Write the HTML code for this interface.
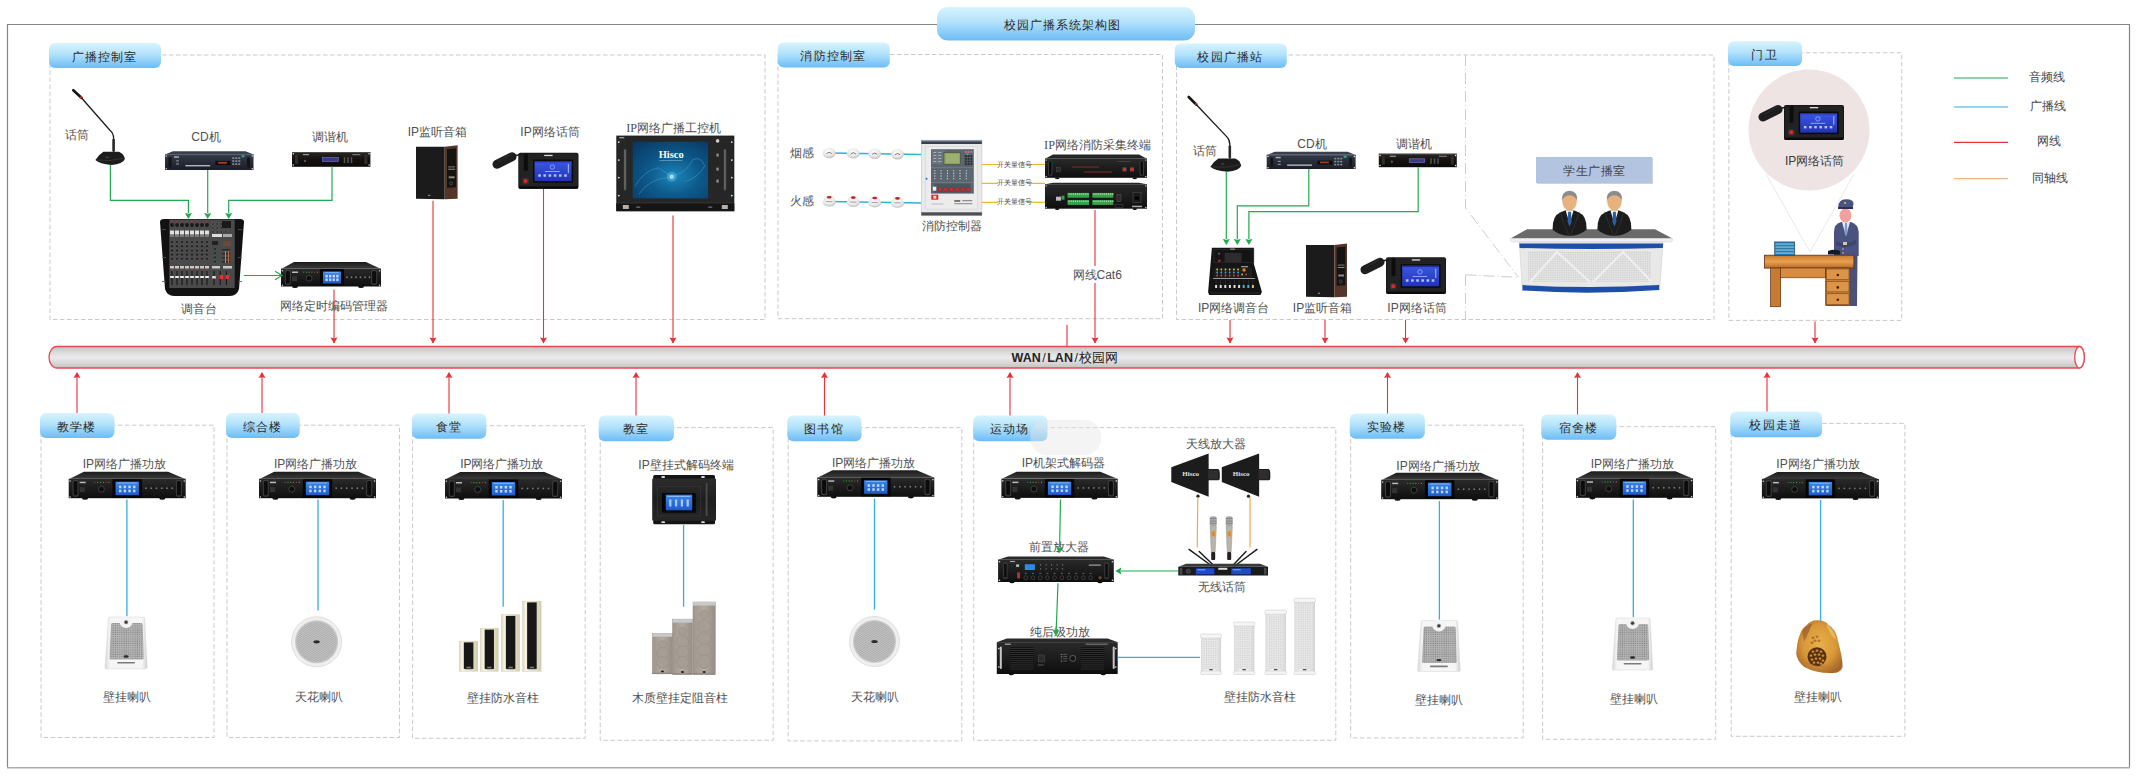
<!DOCTYPE html>
<html><head><meta charset="utf-8"><title>校园广播系统架构图</title>
<style>html,body{margin:0;padding:0;background:#fff;} svg{display:block;}</style></head>
<body>
<svg width="2137" height="776" viewBox="0 0 2137 776">
<defs>
<linearGradient id="gTag" x1="0" y1="0" x2="0" y2="1">
<stop offset="0" stop-color="#d7f4fe"/><stop offset="0.45" stop-color="#b3e2fb"/><stop offset="1" stop-color="#6cbcf7"/></linearGradient>
<linearGradient id="gPipe" x1="0" y1="0" x2="0" y2="1">
<stop offset="0" stop-color="#c4c4c4"/><stop offset="0.5" stop-color="#ececec"/><stop offset="1" stop-color="#c2c4c4"/></linearGradient>
<linearGradient id="gRack" x1="0" y1="0" x2="0" y2="1">
<stop offset="0" stop-color="#2a2a2a"/><stop offset="1" stop-color="#0e0e0e"/></linearGradient>
<linearGradient id="gRackTop" x1="0" y1="0" x2="0" y2="1">
<stop offset="0" stop-color="#1c1c1c"/><stop offset="1" stop-color="#3a3a3a"/></linearGradient>
<linearGradient id="gScreen" x1="0" y1="0" x2="0" y2="1">
<stop offset="0" stop-color="#3d86e6"/><stop offset="1" stop-color="#1d5cc8"/></linearGradient>
<radialGradient id="gCeil" cx="0.5" cy="0.5" r="0.5">
<stop offset="0" stop-color="#a8a8a8"/><stop offset="0.7" stop-color="#cfcfcf"/><stop offset="0.82" stop-color="#e8e8e8"/><stop offset="1" stop-color="#d0d0d0"/></radialGradient>
</defs>
<rect width="2137" height="776" fill="#fff"/>

<path d="M7.5,767.5 L7.5,24.5 L2129.5,24.5 L2129.5,767.5" fill="none" stroke="#858585" stroke-width="1.2"/>
<line x1="7" y1="767.8" x2="2130" y2="767.8" stroke="#ababab" stroke-width="1.4"/>
<rect x="937" y="7" width="258" height="33.5" rx="11" fill="url(#gTag)"/>
<text x="1062.5" y="24.5" font-size="12" text-anchor="middle" fill="#2a2a2a" font-weight="normal" letter-spacing="1" font-family="'Liberation Sans', sans-serif" dominant-baseline="central" >校园广播系统架构图</text>
<rect x="50" y="55" width="715" height="264.5" fill="none" stroke="#c9c9c9" stroke-width="1" stroke-dasharray="4.5 2.5"/>
<rect x="778" y="54.5" width="384.5" height="264.2" fill="none" stroke="#c9c9c9" stroke-width="1" stroke-dasharray="4.5 2.5"/>
<rect x="1176.5" y="55" width="537.5" height="264.5" fill="none" stroke="#c9c9c9" stroke-width="1" stroke-dasharray="4.5 2.5"/>
<rect x="1728.8" y="52.8" width="172.9000000000001" height="267.59999999999997" fill="none" stroke="#c9c9c9" stroke-width="1" stroke-dasharray="4.5 2.5"/>
<rect x="41" y="425.2" width="173" height="312.3" fill="none" stroke="#c9c9c9" stroke-width="1" stroke-dasharray="4.5 2.5"/>
<rect x="227" y="425.2" width="172.5" height="312.3" fill="none" stroke="#c9c9c9" stroke-width="1" stroke-dasharray="4.5 2.5"/>
<rect x="412.6" y="425.7" width="172.60000000000002" height="312.59999999999997" fill="none" stroke="#c9c9c9" stroke-width="1" stroke-dasharray="4.5 2.5"/>
<rect x="600.2" y="427.6" width="173.0" height="312.69999999999993" fill="none" stroke="#c9c9c9" stroke-width="1" stroke-dasharray="4.5 2.5"/>
<rect x="788.2" y="427.6" width="173.5999999999999" height="313.29999999999995" fill="none" stroke="#c9c9c9" stroke-width="1" stroke-dasharray="4.5 2.5"/>
<rect x="973.7" y="427.6" width="362.0999999999999" height="312.69999999999993" fill="none" stroke="#c9c9c9" stroke-width="1" stroke-dasharray="4.5 2.5"/>
<rect x="1350.7" y="425.2" width="172.5" height="312.7" fill="none" stroke="#c9c9c9" stroke-width="1" stroke-dasharray="4.5 2.5"/>
<rect x="1542.6" y="426.7" width="173.10000000000014" height="312.59999999999997" fill="none" stroke="#c9c9c9" stroke-width="1" stroke-dasharray="4.5 2.5"/>
<rect x="1731.2" y="423.4" width="173.5999999999999" height="312.9" fill="none" stroke="#c9c9c9" stroke-width="1" stroke-dasharray="4.5 2.5"/>
<rect x="49" y="43" width="112" height="25" rx="6" fill="url(#gTag)"/>
<text x="104.6" y="56.5" font-size="12" text-anchor="middle" fill="#2a2a2a" font-weight="normal" letter-spacing="1.2" font-family="'Liberation Sans', sans-serif" dominant-baseline="central" >广播控制室</text>
<rect x="777.7" y="42.4" width="112.09999999999991" height="25.1" rx="6" fill="url(#gTag)"/>
<text x="833.35" y="55.95" font-size="12" text-anchor="middle" fill="#2a2a2a" font-weight="normal" letter-spacing="1.2" font-family="'Liberation Sans', sans-serif" dominant-baseline="central" >消防控制室</text>
<rect x="1174.7" y="43.5" width="112.09999999999991" height="24.5" rx="6" fill="url(#gTag)"/>
<text x="1230.35" y="56.75" font-size="12" text-anchor="middle" fill="#2a2a2a" font-weight="normal" letter-spacing="1.2" font-family="'Liberation Sans', sans-serif" dominant-baseline="central" >校园广播站</text>
<rect x="1728" y="41.2" width="74" height="24.799999999999997" rx="6" fill="url(#gTag)"/>
<text x="1764.6" y="54.6" font-size="12" text-anchor="middle" fill="#2a2a2a" font-weight="normal" letter-spacing="1.2" font-family="'Liberation Sans', sans-serif" dominant-baseline="central" >门卫</text>
<rect x="40" y="413" width="74.5" height="25" rx="6" fill="url(#gTag)"/>
<text x="76.85" y="426.5" font-size="12" text-anchor="middle" fill="#2a2a2a" font-weight="normal" letter-spacing="1.2" font-family="'Liberation Sans', sans-serif" dominant-baseline="central" >教学楼</text>
<rect x="226" y="413" width="73.69999999999999" height="25" rx="6" fill="url(#gTag)"/>
<text x="262.45000000000005" y="426.5" font-size="12" text-anchor="middle" fill="#2a2a2a" font-weight="normal" letter-spacing="1.2" font-family="'Liberation Sans', sans-serif" dominant-baseline="central" >综合楼</text>
<rect x="412" y="413.6" width="74.30000000000001" height="25.19999999999999" rx="6" fill="url(#gTag)"/>
<text x="448.75" y="427.20000000000005" font-size="12" text-anchor="middle" fill="#2a2a2a" font-weight="normal" letter-spacing="1.2" font-family="'Liberation Sans', sans-serif" dominant-baseline="central" >食堂</text>
<rect x="598.7" y="415.5" width="75.19999999999993" height="25.69999999999999" rx="6" fill="url(#gTag)"/>
<text x="635.9" y="429.35" font-size="12" text-anchor="middle" fill="#2a2a2a" font-weight="normal" letter-spacing="1.2" font-family="'Liberation Sans', sans-serif" dominant-baseline="central" >教室</text>
<rect x="787.3" y="415.5" width="74.20000000000005" height="25.69999999999999" rx="6" fill="url(#gTag)"/>
<text x="824.0" y="429.35" font-size="12" text-anchor="middle" fill="#2a2a2a" font-weight="normal" letter-spacing="1.2" font-family="'Liberation Sans', sans-serif" dominant-baseline="central" >图书馆</text>
<rect x="973.2" y="415.5" width="74.20000000000005" height="25.69999999999999" rx="6" fill="url(#gTag)"/>
<text x="1009.9000000000001" y="429.35" font-size="12" text-anchor="middle" fill="#2a2a2a" font-weight="normal" letter-spacing="1.2" font-family="'Liberation Sans', sans-serif" dominant-baseline="central" >运动场</text>
<rect x="1349.7" y="413.6" width="75.09999999999991" height="25.19999999999999" rx="6" fill="url(#gTag)"/>
<text x="1386.85" y="427.20000000000005" font-size="12" text-anchor="middle" fill="#2a2a2a" font-weight="normal" letter-spacing="1.2" font-family="'Liberation Sans', sans-serif" dominant-baseline="central" >实验楼</text>
<rect x="1541.2" y="414.5" width="75.09999999999991" height="25.19999999999999" rx="6" fill="url(#gTag)"/>
<text x="1578.35" y="428.1" font-size="12" text-anchor="middle" fill="#2a2a2a" font-weight="normal" letter-spacing="1.2" font-family="'Liberation Sans', sans-serif" dominant-baseline="central" >宿舍楼</text>
<rect x="1730.2" y="411.6" width="91.89999999999986" height="25.599999999999966" rx="6" fill="url(#gTag)"/>
<text x="1775.75" y="425.4" font-size="12" text-anchor="middle" fill="#2a2a2a" font-weight="normal" letter-spacing="1.2" font-family="'Liberation Sans', sans-serif" dominant-baseline="central" >校园走道</text>
<rect x="1030.2" y="419.8" width="70.9" height="35.5" rx="17" fill="#e6e6e6" opacity="0.45"/>
<path d="M57,346.5 L2079.5,346.5 A4.8,10.75 0 0 1 2079.5,368 L57,368 A8,10.75 0 0 1 57,346.5 Z" fill="url(#gPipe)" stroke="#e84a52" stroke-width="1.3"/>
<ellipse cx="2079.5" cy="357.25" rx="4.8" ry="10.75" fill="#fff" stroke="#e84a52" stroke-width="1.3"/>
<text x="1065" y="357.5" font-size="12.5" text-anchor="middle" fill="#222" font-family="'Liberation Sans', sans-serif" dominant-baseline="central"><tspan font-weight="bold">WAN</tspan><tspan dx="1.5">/</tspan><tspan dx="1.5" font-weight="bold">LAN</tspan><tspan dx="1.5">/</tspan><tspan dx="1.5">校园网</tspan></text>
<line x1="1954" y1="78" x2="2008" y2="78" stroke="#22a84f" stroke-width="1.2"/>
<text x="2047" y="77" font-size="12" text-anchor="middle" fill="#444" font-weight="normal" letter-spacing="0" font-family="'Liberation Sans', sans-serif" dominant-baseline="central" >音频线</text>
<line x1="1954" y1="107" x2="2008" y2="107" stroke="#2fb0e0" stroke-width="1.2"/>
<text x="2048" y="106" font-size="12" text-anchor="middle" fill="#444" font-weight="normal" letter-spacing="0" font-family="'Liberation Sans', sans-serif" dominant-baseline="central" >广播线</text>
<line x1="1954" y1="142.4" x2="2008" y2="142.4" stroke="#e8313a" stroke-width="1.2"/>
<text x="2049" y="141.4" font-size="12" text-anchor="middle" fill="#444" font-weight="normal" letter-spacing="0" font-family="'Liberation Sans', sans-serif" dominant-baseline="central" >网线</text>
<line x1="1954" y1="178.6" x2="2008" y2="178.6" stroke="#f3b58a" stroke-width="1.2"/>
<text x="2050" y="177.6" font-size="12" text-anchor="middle" fill="#444" font-weight="normal" letter-spacing="0" font-family="'Liberation Sans', sans-serif" dominant-baseline="central" >同轴线</text>
<path d="M334,289.6 L334,343" fill="none" stroke="#e8313a" stroke-width="1.1" stroke-linejoin="miter"/>
<path d="M334,343.5 L330.5,337.5 L334,338.3 L337.5,337.5Z" fill="#e8313a"/>
<path d="M433,200.8 L433,343" fill="none" stroke="#e8313a" stroke-width="1.1" stroke-linejoin="miter"/>
<path d="M433,343.5 L429.5,337.5 L433,338.3 L436.5,337.5Z" fill="#e8313a"/>
<path d="M543.5,189 L543.5,343" fill="none" stroke="#e8313a" stroke-width="1.1" stroke-linejoin="miter"/>
<path d="M543.5,343.5 L540.0,337.5 L543.5,338.3 L547.0,337.5Z" fill="#e8313a"/>
<path d="M673,215.6 L673,343" fill="none" stroke="#e8313a" stroke-width="1.1" stroke-linejoin="miter"/>
<path d="M673,343.5 L669.5,337.5 L673,338.3 L676.5,337.5Z" fill="#e8313a"/>
<path d="M1095,210 L1095,343" fill="none" stroke="#e8313a" stroke-width="1.1" stroke-linejoin="miter"/>
<path d="M1095,343.5 L1091.5,337.5 L1095,338.3 L1098.5,337.5Z" fill="#e8313a"/>
<path d="M1230,320 L1230,343" fill="none" stroke="#e8313a" stroke-width="1.1" stroke-linejoin="miter"/>
<path d="M1230,343.5 L1226.5,337.5 L1230,338.3 L1233.5,337.5Z" fill="#e8313a"/>
<path d="M1325,320 L1325,343" fill="none" stroke="#e8313a" stroke-width="1.1" stroke-linejoin="miter"/>
<path d="M1325,343.5 L1321.5,337.5 L1325,338.3 L1328.5,337.5Z" fill="#e8313a"/>
<path d="M1405.5,320 L1405.5,343" fill="none" stroke="#e8313a" stroke-width="1.1" stroke-linejoin="miter"/>
<path d="M1405.5,343.5 L1402.0,337.5 L1405.5,338.3 L1409.0,337.5Z" fill="#e8313a"/>
<path d="M1815,321.6 L1815,343" fill="none" stroke="#e8313a" stroke-width="1.1" stroke-linejoin="miter"/>
<path d="M1815,343.5 L1811.5,337.5 L1815,338.3 L1818.5,337.5Z" fill="#e8313a"/>
<path d="M1067,324.7 L1067,346" fill="none" stroke="#e8313a" stroke-width="1.1" stroke-linejoin="miter"/>
<path d="M77,413 L77,373" fill="none" stroke="#e8313a" stroke-width="1.1" stroke-linejoin="miter"/>
<path d="M77,372 L73.5,378 L77,377.2 L80.5,378Z" fill="#e8313a"/>
<path d="M262,413 L262,373" fill="none" stroke="#e8313a" stroke-width="1.1" stroke-linejoin="miter"/>
<path d="M262,372 L258.5,378 L262,377.2 L265.5,378Z" fill="#e8313a"/>
<path d="M449,413.6 L449,373" fill="none" stroke="#e8313a" stroke-width="1.1" stroke-linejoin="miter"/>
<path d="M449,372 L445.5,378 L449,377.2 L452.5,378Z" fill="#e8313a"/>
<path d="M636,415.5 L636,373" fill="none" stroke="#e8313a" stroke-width="1.1" stroke-linejoin="miter"/>
<path d="M636,372 L632.5,378 L636,377.2 L639.5,378Z" fill="#e8313a"/>
<path d="M824.5,415.5 L824.5,373" fill="none" stroke="#e8313a" stroke-width="1.1" stroke-linejoin="miter"/>
<path d="M824.5,372 L821.0,378 L824.5,377.2 L828.0,378Z" fill="#e8313a"/>
<path d="M1010,415.5 L1010,373" fill="none" stroke="#e8313a" stroke-width="1.1" stroke-linejoin="miter"/>
<path d="M1010,372 L1006.5,378 L1010,377.2 L1013.5,378Z" fill="#e8313a"/>
<path d="M1387.5,413.6 L1387.5,373" fill="none" stroke="#e8313a" stroke-width="1.1" stroke-linejoin="miter"/>
<path d="M1387.5,372 L1384.0,378 L1387.5,377.2 L1391.0,378Z" fill="#e8313a"/>
<path d="M1577.5,414.5 L1577.5,373" fill="none" stroke="#e8313a" stroke-width="1.1" stroke-linejoin="miter"/>
<path d="M1577.5,372 L1574.0,378 L1577.5,377.2 L1581.0,378Z" fill="#e8313a"/>
<path d="M1767,411.6 L1767,373" fill="none" stroke="#e8313a" stroke-width="1.1" stroke-linejoin="miter"/>
<path d="M1767,372 L1763.5,378 L1767,377.2 L1770.5,378Z" fill="#e8313a"/>
<line x1="73.3" y1="90.2" x2="81.4" y2="97.8" stroke="#151515" stroke-width="2.6" stroke-linecap="round"/>
<line x1="80.43" y1="96.89" x2="81.81" y2="98.18" stroke="#d83a2a" stroke-width="2.8"/>
<path d="M81.4,97.8 L109.9,130.2 Q113.6,133.2 113.6,138.3 L113.6,151.7" fill="none" stroke="#1a1a1a" stroke-width="1.3" />
<rect x="112.30" y="138.70" width="2.60" height="13.00" rx="1" fill="#2a2a2a" stroke="none" stroke-width="1" />
<path d="M103.4,151.7 L118.9,151.7 Q123.9,153.7 124.9,159 Q122.9,164 111.62,165 Q99.4,164 95.4,160 Q98.4,154.7 103.4,151.7 Z" fill="#1c1c1c" stroke="none" stroke-width="1" />
<path d="M97.4,160 Q110.15,162 123.9,158" fill="none" stroke="#4a4a4a" stroke-width="0.5" />
<rect x="105.73" y="156.70" width="3.00" height="1.00" rx="0" fill="#555" stroke="none" stroke-width="1" />
<text x="76.5" y="134.8" font-size="12" text-anchor="middle" fill="#505050" font-weight="normal" letter-spacing="0" font-family="'Liberation Sans', sans-serif" dominant-baseline="central" >话筒</text>
<polygon points="173.00,151.30 245.50,151.30 253.00,154.30 165.50,154.30" fill="#3a3f4e" stroke="none" stroke-width="1"/>
<defs><linearGradient id="gCd" x1="0" y1="0" x2="0" y2="1"><stop offset="0" stop-color="#353a48"/><stop offset="1" stop-color="#1b1e27"/></linearGradient></defs>
<rect x="165.00" y="154.30" width="88.50" height="15.70" rx="0" fill="url(#gCd)" stroke="none" stroke-width="1" />
<rect x="165.00" y="154.30" width="88.50" height="0.80" rx="0" fill="#5a6070" stroke="none" stroke-width="1" />
<rect x="165.50" y="155.30" width="1.50" height="1.50" rx="0.7" fill="#ddd" stroke="none" stroke-width="1" />
<rect x="251.50" y="155.30" width="1.50" height="1.50" rx="0.7" fill="#ddd" stroke="none" stroke-width="1" />
<rect x="165.50" y="168.00" width="1.50" height="1.50" rx="0.7" fill="#ddd" stroke="none" stroke-width="1" />
<rect x="251.50" y="168.00" width="1.50" height="1.50" rx="0.7" fill="#ddd" stroke="none" stroke-width="1" />
<rect x="168.50" y="157.30" width="3.00" height="10.20" rx="1" fill="#12141a" stroke="none" stroke-width="1" />
<rect x="247.00" y="157.30" width="3.00" height="10.20" rx="1" fill="#12141a" stroke="none" stroke-width="1" />
<rect x="174.00" y="156.30" width="5.00" height="1.50" rx="0" fill="#aab" stroke="none" stroke-width="1" />
<rect x="176.00" y="160.30" width="3.00" height="1.20" rx="0" fill="#889" stroke="none" stroke-width="1" />
<rect x="176.00" y="163.30" width="3.00" height="1.20" rx="0" fill="#889" stroke="none" stroke-width="1" />
<rect x="185.35" y="165.12" width="24.78" height="1.20" rx="0" fill="#c8ccd8" stroke="none" stroke-width="1" />
<rect x="215.44" y="160.90" width="15.05" height="4.22" rx="0" fill="#0d0d10" stroke="none" stroke-width="1" />
<rect x="218.10" y="161.86" width="8.85" height="1.92" rx="0" fill="#c84a1a" stroke="none" stroke-width="1" opacity="0.8"/>
<rect x="232.26" y="157.30" width="2.00" height="1.60" rx="0" fill="#8890a0" stroke="none" stroke-width="1" />
<rect x="235.26" y="157.30" width="2.00" height="1.60" rx="0" fill="#8890a0" stroke="none" stroke-width="1" />
<rect x="238.26" y="157.30" width="2.00" height="1.60" rx="0" fill="#8890a0" stroke="none" stroke-width="1" />
<rect x="232.26" y="160.30" width="2.00" height="1.60" rx="0" fill="#8890a0" stroke="none" stroke-width="1" />
<rect x="235.26" y="160.30" width="2.00" height="1.60" rx="0" fill="#8890a0" stroke="none" stroke-width="1" />
<rect x="238.26" y="160.30" width="2.00" height="1.60" rx="0" fill="#8890a0" stroke="none" stroke-width="1" />
<rect x="232.26" y="163.30" width="2.00" height="1.60" rx="0" fill="#8890a0" stroke="none" stroke-width="1" />
<rect x="235.26" y="163.30" width="2.00" height="1.60" rx="0" fill="#8890a0" stroke="none" stroke-width="1" />
<rect x="238.26" y="163.30" width="2.00" height="1.60" rx="0" fill="#8890a0" stroke="none" stroke-width="1" />
<rect x="241.50" y="155.30" width="3.00" height="2.00" rx="0" fill="#3a8" stroke="none" stroke-width="1" />
<text x="206" y="137" font-size="12" text-anchor="middle" fill="#505050" font-weight="normal" letter-spacing="0" font-family="'Liberation Sans', sans-serif" dominant-baseline="central" >CD机</text>
<defs><linearGradient id="gTun" x1="0" y1="0" x2="0" y2="1"><stop offset="0" stop-color="#2a2624"/><stop offset="0.5" stop-color="#14120f"/><stop offset="1" stop-color="#0a0a0a"/></linearGradient></defs>
<rect x="292.00" y="152.00" width="78.40" height="14.80" rx="0" fill="url(#gTun)" stroke="none" stroke-width="1" />
<rect x="292.00" y="152.00" width="78.40" height="0.80" rx="0" fill="#555" stroke="none" stroke-width="1" />
<rect x="292.50" y="153.00" width="1.50" height="1.50" rx="0.7" fill="#e8e8e8" stroke="none" stroke-width="1" />
<rect x="368.40" y="153.00" width="1.50" height="1.50" rx="0.7" fill="#e8e8e8" stroke="none" stroke-width="1" />
<rect x="292.50" y="164.30" width="1.50" height="1.50" rx="0.7" fill="#e8e8e8" stroke="none" stroke-width="1" />
<rect x="368.40" y="164.30" width="1.50" height="1.50" rx="0.7" fill="#e8e8e8" stroke="none" stroke-width="1" />
<rect x="295.00" y="154.50" width="3.00" height="9.80" rx="1" fill="#2e2e2e" stroke="none" stroke-width="1" />
<rect x="364.40" y="154.50" width="3.00" height="9.80" rx="1" fill="#2e2e2e" stroke="none" stroke-width="1" />
<rect x="322.58" y="157.62" width="15.68" height="4.00" rx="0" fill="#3a3a80" stroke="#7a7ad0" stroke-width="0.6" />
<rect x="303.00" y="154.00" width="6.00" height="1.20" rx="0" fill="#999" stroke="none" stroke-width="1" />
<circle cx="305" cy="160.88" r="1.2" fill="#555"/>
<rect x="343.74" y="157.18" width="1.50" height="5.92" rx="0" fill="#555" stroke="none" stroke-width="1" />
<rect x="347.24" y="157.18" width="1.50" height="5.92" rx="0" fill="#555" stroke="none" stroke-width="1" />
<rect x="350.74" y="157.18" width="1.50" height="5.92" rx="0" fill="#555" stroke="none" stroke-width="1" />
<rect x="352.40" y="154.00" width="8.00" height="1.20" rx="0" fill="#777" stroke="none" stroke-width="1" />
<text x="330" y="137" font-size="12" text-anchor="middle" fill="#505050" font-weight="normal" letter-spacing="0" font-family="'Liberation Sans', sans-serif" dominant-baseline="central" >调谐机</text>
<path d="M160,222 Q160,219 164,219 L240,219 Q244,219 244,222 L239,289 Q237,296 230,296 L174,296 Q167,296 165,289 Z" fill="#121212" stroke="none" stroke-width="1" />
<rect x="162.00" y="229.00" width="4.00" height="0.80" rx="0" fill="#555" stroke="none" stroke-width="1" />
<rect x="238.00" y="229.00" width="4.00" height="0.80" rx="0" fill="#555" stroke="none" stroke-width="1" />
<rect x="162.00" y="257.00" width="4.00" height="0.80" rx="0" fill="#555" stroke="none" stroke-width="1" />
<rect x="238.00" y="257.00" width="4.00" height="0.80" rx="0" fill="#555" stroke="none" stroke-width="1" />
<rect x="162.00" y="281.00" width="4.00" height="0.80" rx="0" fill="#555" stroke="none" stroke-width="1" />
<rect x="238.00" y="281.00" width="4.00" height="0.80" rx="0" fill="#555" stroke="none" stroke-width="1" />
<rect x="169.30" y="219.50" width="65.40" height="68.50" rx="0" fill="#4a4a4a" stroke="none" stroke-width="1" />
<circle cx="172.00" cy="225.00" r="1.9" fill="#1a1a1a"/>
<rect x="171.60" y="221.00" width="0.80" height="1.20" rx="0" fill="#d33" stroke="none" stroke-width="1" />
<rect x="170.00" y="230.50" width="4.00" height="4.00" rx="0" fill="#e0e0e0" stroke="none" stroke-width="1" />
<rect x="170.00" y="235.50" width="4.00" height="1.00" rx="0" fill="#aaa" stroke="none" stroke-width="1" />
<circle cx="172.00" cy="242.00" r="1.5" fill="#1e1e1e" stroke="#777" stroke-width="0.35"/>
<circle cx="172.00" cy="246.20" r="1.5" fill="#1e1e1e" stroke="#777" stroke-width="0.35"/>
<circle cx="172.00" cy="250.40" r="1.5" fill="#1e1e1e" stroke="#777" stroke-width="0.35"/>
<circle cx="172.00" cy="254.60" r="1.5" fill="#1e1e1e" stroke="#777" stroke-width="0.35"/>
<circle cx="172.00" cy="258.80" r="1.5" fill="#1e1e1e" stroke="#777" stroke-width="0.35"/>
<rect x="170.00" y="266.00" width="4.00" height="2.50" rx="0" fill="#c8c8c8" stroke="none" stroke-width="1" />
<rect x="171.50" y="271.00" width="1.00" height="14.00" rx="0" fill="#111" stroke="none" stroke-width="1" />
<rect x="170.20" y="276.00" width="3.60" height="2.00" rx="0" fill="#eee" stroke="none" stroke-width="1" />
<rect x="171.60" y="269.50" width="0.80" height="1.00" rx="0" fill="#d33" stroke="none" stroke-width="1" />
<circle cx="177.00" cy="225.00" r="1.9" fill="#1a1a1a"/>
<rect x="176.60" y="221.00" width="0.80" height="1.20" rx="0" fill="#d33" stroke="none" stroke-width="1" />
<rect x="175.00" y="230.50" width="4.00" height="4.00" rx="0" fill="#e0e0e0" stroke="none" stroke-width="1" />
<rect x="175.00" y="235.50" width="4.00" height="1.00" rx="0" fill="#aaa" stroke="none" stroke-width="1" />
<circle cx="177.00" cy="242.00" r="1.5" fill="#1e1e1e" stroke="#777" stroke-width="0.35"/>
<circle cx="177.00" cy="246.20" r="1.5" fill="#1e1e1e" stroke="#777" stroke-width="0.35"/>
<circle cx="177.00" cy="250.40" r="1.5" fill="#1e1e1e" stroke="#777" stroke-width="0.35"/>
<circle cx="177.00" cy="254.60" r="1.5" fill="#1e1e1e" stroke="#777" stroke-width="0.35"/>
<circle cx="177.00" cy="258.80" r="1.5" fill="#1e1e1e" stroke="#777" stroke-width="0.35"/>
<rect x="175.00" y="266.00" width="4.00" height="2.50" rx="0" fill="#c8c8c8" stroke="none" stroke-width="1" />
<rect x="176.50" y="271.00" width="1.00" height="14.00" rx="0" fill="#111" stroke="none" stroke-width="1" />
<rect x="175.20" y="276.00" width="3.60" height="2.00" rx="0" fill="#eee" stroke="none" stroke-width="1" />
<rect x="176.60" y="269.50" width="0.80" height="1.00" rx="0" fill="#d33" stroke="none" stroke-width="1" />
<circle cx="182.00" cy="225.00" r="1.9" fill="#1a1a1a"/>
<rect x="181.60" y="221.00" width="0.80" height="1.20" rx="0" fill="#d33" stroke="none" stroke-width="1" />
<rect x="180.00" y="230.50" width="4.00" height="4.00" rx="0" fill="#e0e0e0" stroke="none" stroke-width="1" />
<rect x="180.00" y="235.50" width="4.00" height="1.00" rx="0" fill="#aaa" stroke="none" stroke-width="1" />
<circle cx="182.00" cy="242.00" r="1.5" fill="#1e1e1e" stroke="#777" stroke-width="0.35"/>
<circle cx="182.00" cy="246.20" r="1.5" fill="#1e1e1e" stroke="#777" stroke-width="0.35"/>
<circle cx="182.00" cy="250.40" r="1.5" fill="#1e1e1e" stroke="#777" stroke-width="0.35"/>
<circle cx="182.00" cy="254.60" r="1.5" fill="#1e1e1e" stroke="#777" stroke-width="0.35"/>
<circle cx="182.00" cy="258.80" r="1.5" fill="#1e1e1e" stroke="#777" stroke-width="0.35"/>
<rect x="180.00" y="266.00" width="4.00" height="2.50" rx="0" fill="#c8c8c8" stroke="none" stroke-width="1" />
<rect x="181.50" y="271.00" width="1.00" height="14.00" rx="0" fill="#111" stroke="none" stroke-width="1" />
<rect x="180.20" y="276.00" width="3.60" height="2.00" rx="0" fill="#eee" stroke="none" stroke-width="1" />
<rect x="181.60" y="269.50" width="0.80" height="1.00" rx="0" fill="#d33" stroke="none" stroke-width="1" />
<circle cx="187.00" cy="225.00" r="1.9" fill="#1a1a1a"/>
<rect x="186.60" y="221.00" width="0.80" height="1.20" rx="0" fill="#d33" stroke="none" stroke-width="1" />
<rect x="185.00" y="230.50" width="4.00" height="4.00" rx="0" fill="#e0e0e0" stroke="none" stroke-width="1" />
<rect x="185.00" y="235.50" width="4.00" height="1.00" rx="0" fill="#aaa" stroke="none" stroke-width="1" />
<circle cx="187.00" cy="242.00" r="1.5" fill="#1e1e1e" stroke="#777" stroke-width="0.35"/>
<circle cx="187.00" cy="246.20" r="1.5" fill="#1e1e1e" stroke="#777" stroke-width="0.35"/>
<circle cx="187.00" cy="250.40" r="1.5" fill="#1e1e1e" stroke="#777" stroke-width="0.35"/>
<circle cx="187.00" cy="254.60" r="1.5" fill="#1e1e1e" stroke="#777" stroke-width="0.35"/>
<circle cx="187.00" cy="258.80" r="1.5" fill="#1e1e1e" stroke="#777" stroke-width="0.35"/>
<rect x="185.00" y="266.00" width="4.00" height="2.50" rx="0" fill="#c8c8c8" stroke="none" stroke-width="1" />
<rect x="186.50" y="271.00" width="1.00" height="14.00" rx="0" fill="#111" stroke="none" stroke-width="1" />
<rect x="185.20" y="276.00" width="3.60" height="2.00" rx="0" fill="#eee" stroke="none" stroke-width="1" />
<rect x="186.60" y="269.50" width="0.80" height="1.00" rx="0" fill="#d33" stroke="none" stroke-width="1" />
<circle cx="192.00" cy="225.00" r="1.9" fill="#1a1a1a"/>
<rect x="191.60" y="221.00" width="0.80" height="1.20" rx="0" fill="#d33" stroke="none" stroke-width="1" />
<rect x="190.00" y="230.50" width="4.00" height="4.00" rx="0" fill="#e0e0e0" stroke="none" stroke-width="1" />
<rect x="190.00" y="235.50" width="4.00" height="1.00" rx="0" fill="#aaa" stroke="none" stroke-width="1" />
<circle cx="192.00" cy="242.00" r="1.5" fill="#1e1e1e" stroke="#777" stroke-width="0.35"/>
<circle cx="192.00" cy="246.20" r="1.5" fill="#1e1e1e" stroke="#777" stroke-width="0.35"/>
<circle cx="192.00" cy="250.40" r="1.5" fill="#1e1e1e" stroke="#777" stroke-width="0.35"/>
<circle cx="192.00" cy="254.60" r="1.5" fill="#1e1e1e" stroke="#777" stroke-width="0.35"/>
<circle cx="192.00" cy="258.80" r="1.5" fill="#1e1e1e" stroke="#777" stroke-width="0.35"/>
<rect x="190.00" y="266.00" width="4.00" height="2.50" rx="0" fill="#c8c8c8" stroke="none" stroke-width="1" />
<rect x="191.50" y="271.00" width="1.00" height="14.00" rx="0" fill="#111" stroke="none" stroke-width="1" />
<rect x="190.20" y="276.00" width="3.60" height="2.00" rx="0" fill="#eee" stroke="none" stroke-width="1" />
<rect x="191.60" y="269.50" width="0.80" height="1.00" rx="0" fill="#d33" stroke="none" stroke-width="1" />
<circle cx="197.00" cy="225.00" r="1.9" fill="#1a1a1a"/>
<rect x="196.60" y="221.00" width="0.80" height="1.20" rx="0" fill="#d33" stroke="none" stroke-width="1" />
<rect x="195.00" y="230.50" width="4.00" height="4.00" rx="0" fill="#e0e0e0" stroke="none" stroke-width="1" />
<rect x="195.00" y="235.50" width="4.00" height="1.00" rx="0" fill="#aaa" stroke="none" stroke-width="1" />
<circle cx="197.00" cy="242.00" r="1.5" fill="#1e1e1e" stroke="#777" stroke-width="0.35"/>
<circle cx="197.00" cy="246.20" r="1.5" fill="#1e1e1e" stroke="#777" stroke-width="0.35"/>
<circle cx="197.00" cy="250.40" r="1.5" fill="#1e1e1e" stroke="#777" stroke-width="0.35"/>
<circle cx="197.00" cy="254.60" r="1.5" fill="#1e1e1e" stroke="#777" stroke-width="0.35"/>
<circle cx="197.00" cy="258.80" r="1.5" fill="#1e1e1e" stroke="#777" stroke-width="0.35"/>
<rect x="195.00" y="266.00" width="4.00" height="2.50" rx="0" fill="#c8c8c8" stroke="none" stroke-width="1" />
<rect x="196.50" y="271.00" width="1.00" height="14.00" rx="0" fill="#111" stroke="none" stroke-width="1" />
<rect x="195.20" y="276.00" width="3.60" height="2.00" rx="0" fill="#eee" stroke="none" stroke-width="1" />
<rect x="196.60" y="269.50" width="0.80" height="1.00" rx="0" fill="#d33" stroke="none" stroke-width="1" />
<circle cx="202.00" cy="225.00" r="1.9" fill="#1a1a1a"/>
<rect x="201.60" y="221.00" width="0.80" height="1.20" rx="0" fill="#d33" stroke="none" stroke-width="1" />
<rect x="200.00" y="230.50" width="4.00" height="4.00" rx="0" fill="#e0e0e0" stroke="none" stroke-width="1" />
<rect x="200.00" y="235.50" width="4.00" height="1.00" rx="0" fill="#aaa" stroke="none" stroke-width="1" />
<circle cx="202.00" cy="242.00" r="1.5" fill="#1e1e1e" stroke="#777" stroke-width="0.35"/>
<circle cx="202.00" cy="246.20" r="1.5" fill="#1e1e1e" stroke="#777" stroke-width="0.35"/>
<circle cx="202.00" cy="250.40" r="1.5" fill="#1e1e1e" stroke="#777" stroke-width="0.35"/>
<circle cx="202.00" cy="254.60" r="1.5" fill="#1e1e1e" stroke="#777" stroke-width="0.35"/>
<circle cx="202.00" cy="258.80" r="1.5" fill="#1e1e1e" stroke="#777" stroke-width="0.35"/>
<rect x="200.00" y="266.00" width="4.00" height="2.50" rx="0" fill="#c8c8c8" stroke="none" stroke-width="1" />
<rect x="201.50" y="271.00" width="1.00" height="14.00" rx="0" fill="#111" stroke="none" stroke-width="1" />
<rect x="200.20" y="276.00" width="3.60" height="2.00" rx="0" fill="#eee" stroke="none" stroke-width="1" />
<rect x="201.60" y="269.50" width="0.80" height="1.00" rx="0" fill="#d33" stroke="none" stroke-width="1" />
<circle cx="207.00" cy="225.00" r="1.9" fill="#1a1a1a"/>
<rect x="206.60" y="221.00" width="0.80" height="1.20" rx="0" fill="#d33" stroke="none" stroke-width="1" />
<rect x="205.00" y="230.50" width="4.00" height="4.00" rx="0" fill="#e0e0e0" stroke="none" stroke-width="1" />
<rect x="205.00" y="235.50" width="4.00" height="1.00" rx="0" fill="#aaa" stroke="none" stroke-width="1" />
<circle cx="207.00" cy="242.00" r="1.5" fill="#1e1e1e" stroke="#777" stroke-width="0.35"/>
<circle cx="207.00" cy="246.20" r="1.5" fill="#1e1e1e" stroke="#777" stroke-width="0.35"/>
<circle cx="207.00" cy="250.40" r="1.5" fill="#1e1e1e" stroke="#777" stroke-width="0.35"/>
<circle cx="207.00" cy="254.60" r="1.5" fill="#1e1e1e" stroke="#777" stroke-width="0.35"/>
<circle cx="207.00" cy="258.80" r="1.5" fill="#1e1e1e" stroke="#777" stroke-width="0.35"/>
<rect x="205.00" y="266.00" width="4.00" height="2.50" rx="0" fill="#c8c8c8" stroke="none" stroke-width="1" />
<rect x="206.50" y="271.00" width="1.00" height="14.00" rx="0" fill="#111" stroke="none" stroke-width="1" />
<rect x="205.20" y="276.00" width="3.60" height="2.00" rx="0" fill="#eee" stroke="none" stroke-width="1" />
<rect x="206.60" y="269.50" width="0.80" height="1.00" rx="0" fill="#d33" stroke="none" stroke-width="1" />
<circle cx="213.00" cy="224.00" r="1.3" fill="#2a2a2a" stroke="#888" stroke-width="0.3"/>
<circle cx="217.20" cy="224.00" r="1.3" fill="#2a2a2a" stroke="#888" stroke-width="0.3"/>
<circle cx="221.40" cy="224.00" r="1.3" fill="#2a2a2a" stroke="#888" stroke-width="0.3"/>
<circle cx="225.60" cy="224.00" r="1.3" fill="#2a2a2a" stroke="#888" stroke-width="0.3"/>
<circle cx="213.00" cy="228.00" r="1.3" fill="#2a2a2a" stroke="#888" stroke-width="0.3"/>
<circle cx="217.20" cy="228.00" r="1.3" fill="#2a2a2a" stroke="#888" stroke-width="0.3"/>
<circle cx="221.40" cy="228.00" r="1.3" fill="#2a2a2a" stroke="#888" stroke-width="0.3"/>
<circle cx="225.60" cy="228.00" r="1.3" fill="#2a2a2a" stroke="#888" stroke-width="0.3"/>
<circle cx="213.00" cy="232.00" r="1.3" fill="#2a2a2a" stroke="#888" stroke-width="0.3"/>
<circle cx="217.20" cy="232.00" r="1.3" fill="#2a2a2a" stroke="#888" stroke-width="0.3"/>
<circle cx="221.40" cy="232.00" r="1.3" fill="#2a2a2a" stroke="#888" stroke-width="0.3"/>
<circle cx="225.60" cy="232.00" r="1.3" fill="#2a2a2a" stroke="#888" stroke-width="0.3"/>
<rect x="222.00" y="221.00" width="9.00" height="7.00" rx="0" fill="#1a1a1a" stroke="none" stroke-width="1" />
<rect x="212.00" y="234.00" width="10.00" height="3.00" rx="0" fill="#ddd" stroke="none" stroke-width="1" />
<rect x="223.00" y="234.00" width="9.00" height="3.00" rx="0" fill="#aaa" stroke="none" stroke-width="1" />
<rect x="223.00" y="241.00" width="8.00" height="5.00" rx="0" fill="#6a4a3a" stroke="none" stroke-width="1" />
<rect x="212.00" y="241.00" width="6.00" height="4.00" rx="0" fill="#222" stroke="none" stroke-width="1" />
<circle cx="215.00" cy="249.00" r="1.4" fill="#1e1e1e" stroke="#3a8" stroke-width="0.3"/>
<rect x="222.00" y="249.00" width="8.00" height="1.50" rx="0" fill="#2a2a2a" stroke="none" stroke-width="1" />
<circle cx="215.00" cy="253.20" r="1.4" fill="#1e1e1e" stroke="#3a8" stroke-width="0.3"/>
<rect x="222.00" y="253.00" width="8.00" height="1.50" rx="0" fill="#2a2a2a" stroke="none" stroke-width="1" />
<circle cx="215.00" cy="257.40" r="1.4" fill="#1e1e1e" stroke="#3a8" stroke-width="0.3"/>
<rect x="222.00" y="257.00" width="8.00" height="1.50" rx="0" fill="#2a2a2a" stroke="none" stroke-width="1" />
<circle cx="215.00" cy="261.60" r="1.4" fill="#1e1e1e" stroke="#3a8" stroke-width="0.3"/>
<rect x="222.00" y="261.00" width="8.00" height="1.50" rx="0" fill="#2a2a2a" stroke="none" stroke-width="1" />
<rect x="225.00" y="251.00" width="1.00" height="12.00" rx="0" fill="#3c6" stroke="none" stroke-width="1" />
<rect x="228.00" y="251.00" width="1.00" height="12.00" rx="0" fill="#c63" stroke="none" stroke-width="1" />
<rect x="212.00" y="266.00" width="8.00" height="2.50" rx="0" fill="#c8c8c8" stroke="none" stroke-width="1" />
<rect x="223.00" y="266.00" width="9.00" height="2.50" rx="0" fill="#c8c8c8" stroke="none" stroke-width="1" />
<rect x="213.50" y="271.00" width="1.00" height="14.00" rx="0" fill="#111" stroke="none" stroke-width="1" />
<rect x="219.70" y="271.00" width="1.00" height="14.00" rx="0" fill="#111" stroke="none" stroke-width="1" />
<rect x="225.90" y="271.00" width="1.00" height="14.00" rx="0" fill="#111" stroke="none" stroke-width="1" />
<rect x="212.20" y="276.00" width="3.60" height="2.50" rx="0" fill="#ddd" stroke="none" stroke-width="1" />
<rect x="219.50" y="275.00" width="3.60" height="4.00" rx="0" fill="#d33" stroke="none" stroke-width="1" />
<rect x="225.50" y="275.00" width="3.60" height="4.00" rx="0" fill="#d33" stroke="none" stroke-width="1" />
<text x="199" y="308.5" font-size="12" text-anchor="middle" fill="#505050" font-weight="normal" letter-spacing="0" font-family="'Liberation Sans', sans-serif" dominant-baseline="central" >调音台</text>
<polygon points="294.00,262.00 366.00,262.00 380.00,268.50 282.00,268.50" fill="url(#gRackTop)" stroke="none" stroke-width="1"/>
<rect x="281.00" y="268.50" width="100.00" height="18.00" rx="0" fill="url(#gRack)" stroke="none" stroke-width="1" />
<rect x="281.60" y="270.00" width="1.60" height="1.60" rx="0.8" fill="#cfcfcf" stroke="none" stroke-width="1" />
<rect x="378.80" y="270.00" width="1.60" height="1.60" rx="0.8" fill="#cfcfcf" stroke="none" stroke-width="1" />
<rect x="281.60" y="284.50" width="1.60" height="1.60" rx="0.8" fill="#cfcfcf" stroke="none" stroke-width="1" />
<rect x="378.80" y="284.50" width="1.60" height="1.60" rx="0.8" fill="#cfcfcf" stroke="none" stroke-width="1" />
<rect x="284.80" y="269.70" width="6.00" height="15.30" rx="2" fill="#3e3e3e" stroke="none" stroke-width="1" />
<rect x="285.80" y="270.90" width="4.00" height="12.90" rx="1.5" fill="#0c0c0c" stroke="none" stroke-width="1" />
<rect x="371.20" y="269.70" width="6.00" height="15.30" rx="2" fill="#3e3e3e" stroke="none" stroke-width="1" />
<rect x="372.20" y="270.90" width="4.00" height="12.90" rx="1.5" fill="#0c0c0c" stroke="none" stroke-width="1" />
<ellipse cx="295.00" cy="286.80" rx="3" ry="1.3" fill="#111"/>
<ellipse cx="361.00" cy="286.80" rx="3" ry="1.3" fill="#111"/>
<rect x="320.00" y="269.00" width="24.00" height="17.00" rx="0" fill="#050505" stroke="none" stroke-width="1" />
<rect x="323.00" y="271.50" width="18.00" height="12.00" rx="0" fill="url(#gScreen)" stroke="none" stroke-width="1" />
<rect x="325.00" y="272.50" width="14.00" height="0.60" rx="0" fill="#a8ccff" stroke="none" stroke-width="1" />
<rect x="325.40" y="274.86" width="2.40" height="2.60" rx="0" fill="#d8e8ff" stroke="none" stroke-width="1" opacity="0.85"/>
<rect x="325.40" y="278.46" width="2.40" height="2.60" rx="0" fill="#d8e8ff" stroke="none" stroke-width="1" opacity="0.85"/>
<rect x="329.00" y="274.86" width="2.40" height="2.60" rx="0" fill="#d8e8ff" stroke="none" stroke-width="1" opacity="0.85"/>
<rect x="329.00" y="278.46" width="2.40" height="2.60" rx="0" fill="#d8e8ff" stroke="none" stroke-width="1" opacity="0.85"/>
<rect x="332.60" y="274.86" width="2.40" height="2.60" rx="0" fill="#d8e8ff" stroke="none" stroke-width="1" opacity="0.85"/>
<rect x="332.60" y="278.46" width="2.40" height="2.60" rx="0" fill="#d8e8ff" stroke="none" stroke-width="1" opacity="0.85"/>
<rect x="336.20" y="274.86" width="2.40" height="2.60" rx="0" fill="#d8e8ff" stroke="none" stroke-width="1" opacity="0.85"/>
<rect x="336.20" y="278.46" width="2.40" height="2.60" rx="0" fill="#d8e8ff" stroke="none" stroke-width="1" opacity="0.85"/>
<rect x="292.00" y="271.50" width="6.00" height="1.50" rx="0" fill="#bbb" stroke="none" stroke-width="1" />
<rect x="303.00" y="271.70" width="1.00" height="1.00" rx="0" fill="#666" stroke="none" stroke-width="1" />
<rect x="305.80" y="271.70" width="1.00" height="1.00" rx="0" fill="#3c3" stroke="none" stroke-width="1" />
<rect x="308.60" y="271.70" width="1.00" height="1.00" rx="0" fill="#3c3" stroke="none" stroke-width="1" />
<rect x="311.40" y="271.70" width="1.00" height="1.00" rx="0" fill="#3c3" stroke="none" stroke-width="1" />
<rect x="314.20" y="271.70" width="1.00" height="1.00" rx="0" fill="#c33" stroke="none" stroke-width="1" />
<rect x="317.00" y="271.70" width="1.00" height="1.00" rx="0" fill="#c83" stroke="none" stroke-width="1" />
<circle cx="309.00" cy="278.25" r="3" fill="#0d0d0d" stroke="#4a4a4a" stroke-width="0.8"/>
<rect x="292.00" y="276.30" width="5.00" height="5.00" rx="0" fill="#333" stroke="none" stroke-width="1" />
<circle cx="347.00" cy="277.27" r="0.9" fill="#777"/>
<circle cx="351.50" cy="277.27" r="0.9" fill="#777"/>
<circle cx="356.00" cy="277.27" r="0.9" fill="#777"/>
<circle cx="360.50" cy="277.27" r="0.9" fill="#777"/>
<circle cx="365.00" cy="277.27" r="0.9" fill="#777"/>
<circle cx="369.50" cy="277.27" r="0.9" fill="#777"/>
<text x="334" y="305.7" font-size="12" text-anchor="middle" fill="#505050" font-weight="normal" letter-spacing="0" font-family="'Liberation Sans', sans-serif" dominant-baseline="central" >网络定时编码管理器</text>
<polygon points="416.00,146.80 444.70,146.80 444.70,199.30 416.00,198.80" fill="#1b1b1b" stroke="none" stroke-width="1"/>
<polygon points="444.70,146.80 457.60,145.30 457.60,198.80 444.70,199.30" fill="#553528" stroke="none" stroke-width="1"/>
<polygon points="447.00,149.30 456.00,148.30 456.00,187.30 447.00,187.80" fill="#141414" stroke="none" stroke-width="1"/>
<rect x="448.20" y="166.30" width="6.90" height="1.20" rx="0" fill="#6a6a6a" stroke="none" stroke-width="1" />
<rect x="448.20" y="168.80" width="6.90" height="0.80" rx="0" fill="#aaa" stroke="none" stroke-width="1" />
<rect x="448.70" y="176.30" width="5.90" height="2.00" rx="0" fill="#888" stroke="none" stroke-width="1" />
<circle cx="451.15" cy="183.30" r="1.5" fill="none" stroke="#777" stroke-width="0.5"/>
<rect x="428.06" y="194.80" width="2.20" height="1.20" rx="0" fill="#888" stroke="none" stroke-width="1" />
<text x="437.3" y="132" font-size="12" text-anchor="middle" fill="#505050" font-weight="normal" letter-spacing="0" font-family="'Liberation Sans', sans-serif" dominant-baseline="central" >IP监听音箱</text>
<rect x="518.30" y="152.80" width="60.20" height="35.90" rx="2" fill="#141414" stroke="none" stroke-width="1" />
<rect x="519.10" y="153.60" width="58.60" height="32.90" rx="1.5" fill="#222" stroke="none" stroke-width="1" />
<rect x="518.80" y="186.50" width="59.20" height="2.20" rx="1" fill="#0a0a0a" stroke="none" stroke-width="1" />
<rect x="523.80" y="153.30" width="4.00" height="17.95" rx="2" fill="#0c0c0c" stroke="none" stroke-width="1" />
<line x1="514.00" y1="155.80" x2="525.80" y2="153.80" stroke="#1a1a1a" stroke-width="1.6"/>
<line x1="497.00" y1="164.30" x2="512.00" y2="156.80" stroke="#1e1e1e" stroke-width="9" stroke-linecap="round"/>
<line x1="498.00" y1="161.80" x2="511.00" y2="154.30" stroke="#3a3a3a" stroke-width="1" opacity="0.6"/>
<rect x="533.05" y="159.56" width="40.02" height="23.10" rx="0" fill="#0a0a0a" stroke="none" stroke-width="1" />
<defs><linearGradient id="gDm" x1="0" y1="0" x2="0" y2="1"><stop offset="0" stop-color="#3a58e0"/><stop offset="1" stop-color="#2232b8"/></linearGradient></defs>
<rect x="534.55" y="161.06" width="37.02" height="20.10" rx="0" fill="url(#gDm)" stroke="none" stroke-width="1" />
<rect x="534.55" y="161.06" width="37.02" height="1.30" rx="0" fill="#2a2aa0" stroke="none" stroke-width="1" />
<circle cx="552.33" cy="167.09" r="2.2" fill="none" stroke="#b8d0ff" stroke-width="0.6"/>
<rect x="544.92" y="171.11" width="14.81" height="0.70" rx="0" fill="#b8d0ff" stroke="none" stroke-width="1" />
<rect x="538.26" y="174.33" width="2.60" height="2.40" rx="0" fill="#c8dcff" stroke="none" stroke-width="1" opacity="0.85"/>
<rect x="543.44" y="174.33" width="2.60" height="2.40" rx="0" fill="#c8dcff" stroke="none" stroke-width="1" opacity="0.85"/>
<rect x="548.62" y="174.33" width="2.60" height="2.40" rx="0" fill="#c8dcff" stroke="none" stroke-width="1" opacity="0.85"/>
<rect x="553.81" y="174.33" width="2.60" height="2.40" rx="0" fill="#c8dcff" stroke="none" stroke-width="1" opacity="0.85"/>
<rect x="558.99" y="174.33" width="2.60" height="2.40" rx="0" fill="#c8dcff" stroke="none" stroke-width="1" opacity="0.85"/>
<rect x="564.17" y="174.33" width="2.60" height="2.40" rx="0" fill="#c8dcff" stroke="none" stroke-width="1" opacity="0.85"/>
<rect x="567.87" y="164.07" width="0.80" height="9.05" rx="0" fill="#c8dcff" stroke="none" stroke-width="1" />
<rect x="544.19" y="154.80" width="8.43" height="1.30" rx="0" fill="#ddd" stroke="none" stroke-width="1" />
<rect x="522.30" y="177.70" width="6.50" height="6.50" rx="1" fill="#333" stroke="none" stroke-width="1" />
<circle cx="525.55" cy="180.95" r="2" fill="#e0262b"/>
<text x="550" y="132" font-size="12" text-anchor="middle" fill="#505050" font-weight="normal" letter-spacing="0" font-family="'Liberation Sans', sans-serif" dominant-baseline="central" >IP网络话筒</text>
<rect x="616.30" y="135.60" width="118.00" height="75.60" rx="0" fill="#1c1c1c" stroke="none" stroke-width="1" />
<rect x="617.10" y="136.40" width="116.40" height="66.60" rx="0" fill="#262626" stroke="none" stroke-width="1" />
<defs><radialGradient id="gIpc" cx="0.55" cy="0.6" r="0.75"><stop offset="0" stop-color="#1a86b8"/><stop offset="0.45" stop-color="#0e5a8c"/><stop offset="1" stop-color="#083a66"/></radialGradient></defs>
<rect x="632.70" y="141.80" width="75.40" height="56.60" rx="0" fill="url(#gIpc)" stroke="none" stroke-width="1" />
<text x="671.20" y="158.30" font-size="10.5" font-weight="bold" text-anchor="middle" fill="#f4f8fb" font-family="'Liberation Serif', serif">Hisco</text>
<rect x="659.40" y="160.30" width="23.00" height="0.70" rx="0" fill="#7ab" stroke="none" stroke-width="1" />
<path d="M634.7,186.4 Q644.7,169.8 658.7,167.8 L670.7,175.8 M638.7,194.4 Q650.7,177.8 668.7,177.8" fill="none" stroke="#4aa0d0" stroke-width="0.7" opacity="0.7"/>
<path d="M674.7,175.8 Q686.7,171.8 692.7,159.8 Q700.7,155.8 704.7,165.8 Q698.7,177.8 684.7,181.8" fill="none" stroke="#4aa0d0" stroke-width="0.7" opacity="0.7"/>
<circle cx="671.7" cy="176.8" r="2.2" fill="#c8f4ff" opacity="0.9"/>
<circle cx="671.7" cy="176.8" r="5" fill="#7ad8f8" opacity="0.35"/>
<rect x="623.80" y="149.00" width="2.60" height="41.50" rx="1.3" fill="#4a4a4a" stroke="none" stroke-width="1" />
<rect x="624.50" y="149.60" width="1.00" height="40.00" rx="0.5" fill="#777" stroke="none" stroke-width="1" />
<rect x="723.70" y="149.00" width="2.60" height="41.50" rx="1.3" fill="#4a4a4a" stroke="none" stroke-width="1" />
<rect x="724.40" y="149.60" width="1.00" height="40.00" rx="0.5" fill="#777" stroke="none" stroke-width="1" />
<circle cx="618.80" cy="142.10" r="0.9" fill="#e8e8e8"/>
<circle cx="731.80" cy="142.10" r="0.9" fill="#e8e8e8"/>
<circle cx="618.80" cy="160.10" r="0.9" fill="#e8e8e8"/>
<circle cx="731.80" cy="160.10" r="0.9" fill="#e8e8e8"/>
<circle cx="618.80" cy="177.60" r="0.9" fill="#e8e8e8"/>
<circle cx="731.80" cy="177.60" r="0.9" fill="#e8e8e8"/>
<circle cx="618.80" cy="195.60" r="0.9" fill="#e8e8e8"/>
<circle cx="731.80" cy="195.60" r="0.9" fill="#e8e8e8"/>
<rect x="616.30" y="203.20" width="118.00" height="8.00" rx="0" fill="#151515" stroke="none" stroke-width="1" />
<rect x="616.80" y="202.70" width="117.00" height="0.60" rx="0" fill="#444" stroke="none" stroke-width="1" />
<rect x="622.80" y="205.00" width="6.00" height="4.00" rx="0" fill="#b8b0a0" stroke="none" stroke-width="1" />
<rect x="721.80" y="205.00" width="6.00" height="4.00" rx="0" fill="#b8b0a0" stroke="none" stroke-width="1" />
<rect x="636.30" y="206.70" width="4.00" height="0.80" rx="0" fill="#aaa" stroke="none" stroke-width="1" />
<rect x="708.30" y="206.70" width="4.00" height="0.80" rx="0" fill="#aaa" stroke="none" stroke-width="1" />
<rect x="619.30" y="137.10" width="5.00" height="1.20" rx="0" fill="#aaa" stroke="none" stroke-width="1" />
<circle cx="717.60" cy="140.90" r="1.8" fill="#ccc"/>
<rect x="716.30" y="153.60" width="2.50" height="3.00" rx="0" fill="#888" stroke="none" stroke-width="1" />
<rect x="716.30" y="167.60" width="2.50" height="3.00" rx="0" fill="#888" stroke="none" stroke-width="1" />
<rect x="716.30" y="179.60" width="2.50" height="3.00" rx="0" fill="#888" stroke="none" stroke-width="1" />
<text x="673.7" y="128.2" font-size="12.2" text-anchor="middle" fill="#505050" font-weight="normal" letter-spacing="0" font-family="'Liberation Serif', serif" dominant-baseline="central" >IP网络广播工控机</text>
<path d="M110.4,165 L110.4,200.3 L188.4,200.3 L188.4,213" fill="none" stroke="#22a84f" stroke-width="1.2" stroke-linejoin="miter"/>
<path d="M188.4,219 L184.9,213 L188.4,213.8 L191.9,213Z" fill="#22a84f"/>
<path d="M207.7,170 L207.7,213" fill="none" stroke="#22a84f" stroke-width="1.2" stroke-linejoin="miter"/>
<path d="M207.7,219 L204.2,213 L207.7,213.8 L211.2,213Z" fill="#22a84f"/>
<path d="M332,166.5 L332,200.3 L228.7,200.3 L228.7,213" fill="none" stroke="#22a84f" stroke-width="1.2" stroke-linejoin="miter"/>
<path d="M228.7,219 L225.2,213 L228.7,213.8 L232.2,213Z" fill="#22a84f"/>
<path d="M243.8,275.5 L281.5,275.5" fill="none" stroke="#22a84f" stroke-width="1.2" stroke-linejoin="miter"/>
<path d="M275,271.3 L282,275.5 L275,279.7" fill="none" stroke="#22a84f" stroke-width="1.2" stroke-linejoin="miter"/>
<text x="802.2" y="152.9" font-size="12" text-anchor="middle" fill="#505050" font-weight="normal" letter-spacing="0" font-family="'Liberation Sans', sans-serif" dominant-baseline="central" >烟感</text>
<text x="802.2" y="201.2" font-size="12" text-anchor="middle" fill="#505050" font-weight="normal" letter-spacing="0" font-family="'Liberation Sans', sans-serif" dominant-baseline="central" >火感</text>
<path d="M829,153 L921.3,154.5" fill="none" stroke="#2fb0e0" stroke-width="1.3" stroke-linejoin="miter"/>
<path d="M829,201.5 L921.3,203" fill="none" stroke="#2fb0e0" stroke-width="1.3" stroke-linejoin="miter"/>
<defs><radialGradient id="gDet" cx="0.45" cy="0.35" r="0.7"><stop offset="0" stop-color="#ffffff"/><stop offset="0.6" stop-color="#e6e6e6"/><stop offset="1" stop-color="#b8b8b8"/></radialGradient></defs>
<ellipse cx="829.2" cy="153" rx="6.4" ry="5.2" fill="url(#gDet)"/>
<path d="M826.7,153.5 Q829.2,151 831.7,153.5" fill="none" stroke="#555" stroke-width="0.8" />
<defs><radialGradient id="gDet" cx="0.45" cy="0.35" r="0.7"><stop offset="0" stop-color="#ffffff"/><stop offset="0.6" stop-color="#e6e6e6"/><stop offset="1" stop-color="#b8b8b8"/></radialGradient></defs>
<ellipse cx="829.2" cy="202.2" rx="6.6" ry="4.4" fill="url(#gDet)"/>
<ellipse cx="829.2" cy="199.2" rx="4.8" ry="3" fill="#f2f2f2" stroke="#c8c8c8" stroke-width="0.4"/>
<ellipse cx="829.2" cy="197.2" rx="2.4" ry="1.3" fill="#c8202a"/>
<rect x="826.20" y="201.20" width="6.00" height="0.80" rx="0" fill="#999" stroke="none" stroke-width="1" />
<defs><radialGradient id="gDet" cx="0.45" cy="0.35" r="0.7"><stop offset="0" stop-color="#ffffff"/><stop offset="0.6" stop-color="#e6e6e6"/><stop offset="1" stop-color="#b8b8b8"/></radialGradient></defs>
<ellipse cx="853.3" cy="153.4" rx="6.4" ry="5.2" fill="url(#gDet)"/>
<path d="M850.8,153.9 Q853.3,151.4 855.8,153.9" fill="none" stroke="#555" stroke-width="0.8" />
<defs><radialGradient id="gDet" cx="0.45" cy="0.35" r="0.7"><stop offset="0" stop-color="#ffffff"/><stop offset="0.6" stop-color="#e6e6e6"/><stop offset="1" stop-color="#b8b8b8"/></radialGradient></defs>
<ellipse cx="853.3" cy="202.6" rx="6.6" ry="4.4" fill="url(#gDet)"/>
<ellipse cx="853.3" cy="199.6" rx="4.8" ry="3" fill="#f2f2f2" stroke="#c8c8c8" stroke-width="0.4"/>
<ellipse cx="853.3" cy="197.6" rx="2.4" ry="1.3" fill="#c8202a"/>
<rect x="850.30" y="201.60" width="6.00" height="0.80" rx="0" fill="#999" stroke="none" stroke-width="1" />
<defs><radialGradient id="gDet" cx="0.45" cy="0.35" r="0.7"><stop offset="0" stop-color="#ffffff"/><stop offset="0.6" stop-color="#e6e6e6"/><stop offset="1" stop-color="#b8b8b8"/></radialGradient></defs>
<ellipse cx="874.7" cy="153.8" rx="6.4" ry="5.2" fill="url(#gDet)"/>
<path d="M872.2,154.3 Q874.7,151.8 877.2,154.3" fill="none" stroke="#555" stroke-width="0.8" />
<defs><radialGradient id="gDet" cx="0.45" cy="0.35" r="0.7"><stop offset="0" stop-color="#ffffff"/><stop offset="0.6" stop-color="#e6e6e6"/><stop offset="1" stop-color="#b8b8b8"/></radialGradient></defs>
<ellipse cx="874.7" cy="203.0" rx="6.6" ry="4.4" fill="url(#gDet)"/>
<ellipse cx="874.7" cy="200.0" rx="4.8" ry="3" fill="#f2f2f2" stroke="#c8c8c8" stroke-width="0.4"/>
<ellipse cx="874.7" cy="198.0" rx="2.4" ry="1.3" fill="#c8202a"/>
<rect x="871.70" y="202.00" width="6.00" height="0.80" rx="0" fill="#999" stroke="none" stroke-width="1" />
<defs><radialGradient id="gDet" cx="0.45" cy="0.35" r="0.7"><stop offset="0" stop-color="#ffffff"/><stop offset="0.6" stop-color="#e6e6e6"/><stop offset="1" stop-color="#b8b8b8"/></radialGradient></defs>
<ellipse cx="897.5" cy="154.2" rx="6.4" ry="5.2" fill="url(#gDet)"/>
<path d="M895.0,154.7 Q897.5,152.2 900.0,154.7" fill="none" stroke="#555" stroke-width="0.8" />
<defs><radialGradient id="gDet" cx="0.45" cy="0.35" r="0.7"><stop offset="0" stop-color="#ffffff"/><stop offset="0.6" stop-color="#e6e6e6"/><stop offset="1" stop-color="#b8b8b8"/></radialGradient></defs>
<ellipse cx="897.5" cy="203.39999999999998" rx="6.6" ry="4.4" fill="url(#gDet)"/>
<ellipse cx="897.5" cy="200.39999999999998" rx="4.8" ry="3" fill="#f2f2f2" stroke="#c8c8c8" stroke-width="0.4"/>
<ellipse cx="897.5" cy="198.39999999999998" rx="2.4" ry="1.3" fill="#c8202a"/>
<rect x="894.50" y="202.40" width="6.00" height="0.80" rx="0" fill="#999" stroke="none" stroke-width="1" />
<rect x="921.30" y="140.20" width="60.60" height="75.30" rx="0" fill="#e8e8e8" stroke="#c4c4c4" stroke-width="0.6" />
<rect x="921.30" y="140.20" width="60.60" height="3.80" rx="0" fill="#3a4048" stroke="none" stroke-width="1" />
<rect x="921.30" y="140.20" width="60.60" height="1.20" rx="0" fill="#9ab0c8" stroke="none" stroke-width="1" />
<rect x="921.30" y="212.30" width="60.60" height="3.20" rx="0" fill="#4a4f56" stroke="none" stroke-width="1" />
<rect x="925.80" y="146.70" width="51.60" height="62.30" rx="0" fill="#ececec" stroke="#d0d0d0" stroke-width="0.5" />
<rect x="931.00" y="149.20" width="42.80" height="44.40" rx="0" fill="#5c6670" stroke="none" stroke-width="1" />
<rect x="931.80" y="150.20" width="13.00" height="14.00" rx="0" fill="#6a747e" stroke="none" stroke-width="1" />
<rect x="943.90" y="152.40" width="16.70" height="12.20" rx="0" fill="#8a9a60" stroke="#444" stroke-width="0.6" />
<rect x="945.30" y="153.70" width="14.00" height="9.50" rx="0" fill="#9cb070" stroke="none" stroke-width="1" />
<rect x="964.80" y="155.20" width="2.00" height="1.80" rx="0" fill="#2a2a2a" stroke="none" stroke-width="1" />
<rect x="967.60" y="155.20" width="2.00" height="1.80" rx="0" fill="#2a2a2a" stroke="none" stroke-width="1" />
<rect x="970.40" y="155.20" width="2.00" height="1.80" rx="0" fill="#2a2a2a" stroke="none" stroke-width="1" />
<rect x="964.80" y="157.90" width="2.00" height="1.80" rx="0" fill="#2a2a2a" stroke="none" stroke-width="1" />
<rect x="967.60" y="157.90" width="2.00" height="1.80" rx="0" fill="#2a2a2a" stroke="none" stroke-width="1" />
<rect x="970.40" y="157.90" width="2.00" height="1.80" rx="0" fill="#2a2a2a" stroke="none" stroke-width="1" />
<rect x="964.80" y="160.60" width="2.00" height="1.80" rx="0" fill="#2a2a2a" stroke="none" stroke-width="1" />
<rect x="967.60" y="160.60" width="2.00" height="1.80" rx="0" fill="#2a2a2a" stroke="none" stroke-width="1" />
<rect x="970.40" y="160.60" width="2.00" height="1.80" rx="0" fill="#2a2a2a" stroke="none" stroke-width="1" />
<rect x="964.80" y="163.30" width="2.00" height="1.80" rx="0" fill="#2a2a2a" stroke="none" stroke-width="1" />
<rect x="967.60" y="163.30" width="2.00" height="1.80" rx="0" fill="#2a2a2a" stroke="none" stroke-width="1" />
<rect x="970.40" y="163.30" width="2.00" height="1.80" rx="0" fill="#2a2a2a" stroke="none" stroke-width="1" />
<rect x="964.80" y="151.20" width="2.00" height="1.50" rx="0" fill="#e07090" stroke="none" stroke-width="1" />
<rect x="967.60" y="151.20" width="2.00" height="1.50" rx="0" fill="#e07090" stroke="none" stroke-width="1" />
<rect x="970.40" y="151.20" width="2.00" height="1.50" rx="0" fill="#e07090" stroke="none" stroke-width="1" />
<circle cx="967.60" cy="154.20" r="0.9" fill="#3c6"/>
<rect x="933.30" y="152.20" width="3.00" height="0.80" rx="0" fill="#b8c0c8" stroke="none" stroke-width="1" />
<rect x="938.30" y="152.20" width="3.00" height="0.80" rx="0" fill="#b8c0c8" stroke="none" stroke-width="1" />
<rect x="933.30" y="155.20" width="3.00" height="0.80" rx="0" fill="#b8c0c8" stroke="none" stroke-width="1" />
<rect x="938.30" y="155.20" width="3.00" height="0.80" rx="0" fill="#b8c0c8" stroke="none" stroke-width="1" />
<rect x="933.30" y="158.20" width="3.00" height="0.80" rx="0" fill="#b8c0c8" stroke="none" stroke-width="1" />
<rect x="938.30" y="158.20" width="3.00" height="0.80" rx="0" fill="#b8c0c8" stroke="none" stroke-width="1" />
<rect x="933.30" y="161.20" width="3.00" height="0.80" rx="0" fill="#b8c0c8" stroke="none" stroke-width="1" />
<rect x="938.30" y="161.20" width="3.00" height="0.80" rx="0" fill="#b8c0c8" stroke="none" stroke-width="1" />
<rect x="931.00" y="167.20" width="42.80" height="0.60" rx="0" fill="#7a848e" stroke="none" stroke-width="1" />
<rect x="934.30" y="170.20" width="1.00" height="1.20" rx="0" fill="#d8dde2" stroke="none" stroke-width="1" />
<rect x="934.30" y="172.80" width="1.00" height="1.20" rx="0" fill="#d8dde2" stroke="none" stroke-width="1" />
<rect x="934.30" y="175.40" width="1.00" height="1.20" rx="0" fill="#d8dde2" stroke="none" stroke-width="1" />
<rect x="934.30" y="178.00" width="1.00" height="1.20" rx="0" fill="#d8dde2" stroke="none" stroke-width="1" />
<rect x="940.60" y="170.20" width="1.00" height="1.20" rx="0" fill="#d8dde2" stroke="none" stroke-width="1" />
<rect x="940.60" y="172.80" width="1.00" height="1.20" rx="0" fill="#d8dde2" stroke="none" stroke-width="1" />
<rect x="940.60" y="175.40" width="1.00" height="1.20" rx="0" fill="#d8dde2" stroke="none" stroke-width="1" />
<rect x="940.60" y="178.00" width="1.00" height="1.20" rx="0" fill="#d8dde2" stroke="none" stroke-width="1" />
<rect x="946.90" y="170.20" width="1.00" height="1.20" rx="0" fill="#d8dde2" stroke="none" stroke-width="1" />
<rect x="946.90" y="172.80" width="1.00" height="1.20" rx="0" fill="#d8dde2" stroke="none" stroke-width="1" />
<rect x="946.90" y="175.40" width="1.00" height="1.20" rx="0" fill="#d8dde2" stroke="none" stroke-width="1" />
<rect x="946.90" y="178.00" width="1.00" height="1.20" rx="0" fill="#d8dde2" stroke="none" stroke-width="1" />
<rect x="953.20" y="170.20" width="1.00" height="1.20" rx="0" fill="#d8dde2" stroke="none" stroke-width="1" />
<rect x="953.20" y="172.80" width="1.00" height="1.20" rx="0" fill="#d8dde2" stroke="none" stroke-width="1" />
<rect x="953.20" y="175.40" width="1.00" height="1.20" rx="0" fill="#d8dde2" stroke="none" stroke-width="1" />
<rect x="953.20" y="178.00" width="1.00" height="1.20" rx="0" fill="#d8dde2" stroke="none" stroke-width="1" />
<rect x="959.50" y="170.20" width="1.00" height="1.20" rx="0" fill="#d8dde2" stroke="none" stroke-width="1" />
<rect x="959.50" y="172.80" width="1.00" height="1.20" rx="0" fill="#d8dde2" stroke="none" stroke-width="1" />
<rect x="959.50" y="175.40" width="1.00" height="1.20" rx="0" fill="#d8dde2" stroke="none" stroke-width="1" />
<rect x="959.50" y="178.00" width="1.00" height="1.20" rx="0" fill="#d8dde2" stroke="none" stroke-width="1" />
<rect x="965.80" y="170.20" width="1.00" height="1.20" rx="0" fill="#d8dde2" stroke="none" stroke-width="1" />
<rect x="965.80" y="172.80" width="1.00" height="1.20" rx="0" fill="#d8dde2" stroke="none" stroke-width="1" />
<rect x="965.80" y="175.40" width="1.00" height="1.20" rx="0" fill="#d8dde2" stroke="none" stroke-width="1" />
<rect x="965.80" y="178.00" width="1.00" height="1.20" rx="0" fill="#d8dde2" stroke="none" stroke-width="1" />
<rect x="931.00" y="182.20" width="42.80" height="0.60" rx="0" fill="#7a848e" stroke="none" stroke-width="1" />
<rect x="934.30" y="183.70" width="36.00" height="9.00" rx="0" fill="#4c5660" stroke="none" stroke-width="1" />
<circle cx="940.00" cy="189.40" r="1.9" fill="#e02a2a" stroke="#8a1a1a" stroke-width="0.4"/>
<circle cx="945.70" cy="189.40" r="1.9" fill="#e02a2a" stroke="#8a1a1a" stroke-width="0.4"/>
<circle cx="951.40" cy="189.40" r="1.9" fill="#e02a2a" stroke="#8a1a1a" stroke-width="0.4"/>
<circle cx="957.10" cy="189.40" r="1.9" fill="#e02a2a" stroke="#8a1a1a" stroke-width="0.4"/>
<circle cx="962.80" cy="189.40" r="1.9" fill="#e02a2a" stroke="#8a1a1a" stroke-width="0.4"/>
<circle cx="968.50" cy="189.40" r="1.9" fill="#e02a2a" stroke="#8a1a1a" stroke-width="0.4"/>
<rect x="932.80" y="186.70" width="3.50" height="4.00" rx="0" fill="#f0f0f0" stroke="none" stroke-width="1" />
<rect x="931.30" y="194.70" width="7.00" height="5.00" rx="0" fill="#d8282a" stroke="none" stroke-width="1" />
<rect x="933.30" y="195.70" width="3.00" height="3.00" rx="0" fill="#f4d0d0" stroke="none" stroke-width="1" />
<rect x="954.30" y="200.20" width="6.00" height="1.50" rx="0" fill="#555" stroke="none" stroke-width="1" />
<rect x="962.30" y="200.20" width="10.00" height="1.00" rx="0" fill="#777" stroke="none" stroke-width="1" />
<rect x="954.30" y="203.20" width="18.00" height="1.00" rx="0" fill="#888" stroke="none" stroke-width="1" />
<rect x="931.30" y="203.70" width="12.00" height="0.60" rx="0" fill="#999" stroke="none" stroke-width="1" />
<circle cx="926.50" cy="178.80" r="1" fill="#2a6ad0"/>
<text x="951.6" y="226.3" font-size="12" text-anchor="middle" fill="#505050" font-weight="normal" letter-spacing="0" font-family="'Liberation Sans', sans-serif" dominant-baseline="central" >消防控制器</text>
<path d="M981.9,164.5 L1045,164.5" fill="none" stroke="#f2b52e" stroke-width="1.2" stroke-linejoin="miter"/>
<rect x="998.00" y="160.50" width="33.00" height="8.00" rx="0" fill="#fff" stroke="none" stroke-width="1" />
<text x="1014.5" y="164.0" font-size="6.5" text-anchor="middle" fill="#444" font-weight="normal" letter-spacing="0" font-family="'Liberation Sans', sans-serif" dominant-baseline="central" >开关量信号</text>
<path d="M981.9,183.4 L1045,183.4" fill="none" stroke="#f2b52e" stroke-width="1.2" stroke-linejoin="miter"/>
<rect x="998.00" y="179.40" width="33.00" height="8.00" rx="0" fill="#fff" stroke="none" stroke-width="1" />
<text x="1014.5" y="182.9" font-size="6.5" text-anchor="middle" fill="#444" font-weight="normal" letter-spacing="0" font-family="'Liberation Sans', sans-serif" dominant-baseline="central" >开关量信号</text>
<path d="M981.9,202.4 L1045,202.4" fill="none" stroke="#f2b52e" stroke-width="1.2" stroke-linejoin="miter"/>
<rect x="998.00" y="198.40" width="33.00" height="8.00" rx="0" fill="#fff" stroke="none" stroke-width="1" />
<text x="1014.5" y="201.9" font-size="6.5" text-anchor="middle" fill="#444" font-weight="normal" letter-spacing="0" font-family="'Liberation Sans', sans-serif" dominant-baseline="central" >开关量信号</text>
<polygon points="1053.00,154.40 1139.00,154.40 1146.50,158.40 1045.50,158.40" fill="#262626" stroke="none" stroke-width="1"/>
<rect x="1045.00" y="158.40" width="102.00" height="19.40" rx="0" fill="url(#gRack)" stroke="none" stroke-width="1" />
<rect x="1045.50" y="159.40" width="1.40" height="1.40" rx="0.7" fill="#ddd" stroke="none" stroke-width="1" />
<rect x="1145.10" y="159.40" width="1.40" height="1.40" rx="0.7" fill="#ddd" stroke="none" stroke-width="1" />
<rect x="1045.50" y="175.80" width="1.40" height="1.40" rx="0.7" fill="#ddd" stroke="none" stroke-width="1" />
<rect x="1145.10" y="175.80" width="1.40" height="1.40" rx="0.7" fill="#ddd" stroke="none" stroke-width="1" />
<rect x="1048.00" y="160.40" width="4.50" height="15.40" rx="1" fill="#3a3a3a" stroke="none" stroke-width="1" />
<rect x="1049.00" y="161.40" width="2.50" height="13.40" rx="0" fill="#0c0c0c" stroke="none" stroke-width="1" />
<rect x="1139.50" y="160.40" width="4.50" height="15.40" rx="1" fill="#3a3a3a" stroke="none" stroke-width="1" />
<rect x="1140.50" y="161.40" width="2.50" height="13.40" rx="0" fill="#0c0c0c" stroke="none" stroke-width="1" />
<rect x="1072.00" y="166.40" width="27.00" height="1.20" rx="0" fill="#8a2a2a" stroke="none" stroke-width="1" opacity="0.8"/>
<rect x="1084.00" y="171.40" width="28.00" height="1.20" rx="0" fill="#8a2a2a" stroke="none" stroke-width="1" opacity="0.8"/>
<rect x="1122.50" y="167.40" width="4.00" height="4.00" rx="0" fill="#555" stroke="none" stroke-width="1" />
<rect x="1123.00" y="167.90" width="3.00" height="3.00" rx="0" fill="#d82a2a" stroke="none" stroke-width="1" />
<rect x="1130.00" y="167.40" width="4.00" height="4.00" rx="0" fill="#555" stroke="none" stroke-width="1" />
<rect x="1130.50" y="167.90" width="3.00" height="3.00" rx="0" fill="#d82a2a" stroke="none" stroke-width="1" />
<rect x="1056.50" y="167.40" width="4.00" height="4.50" rx="0" fill="#2a2a2a" stroke="#555" stroke-width="0.4" />
<rect x="1117.00" y="161.40" width="14.00" height="0.60" rx="0" fill="#555" stroke="none" stroke-width="1" />
<ellipse cx="1057.24" cy="178.20" rx="2.2" ry="1" fill="#111"/>
<ellipse cx="1134.76" cy="178.20" rx="2.2" ry="1" fill="#111"/>
<polygon points="1053.00,182.70 1139.00,182.70 1146.50,184.20 1045.50,184.20" fill="#262626" stroke="none" stroke-width="1"/>
<rect x="1045.00" y="184.20" width="102.00" height="24.50" rx="0" fill="url(#gRack)" stroke="none" stroke-width="1" />
<rect x="1045.50" y="185.20" width="1.40" height="1.40" rx="0.7" fill="#ddd" stroke="none" stroke-width="1" />
<rect x="1145.10" y="185.20" width="1.40" height="1.40" rx="0.7" fill="#ddd" stroke="none" stroke-width="1" />
<rect x="1045.50" y="206.70" width="1.40" height="1.40" rx="0.7" fill="#ddd" stroke="none" stroke-width="1" />
<rect x="1145.10" y="206.70" width="1.40" height="1.40" rx="0.7" fill="#ddd" stroke="none" stroke-width="1" />
<rect x="1067.50" y="192.90" width="21.50" height="4.80" rx="0" fill="#3aa04a" stroke="none" stroke-width="1" />
<rect x="1092.30" y="192.90" width="21.00" height="4.80" rx="0" fill="#3aa04a" stroke="none" stroke-width="1" />
<rect x="1067.50" y="200.10" width="21.50" height="4.80" rx="0" fill="#3aa04a" stroke="none" stroke-width="1" />
<rect x="1092.30" y="200.10" width="21.00" height="4.80" rx="0" fill="#3aa04a" stroke="none" stroke-width="1" />
<rect x="1068.50" y="193.30" width="1.20" height="1.40" rx="0" fill="#a8e0a8" stroke="none" stroke-width="1" />
<rect x="1093.30" y="193.30" width="1.20" height="1.40" rx="0" fill="#a8e0a8" stroke="none" stroke-width="1" />
<rect x="1068.50" y="200.50" width="1.20" height="1.40" rx="0" fill="#a8e0a8" stroke="none" stroke-width="1" />
<rect x="1093.30" y="200.50" width="1.20" height="1.40" rx="0" fill="#a8e0a8" stroke="none" stroke-width="1" />
<rect x="1070.60" y="193.30" width="1.20" height="1.40" rx="0" fill="#a8e0a8" stroke="none" stroke-width="1" />
<rect x="1095.40" y="193.30" width="1.20" height="1.40" rx="0" fill="#a8e0a8" stroke="none" stroke-width="1" />
<rect x="1070.60" y="200.50" width="1.20" height="1.40" rx="0" fill="#a8e0a8" stroke="none" stroke-width="1" />
<rect x="1095.40" y="200.50" width="1.20" height="1.40" rx="0" fill="#a8e0a8" stroke="none" stroke-width="1" />
<rect x="1072.70" y="193.30" width="1.20" height="1.40" rx="0" fill="#a8e0a8" stroke="none" stroke-width="1" />
<rect x="1097.50" y="193.30" width="1.20" height="1.40" rx="0" fill="#a8e0a8" stroke="none" stroke-width="1" />
<rect x="1072.70" y="200.50" width="1.20" height="1.40" rx="0" fill="#a8e0a8" stroke="none" stroke-width="1" />
<rect x="1097.50" y="200.50" width="1.20" height="1.40" rx="0" fill="#a8e0a8" stroke="none" stroke-width="1" />
<rect x="1074.80" y="193.30" width="1.20" height="1.40" rx="0" fill="#a8e0a8" stroke="none" stroke-width="1" />
<rect x="1099.60" y="193.30" width="1.20" height="1.40" rx="0" fill="#a8e0a8" stroke="none" stroke-width="1" />
<rect x="1074.80" y="200.50" width="1.20" height="1.40" rx="0" fill="#a8e0a8" stroke="none" stroke-width="1" />
<rect x="1099.60" y="200.50" width="1.20" height="1.40" rx="0" fill="#a8e0a8" stroke="none" stroke-width="1" />
<rect x="1076.90" y="193.30" width="1.20" height="1.40" rx="0" fill="#a8e0a8" stroke="none" stroke-width="1" />
<rect x="1101.70" y="193.30" width="1.20" height="1.40" rx="0" fill="#a8e0a8" stroke="none" stroke-width="1" />
<rect x="1076.90" y="200.50" width="1.20" height="1.40" rx="0" fill="#a8e0a8" stroke="none" stroke-width="1" />
<rect x="1101.70" y="200.50" width="1.20" height="1.40" rx="0" fill="#a8e0a8" stroke="none" stroke-width="1" />
<rect x="1079.00" y="193.30" width="1.20" height="1.40" rx="0" fill="#a8e0a8" stroke="none" stroke-width="1" />
<rect x="1103.80" y="193.30" width="1.20" height="1.40" rx="0" fill="#a8e0a8" stroke="none" stroke-width="1" />
<rect x="1079.00" y="200.50" width="1.20" height="1.40" rx="0" fill="#a8e0a8" stroke="none" stroke-width="1" />
<rect x="1103.80" y="200.50" width="1.20" height="1.40" rx="0" fill="#a8e0a8" stroke="none" stroke-width="1" />
<rect x="1081.10" y="193.30" width="1.20" height="1.40" rx="0" fill="#a8e0a8" stroke="none" stroke-width="1" />
<rect x="1105.90" y="193.30" width="1.20" height="1.40" rx="0" fill="#a8e0a8" stroke="none" stroke-width="1" />
<rect x="1081.10" y="200.50" width="1.20" height="1.40" rx="0" fill="#a8e0a8" stroke="none" stroke-width="1" />
<rect x="1105.90" y="200.50" width="1.20" height="1.40" rx="0" fill="#a8e0a8" stroke="none" stroke-width="1" />
<rect x="1083.20" y="193.30" width="1.20" height="1.40" rx="0" fill="#a8e0a8" stroke="none" stroke-width="1" />
<rect x="1108.00" y="193.30" width="1.20" height="1.40" rx="0" fill="#a8e0a8" stroke="none" stroke-width="1" />
<rect x="1083.20" y="200.50" width="1.20" height="1.40" rx="0" fill="#a8e0a8" stroke="none" stroke-width="1" />
<rect x="1108.00" y="200.50" width="1.20" height="1.40" rx="0" fill="#a8e0a8" stroke="none" stroke-width="1" />
<rect x="1085.30" y="193.30" width="1.20" height="1.40" rx="0" fill="#a8e0a8" stroke="none" stroke-width="1" />
<rect x="1110.10" y="193.30" width="1.20" height="1.40" rx="0" fill="#a8e0a8" stroke="none" stroke-width="1" />
<rect x="1085.30" y="200.50" width="1.20" height="1.40" rx="0" fill="#a8e0a8" stroke="none" stroke-width="1" />
<rect x="1110.10" y="200.50" width="1.20" height="1.40" rx="0" fill="#a8e0a8" stroke="none" stroke-width="1" />
<rect x="1087.40" y="193.30" width="1.20" height="1.40" rx="0" fill="#a8e0a8" stroke="none" stroke-width="1" />
<rect x="1112.20" y="193.30" width="1.20" height="1.40" rx="0" fill="#a8e0a8" stroke="none" stroke-width="1" />
<rect x="1087.40" y="200.50" width="1.20" height="1.40" rx="0" fill="#a8e0a8" stroke="none" stroke-width="1" />
<rect x="1112.20" y="200.50" width="1.20" height="1.40" rx="0" fill="#a8e0a8" stroke="none" stroke-width="1" />
<rect x="1056.00" y="196.70" width="5.00" height="4.00" rx="0" fill="#bbb" stroke="none" stroke-width="1" />
<rect x="1061.50" y="195.70" width="3.00" height="4.00" rx="0" fill="#3aa04a" stroke="none" stroke-width="1" />
<rect x="1117.00" y="194.70" width="4.00" height="7.00" rx="0" fill="#2a2a2a" stroke="#666" stroke-width="0.4" />
<rect x="1115.00" y="204.70" width="8.00" height="3.00" rx="0" fill="none" stroke="#555" stroke-width="0.4" />
<rect x="1133.00" y="192.70" width="8.00" height="10.00" rx="0" fill="#1a1a1a" stroke="#555" stroke-width="0.5" />
<rect x="1135.00" y="196.70" width="4.00" height="3.00" rx="0" fill="#000" stroke="none" stroke-width="1" />
<rect x="1132.00" y="205.70" width="10.00" height="1.50" rx="0" fill="#aaa" stroke="none" stroke-width="1" />
<ellipse cx="1057.24" cy="209.10" rx="2.2" ry="1" fill="#111"/>
<ellipse cx="1134.76" cy="209.10" rx="2.2" ry="1" fill="#111"/>
<text x="1097.5" y="144.8" font-size="12.3" text-anchor="middle" fill="#505050" font-weight="normal" letter-spacing="0" font-family="'Liberation Serif', serif" dominant-baseline="central" >IP网络消防采集终端</text>
<rect x="1070.00" y="266.00" width="55.00" height="17.00" rx="0" fill="#fff" stroke="none" stroke-width="1" />
<text x="1097.2" y="274.6" font-size="12" text-anchor="middle" fill="#505050" font-weight="normal" letter-spacing="0" font-family="'Liberation Sans', sans-serif" dominant-baseline="central" >网线Cat6</text>
<line x1="1188.7" y1="97" x2="1196.2" y2="104.5" stroke="#151515" stroke-width="2.6" stroke-linecap="round"/>
<line x1="1195.30" y1="103.60" x2="1196.58" y2="104.88" stroke="#d83a2a" stroke-width="2.8"/>
<path d="M1196.2,104.5 L1226.9,136.9 Q1229.8,139.9 1229.8,144.5 L1229.8,158.4" fill="none" stroke="#1a1a1a" stroke-width="1.3" />
<rect x="1228.50" y="145.40" width="2.60" height="13.00" rx="1" fill="#2a2a2a" stroke="none" stroke-width="1" />
<path d="M1218.4,158.4 L1235.2,158.4 Q1240.2,160.4 1241.2,165.7 Q1239.2,170.7 1227.34,171.7 Q1214.4,170.7 1210.4,166.7 Q1213.4,161.4 1218.4,158.4 Z" fill="#1c1c1c" stroke="none" stroke-width="1" />
<path d="M1212.4,166.7 Q1225.80,168.7 1240.2,164.7" fill="none" stroke="#4a4a4a" stroke-width="0.5" />
<rect x="1221.18" y="163.40" width="3.00" height="1.00" rx="0" fill="#555" stroke="none" stroke-width="1" />
<text x="1205.2" y="151" font-size="12" text-anchor="middle" fill="#505050" font-weight="normal" letter-spacing="0" font-family="'Liberation Sans', sans-serif" dominant-baseline="central" >话筒</text>
<polygon points="1274.70,151.80 1347.60,151.80 1355.10,154.80 1267.20,154.80" fill="#3a3f4e" stroke="none" stroke-width="1"/>
<defs><linearGradient id="gCd" x1="0" y1="0" x2="0" y2="1"><stop offset="0" stop-color="#353a48"/><stop offset="1" stop-color="#1b1e27"/></linearGradient></defs>
<rect x="1266.70" y="154.80" width="88.90" height="14.20" rx="0" fill="url(#gCd)" stroke="none" stroke-width="1" />
<rect x="1266.70" y="154.80" width="88.90" height="0.80" rx="0" fill="#5a6070" stroke="none" stroke-width="1" />
<rect x="1267.20" y="155.80" width="1.50" height="1.50" rx="0.7" fill="#ddd" stroke="none" stroke-width="1" />
<rect x="1353.60" y="155.80" width="1.50" height="1.50" rx="0.7" fill="#ddd" stroke="none" stroke-width="1" />
<rect x="1267.20" y="167.00" width="1.50" height="1.50" rx="0.7" fill="#ddd" stroke="none" stroke-width="1" />
<rect x="1353.60" y="167.00" width="1.50" height="1.50" rx="0.7" fill="#ddd" stroke="none" stroke-width="1" />
<rect x="1270.20" y="157.80" width="3.00" height="8.70" rx="1" fill="#12141a" stroke="none" stroke-width="1" />
<rect x="1349.10" y="157.80" width="3.00" height="8.70" rx="1" fill="#12141a" stroke="none" stroke-width="1" />
<rect x="1275.70" y="156.80" width="5.00" height="1.50" rx="0" fill="#aab" stroke="none" stroke-width="1" />
<rect x="1277.70" y="160.80" width="3.00" height="1.20" rx="0" fill="#889" stroke="none" stroke-width="1" />
<rect x="1277.70" y="163.80" width="3.00" height="1.20" rx="0" fill="#889" stroke="none" stroke-width="1" />
<rect x="1287.15" y="164.54" width="24.89" height="1.20" rx="0" fill="#c8ccd8" stroke="none" stroke-width="1" />
<rect x="1317.37" y="160.65" width="15.11" height="3.89" rx="0" fill="#0d0d10" stroke="none" stroke-width="1" />
<rect x="1320.04" y="161.53" width="8.89" height="1.77" rx="0" fill="#c84a1a" stroke="none" stroke-width="1" opacity="0.8"/>
<rect x="1334.26" y="157.80" width="2.00" height="1.60" rx="0" fill="#8890a0" stroke="none" stroke-width="1" />
<rect x="1337.26" y="157.80" width="2.00" height="1.60" rx="0" fill="#8890a0" stroke="none" stroke-width="1" />
<rect x="1340.26" y="157.80" width="2.00" height="1.60" rx="0" fill="#8890a0" stroke="none" stroke-width="1" />
<rect x="1334.26" y="160.80" width="2.00" height="1.60" rx="0" fill="#8890a0" stroke="none" stroke-width="1" />
<rect x="1337.26" y="160.80" width="2.00" height="1.60" rx="0" fill="#8890a0" stroke="none" stroke-width="1" />
<rect x="1340.26" y="160.80" width="2.00" height="1.60" rx="0" fill="#8890a0" stroke="none" stroke-width="1" />
<rect x="1334.26" y="163.80" width="2.00" height="1.60" rx="0" fill="#8890a0" stroke="none" stroke-width="1" />
<rect x="1337.26" y="163.80" width="2.00" height="1.60" rx="0" fill="#8890a0" stroke="none" stroke-width="1" />
<rect x="1340.26" y="163.80" width="2.00" height="1.60" rx="0" fill="#8890a0" stroke="none" stroke-width="1" />
<rect x="1343.60" y="155.80" width="3.00" height="2.00" rx="0" fill="#3a8" stroke="none" stroke-width="1" />
<text x="1312" y="144.2" font-size="12" text-anchor="middle" fill="#505050" font-weight="normal" letter-spacing="0" font-family="'Liberation Sans', sans-serif" dominant-baseline="central" >CD机</text>
<defs><linearGradient id="gTun" x1="0" y1="0" x2="0" y2="1"><stop offset="0" stop-color="#2a2624"/><stop offset="0.5" stop-color="#14120f"/><stop offset="1" stop-color="#0a0a0a"/></linearGradient></defs>
<rect x="1378.80" y="153.70" width="78.00" height="13.50" rx="0" fill="url(#gTun)" stroke="none" stroke-width="1" />
<rect x="1378.80" y="153.70" width="78.00" height="0.80" rx="0" fill="#555" stroke="none" stroke-width="1" />
<rect x="1379.30" y="154.70" width="1.50" height="1.50" rx="0.7" fill="#e8e8e8" stroke="none" stroke-width="1" />
<rect x="1454.80" y="154.70" width="1.50" height="1.50" rx="0.7" fill="#e8e8e8" stroke="none" stroke-width="1" />
<rect x="1379.30" y="164.70" width="1.50" height="1.50" rx="0.7" fill="#e8e8e8" stroke="none" stroke-width="1" />
<rect x="1454.80" y="164.70" width="1.50" height="1.50" rx="0.7" fill="#e8e8e8" stroke="none" stroke-width="1" />
<rect x="1381.80" y="156.20" width="3.00" height="8.50" rx="1" fill="#2e2e2e" stroke="none" stroke-width="1" />
<rect x="1450.80" y="156.20" width="3.00" height="8.50" rx="1" fill="#2e2e2e" stroke="none" stroke-width="1" />
<rect x="1409.22" y="158.83" width="15.60" height="3.65" rx="0" fill="#3a3a80" stroke="#7a7ad0" stroke-width="0.6" />
<rect x="1389.80" y="155.70" width="6.00" height="1.20" rx="0" fill="#999" stroke="none" stroke-width="1" />
<circle cx="1391.8" cy="161.79999999999998" r="1.2" fill="#555"/>
<rect x="1430.28" y="158.42" width="1.50" height="5.40" rx="0" fill="#555" stroke="none" stroke-width="1" />
<rect x="1433.78" y="158.42" width="1.50" height="5.40" rx="0" fill="#555" stroke="none" stroke-width="1" />
<rect x="1437.28" y="158.42" width="1.50" height="5.40" rx="0" fill="#555" stroke="none" stroke-width="1" />
<rect x="1438.80" y="155.70" width="8.00" height="1.20" rx="0" fill="#777" stroke="none" stroke-width="1" />
<text x="1414.3" y="144.3" font-size="12" text-anchor="middle" fill="#505050" font-weight="normal" letter-spacing="0" font-family="'Liberation Sans', sans-serif" dominant-baseline="central" >调谐机</text>
<path d="M1226.3,171.7 L1226.3,239" fill="none" stroke="#22a84f" stroke-width="1.2" stroke-linejoin="miter"/>
<path d="M1226.3,245 L1222.8,239 L1226.3,239.8 L1229.8,239Z" fill="#22a84f"/>
<path d="M1308.8,169 L1308.8,205.9 L1237.3,205.9 L1237.3,239" fill="none" stroke="#22a84f" stroke-width="1.2" stroke-linejoin="miter"/>
<path d="M1237.3,245 L1233.8,239 L1237.3,239.8 L1240.8,239Z" fill="#22a84f"/>
<path d="M1418.2,167.2 L1418.2,211.7 L1248.9,211.7 L1248.9,239" fill="none" stroke="#22a84f" stroke-width="1.2" stroke-linejoin="miter"/>
<path d="M1248.9,245 L1245.4,239 L1248.9,239.8 L1252.4,239Z" fill="#22a84f"/>
<path d="M1211.8999999999999,247.7 L1253.8999999999999,247.7 L1253.8999999999999,264.0 L1261.9,292 L1260.4,295 L1209.1,295 L1208.1,292 Z" fill="#141414" stroke="none" stroke-width="1" />
<rect x="1213.90" y="249.70" width="40.00" height="12.50" rx="0" fill="none" stroke="#3a3a3a" stroke-width="0.5" />
<rect x="1224.60" y="252.90" width="17.00" height="9.20" rx="0" fill="#2c2c2c" stroke="none" stroke-width="1" />
<rect x="1218.10" y="252.70" width="2.00" height="2.00" rx="0" fill="#555" stroke="none" stroke-width="1" />
<rect x="1218.10" y="259.70" width="2.50" height="2.00" rx="0" fill="#a33" stroke="none" stroke-width="1" />
<rect x="1230.10" y="248.70" width="5.00" height="0.80" rx="0" fill="#ccc" stroke="none" stroke-width="1" />
<rect x="1214.10" y="267.50" width="38.00" height="11.00" rx="0" fill="#1e1e1e" stroke="none" stroke-width="1" />
<rect x="1216.80" y="268.00" width="0.60" height="10.00" rx="0" fill="#333" stroke="none" stroke-width="1" />
<circle cx="1217.10" cy="269.50" r="0.9" fill="#e0c030"/>
<circle cx="1217.10" cy="272.50" r="0.9" fill="#40a0e0"/>
<circle cx="1217.10" cy="275.50" r="0.9" fill="#d04040"/>
<rect x="1221.00" y="268.00" width="0.60" height="10.00" rx="0" fill="#333" stroke="none" stroke-width="1" />
<circle cx="1221.30" cy="269.50" r="0.9" fill="#e0c030"/>
<circle cx="1221.30" cy="272.50" r="0.9" fill="#40a0e0"/>
<circle cx="1221.30" cy="275.50" r="0.9" fill="#d04040"/>
<rect x="1225.20" y="268.00" width="0.60" height="10.00" rx="0" fill="#333" stroke="none" stroke-width="1" />
<circle cx="1225.50" cy="269.50" r="0.9" fill="#e0c030"/>
<circle cx="1225.50" cy="272.50" r="0.9" fill="#40a0e0"/>
<circle cx="1225.50" cy="275.50" r="0.9" fill="#d04040"/>
<rect x="1229.40" y="268.00" width="0.60" height="10.00" rx="0" fill="#333" stroke="none" stroke-width="1" />
<circle cx="1229.70" cy="269.50" r="0.9" fill="#e0c030"/>
<circle cx="1229.70" cy="272.50" r="0.9" fill="#40a0e0"/>
<circle cx="1229.70" cy="275.50" r="0.9" fill="#d04040"/>
<rect x="1233.60" y="268.00" width="0.60" height="10.00" rx="0" fill="#333" stroke="none" stroke-width="1" />
<circle cx="1233.90" cy="269.50" r="0.9" fill="#e0c030"/>
<circle cx="1233.90" cy="272.50" r="0.9" fill="#40a0e0"/>
<circle cx="1233.90" cy="275.50" r="0.9" fill="#d04040"/>
<rect x="1237.80" y="268.00" width="0.60" height="10.00" rx="0" fill="#333" stroke="none" stroke-width="1" />
<circle cx="1238.10" cy="269.50" r="0.9" fill="#e0c030"/>
<circle cx="1238.10" cy="272.50" r="0.9" fill="#40a0e0"/>
<circle cx="1238.10" cy="275.50" r="0.9" fill="#d04040"/>
<circle cx="1244.00" cy="270.00" r="1.8" fill="#e07a20"/>
<rect x="1241.10" y="266.30" width="7.00" height="0.90" rx="0" fill="#ccc" stroke="none" stroke-width="1" />
<circle cx="1242.10" cy="274.50" r="0.9" fill="#e0c030"/>
<circle cx="1246.10" cy="274.50" r="0.9" fill="#d04040"/>
<rect x="1213.10" y="278.00" width="42.00" height="1.00" rx="0" fill="#9a9a9a" stroke="none" stroke-width="1" />
<rect x="1215.80" y="280.00" width="0.60" height="8.00" rx="0" fill="#333" stroke="none" stroke-width="1" />
<rect x="1215.10" y="285.00" width="2.00" height="3.00" rx="0" fill="#ddd" stroke="none" stroke-width="1" />
<rect x="1220.40" y="280.00" width="0.60" height="8.00" rx="0" fill="#333" stroke="none" stroke-width="1" />
<rect x="1219.70" y="285.00" width="2.00" height="3.00" rx="0" fill="#ddd" stroke="none" stroke-width="1" />
<rect x="1225.00" y="280.00" width="0.60" height="8.00" rx="0" fill="#333" stroke="none" stroke-width="1" />
<rect x="1224.30" y="285.00" width="2.00" height="3.00" rx="0" fill="#ddd" stroke="none" stroke-width="1" />
<rect x="1229.60" y="280.00" width="0.60" height="8.00" rx="0" fill="#333" stroke="none" stroke-width="1" />
<rect x="1228.90" y="285.00" width="2.00" height="3.00" rx="0" fill="#ddd" stroke="none" stroke-width="1" />
<rect x="1234.20" y="280.00" width="0.60" height="8.00" rx="0" fill="#333" stroke="none" stroke-width="1" />
<rect x="1233.50" y="285.00" width="2.00" height="3.00" rx="0" fill="#ddd" stroke="none" stroke-width="1" />
<rect x="1238.80" y="280.00" width="0.60" height="8.00" rx="0" fill="#333" stroke="none" stroke-width="1" />
<rect x="1238.10" y="285.00" width="2.00" height="3.00" rx="0" fill="#ddd" stroke="none" stroke-width="1" />
<rect x="1243.40" y="280.00" width="0.60" height="8.00" rx="0" fill="#333" stroke="none" stroke-width="1" />
<rect x="1242.70" y="285.00" width="2.00" height="3.00" rx="0" fill="#40b0e8" stroke="none" stroke-width="1" />
<rect x="1248.00" y="280.00" width="0.60" height="8.00" rx="0" fill="#333" stroke="none" stroke-width="1" />
<rect x="1247.30" y="285.00" width="2.00" height="3.00" rx="0" fill="#40b0e8" stroke="none" stroke-width="1" />
<rect x="1252.60" y="280.00" width="0.60" height="8.00" rx="0" fill="#333" stroke="none" stroke-width="1" />
<rect x="1251.90" y="285.00" width="2.00" height="3.00" rx="0" fill="#e8c820" stroke="none" stroke-width="1" />
<rect x="1210.10" y="292.50" width="49.80" height="1.00" rx="0" fill="#2a2a2a" stroke="none" stroke-width="1" />
<text x="1233.6" y="307.7" font-size="12" text-anchor="middle" fill="#505050" font-weight="normal" letter-spacing="0" font-family="'Liberation Sans', sans-serif" dominant-baseline="central" >IP网络调音台</text>
<polygon points="1306.00,245.00 1334.29,245.00 1334.29,297.20 1306.00,296.70" fill="#1b1b1b" stroke="none" stroke-width="1"/>
<polygon points="1334.29,245.00 1347.00,243.50 1347.00,296.70 1334.29,297.20" fill="#553528" stroke="none" stroke-width="1"/>
<polygon points="1336.59,247.50 1345.40,246.50 1345.40,285.20 1336.59,285.70" fill="#141414" stroke="none" stroke-width="1"/>
<rect x="1337.79" y="264.50" width="6.71" height="1.20" rx="0" fill="#6a6a6a" stroke="none" stroke-width="1" />
<rect x="1337.79" y="267.00" width="6.71" height="0.80" rx="0" fill="#aaa" stroke="none" stroke-width="1" />
<rect x="1338.29" y="274.50" width="5.71" height="2.00" rx="0" fill="#888" stroke="none" stroke-width="1" />
<circle cx="1340.64" cy="281.50" r="1.5" fill="none" stroke="#777" stroke-width="0.5"/>
<rect x="1317.88" y="292.70" width="2.20" height="1.20" rx="0" fill="#888" stroke="none" stroke-width="1" />
<text x="1322.5" y="307.7" font-size="12" text-anchor="middle" fill="#505050" font-weight="normal" letter-spacing="0" font-family="'Liberation Sans', sans-serif" dominant-baseline="central" >IP监听音箱</text>
<rect x="1386.00" y="257.30" width="60.00" height="36.70" rx="2" fill="#141414" stroke="none" stroke-width="1" />
<rect x="1386.80" y="258.10" width="58.40" height="33.70" rx="1.5" fill="#222" stroke="none" stroke-width="1" />
<rect x="1386.50" y="291.80" width="59.00" height="2.20" rx="1" fill="#0a0a0a" stroke="none" stroke-width="1" />
<rect x="1391.50" y="257.80" width="4.00" height="18.35" rx="2" fill="#0c0c0c" stroke="none" stroke-width="1" />
<line x1="1382.00" y1="261.20" x2="1393.50" y2="258.30" stroke="#1a1a1a" stroke-width="1.6"/>
<line x1="1365.00" y1="269.70" x2="1380.00" y2="262.20" stroke="#1e1e1e" stroke-width="9" stroke-linecap="round"/>
<line x1="1366.00" y1="267.20" x2="1379.00" y2="259.70" stroke="#3a3a3a" stroke-width="1" opacity="0.6"/>
<rect x="1400.70" y="264.24" width="39.90" height="23.55" rx="0" fill="#0a0a0a" stroke="none" stroke-width="1" />
<defs><linearGradient id="gDm" x1="0" y1="0" x2="0" y2="1"><stop offset="0" stop-color="#3a58e0"/><stop offset="1" stop-color="#2232b8"/></linearGradient></defs>
<rect x="1402.20" y="265.74" width="36.90" height="20.55" rx="0" fill="url(#gDm)" stroke="none" stroke-width="1" />
<rect x="1402.20" y="265.74" width="36.90" height="1.30" rx="0" fill="#2a2aa0" stroke="none" stroke-width="1" />
<circle cx="1419.91" cy="271.91" r="2.2" fill="none" stroke="#b8d0ff" stroke-width="0.6"/>
<rect x="1412.53" y="276.02" width="14.76" height="0.70" rx="0" fill="#b8d0ff" stroke="none" stroke-width="1" />
<rect x="1405.89" y="279.31" width="2.60" height="2.40" rx="0" fill="#c8dcff" stroke="none" stroke-width="1" opacity="0.85"/>
<rect x="1411.06" y="279.31" width="2.60" height="2.40" rx="0" fill="#c8dcff" stroke="none" stroke-width="1" opacity="0.85"/>
<rect x="1416.22" y="279.31" width="2.60" height="2.40" rx="0" fill="#c8dcff" stroke="none" stroke-width="1" opacity="0.85"/>
<rect x="1421.39" y="279.31" width="2.60" height="2.40" rx="0" fill="#c8dcff" stroke="none" stroke-width="1" opacity="0.85"/>
<rect x="1426.55" y="279.31" width="2.60" height="2.40" rx="0" fill="#c8dcff" stroke="none" stroke-width="1" opacity="0.85"/>
<rect x="1431.72" y="279.31" width="2.60" height="2.40" rx="0" fill="#c8dcff" stroke="none" stroke-width="1" opacity="0.85"/>
<rect x="1435.41" y="268.82" width="0.80" height="9.25" rx="0" fill="#c8dcff" stroke="none" stroke-width="1" />
<rect x="1411.80" y="259.30" width="8.40" height="1.30" rx="0" fill="#ddd" stroke="none" stroke-width="1" />
<rect x="1390.00" y="283.00" width="6.50" height="6.50" rx="1" fill="#333" stroke="none" stroke-width="1" />
<circle cx="1393.25" cy="286.25" r="2" fill="#e0262b"/>
<text x="1417" y="307.7" font-size="12" text-anchor="middle" fill="#505050" font-weight="normal" letter-spacing="0" font-family="'Liberation Sans', sans-serif" dominant-baseline="central" >IP网络话筒</text>
<rect x="1537.00" y="158.00" width="116.00" height="26.00" rx="0" fill="#c9d3e3" stroke="none" stroke-width="1" />
<rect x="1536.00" y="157.00" width="116.00" height="26.00" rx="0" fill="#b2c4df" stroke="none" stroke-width="1" />
<text x="1594.5" y="171" font-size="12" text-anchor="middle" fill="#444" font-weight="normal" letter-spacing="0.5" font-family="'Liberation Sans', sans-serif" dominant-baseline="central" >学生广播室</text>
<polygon points="1527.00,229.20 1655.00,229.20 1672.40,238.50 1510.50,238.50" fill="#6a6a6a" stroke="none" stroke-width="1"/>
<path d="M1552.6,229.8 Q1552.1,215.8 1560.6,212.3 L1565.6,210.3 L1573.6,210.3 L1578.6,212.3 Q1587.1,215.8 1586.6,229.8 Q1579.6,235.8 1569.6,235.8 Q1559.6,235.8 1552.6,229.8 Z" fill="#1c1c1c" stroke="none" stroke-width="1" />
<path d="M1560.6,213.8 Q1563.6,223.8 1568.6,234.8" fill="none" stroke="#3a3a3a" stroke-width="0.6" />
<path d="M1578.6,213.8 Q1575.6,223.8 1570.6,234.8" fill="none" stroke="#3a3a3a" stroke-width="0.6" />
<polygon points="1565.60,210.30 1573.60,210.30 1569.60,223.80" fill="#f4f4f4" stroke="none" stroke-width="1"/>
<polygon points="1568.20,211.80 1571.00,211.80 1571.60,221.80 1569.60,226.80 1567.60,221.80" fill="#2a5fa8" stroke="none" stroke-width="1"/>
<ellipse cx="1569.6" cy="201.8" rx="7.2" ry="8.8" fill="#e8b27e"/>
<path d="M1562.0,201.8 Q1561.1,191.10000000000002 1569.6,190.8 Q1578.1,191.10000000000002 1577.1999999999998,201.8 Q1576.1,195.8 1569.6,195.3 Q1563.1,195.8 1562.0,201.8 Z" fill="#8c8c8c" stroke="none" stroke-width="1" />
<path d="M1597.4,229.8 Q1596.9,215.8 1605.4,212.3 L1610.4,210.3 L1618.4,210.3 L1623.4,212.3 Q1631.9,215.8 1631.4,229.8 Q1624.4,235.8 1614.4,235.8 Q1604.4,235.8 1597.4,229.8 Z" fill="#1c1c1c" stroke="none" stroke-width="1" />
<path d="M1605.4,213.8 Q1608.4,223.8 1613.4,234.8" fill="none" stroke="#3a3a3a" stroke-width="0.6" />
<path d="M1623.4,213.8 Q1620.4,223.8 1615.4,234.8" fill="none" stroke="#3a3a3a" stroke-width="0.6" />
<polygon points="1610.40,210.30 1618.40,210.30 1614.40,223.80" fill="#f4f4f4" stroke="none" stroke-width="1"/>
<polygon points="1613.00,211.80 1615.80,211.80 1616.40,221.80 1614.40,226.80 1612.40,221.80" fill="#2a5fa8" stroke="none" stroke-width="1"/>
<ellipse cx="1614.4" cy="201.8" rx="7.2" ry="8.8" fill="#e8b27e"/>
<path d="M1606.8000000000002,201.8 Q1605.9,191.10000000000002 1614.4,190.8 Q1622.9,191.10000000000002 1622.0,201.8 Q1620.9,195.8 1614.4,195.3 Q1607.9,195.8 1606.8000000000002,201.8 Z" fill="#8c8c8c" stroke="none" stroke-width="1" />
<path d="M1510.5,238.5 L1672.4,238.5 Q1673.5,242 1669,242 L1514,242 Q1509.5,242 1510.5,238.5 Z" fill="#efefef" stroke="#d0d0d0" stroke-width="0.5" />
<path d="M1519.3,242 L1663.1,242 L1660,285 Q1590,290 1522,285 Z" fill="#e8e8e8" stroke="#cacaca" stroke-width="0.5" />
<path d="M1519.3,243.4 L1663.1,243.4 L1662.8,248 Q1590,250 1519.6,248 Z" fill="#1d4fa8" stroke="none" stroke-width="1" />
<pattern id="pdesk" width="1.8" height="1.8" patternUnits="userSpaceOnUse"><rect width="1.8" height="1.8" fill="#e4e4e4"/><rect width="0.9" height="0.9" fill="#c8c8c8"/></pattern>
<path d="M1528,251 L1651,251 L1651,282 L1528,282 Z" fill="url(#pdesk)" stroke="none" stroke-width="1" />
<path d="M1530,282 L1557,252 L1590,282 M1593,282 L1623,252 L1652,282" fill="none" stroke="#f0f0f0" stroke-width="2" />
<path d="M1522.4,285.1 Q1590,289 1659.3,285.1 L1659.3,290 Q1590,295 1522.4,290.5 Z" fill="#1d4fa8" stroke="none" stroke-width="1" />
<path d="M1465.5,55 L1465.5,208 L1518.5,277.4 M1465.5,274.8 L1518.5,277.4 M1465.5,274.8 L1465.5,319.5" fill="none" stroke="#cdcdcd" stroke-width="1" stroke-dasharray="11 3 1 3"/>
<circle cx="1809" cy="130" r="60.5" fill="#efe4e4"/>
<path d="M1766,174 L1810,252 L1854,174" fill="none" stroke="#e2e2e2" stroke-width="0.8"/>
<rect x="1784.00" y="105.00" width="60.00" height="35.00" rx="2" fill="#141414" stroke="none" stroke-width="1" />
<rect x="1784.80" y="105.80" width="58.40" height="32.00" rx="1.5" fill="#222" stroke="none" stroke-width="1" />
<rect x="1784.50" y="137.80" width="59.00" height="2.20" rx="1" fill="#0a0a0a" stroke="none" stroke-width="1" />
<rect x="1789.50" y="105.50" width="4.00" height="17.50" rx="2" fill="#0c0c0c" stroke="none" stroke-width="1" />
<line x1="1780.00" y1="108.50" x2="1791.50" y2="106.00" stroke="#1a1a1a" stroke-width="1.6"/>
<line x1="1763.00" y1="117.00" x2="1778.00" y2="109.50" stroke="#1e1e1e" stroke-width="9" stroke-linecap="round"/>
<line x1="1764.00" y1="114.50" x2="1777.00" y2="107.00" stroke="#3a3a3a" stroke-width="1" opacity="0.6"/>
<rect x="1798.70" y="111.55" width="39.90" height="22.60" rx="0" fill="#0a0a0a" stroke="none" stroke-width="1" />
<defs><linearGradient id="gDm" x1="0" y1="0" x2="0" y2="1"><stop offset="0" stop-color="#3a58e0"/><stop offset="1" stop-color="#2232b8"/></linearGradient></defs>
<rect x="1800.20" y="113.05" width="36.90" height="19.60" rx="0" fill="url(#gDm)" stroke="none" stroke-width="1" />
<rect x="1800.20" y="113.05" width="36.90" height="1.30" rx="0" fill="#2a2aa0" stroke="none" stroke-width="1" />
<circle cx="1817.91" cy="118.93" r="2.2" fill="none" stroke="#b8d0ff" stroke-width="0.6"/>
<rect x="1810.53" y="122.85" width="14.76" height="0.70" rx="0" fill="#b8d0ff" stroke="none" stroke-width="1" />
<rect x="1803.89" y="125.99" width="2.60" height="2.40" rx="0" fill="#c8dcff" stroke="none" stroke-width="1" opacity="0.85"/>
<rect x="1809.06" y="125.99" width="2.60" height="2.40" rx="0" fill="#c8dcff" stroke="none" stroke-width="1" opacity="0.85"/>
<rect x="1814.22" y="125.99" width="2.60" height="2.40" rx="0" fill="#c8dcff" stroke="none" stroke-width="1" opacity="0.85"/>
<rect x="1819.39" y="125.99" width="2.60" height="2.40" rx="0" fill="#c8dcff" stroke="none" stroke-width="1" opacity="0.85"/>
<rect x="1824.55" y="125.99" width="2.60" height="2.40" rx="0" fill="#c8dcff" stroke="none" stroke-width="1" opacity="0.85"/>
<rect x="1829.72" y="125.99" width="2.60" height="2.40" rx="0" fill="#c8dcff" stroke="none" stroke-width="1" opacity="0.85"/>
<rect x="1833.41" y="115.99" width="0.80" height="8.82" rx="0" fill="#c8dcff" stroke="none" stroke-width="1" />
<rect x="1809.80" y="107.00" width="8.40" height="1.30" rx="0" fill="#ddd" stroke="none" stroke-width="1" />
<rect x="1788.00" y="129.00" width="6.50" height="6.50" rx="1" fill="#333" stroke="none" stroke-width="1" />
<circle cx="1791.25" cy="132.25" r="2" fill="#e0262b"/>
<text x="1814.6" y="160.6" font-size="12" text-anchor="middle" fill="#3a3a3a" font-weight="normal" letter-spacing="0" font-family="'Liberation Sans', sans-serif" dominant-baseline="central" >IP网络话筒</text>
<path d="M1850,254 L1857.5,254 L1857,306 L1850,306 Z" fill="#4a5078" stroke="none" stroke-width="1" />
<path d="M1834,232 Q1834,224 1841,222 L1851,222 Q1858,224 1858.7,232 L1858.7,256 L1834,256 Z" fill="#4a5280" stroke="none" stroke-width="1" />
<polygon points="1842.00,222.00 1850.00,222.00 1846.00,236.00" fill="#e4ecf6" stroke="none" stroke-width="1"/>
<polygon points="1845.00,223.00 1847.00,223.00 1847.50,233.00 1846.00,236.00 1844.50,233.00" fill="#7a9ad0" stroke="none" stroke-width="1"/>
<path d="M1836,241 Q1846,246 1856,240 L1856,244 Q1846,250 1836,245 Z" fill="#3c4470" stroke="none" stroke-width="1" />
<rect x="1843.00" y="242.00" width="4.00" height="3.00" rx="0" fill="#d8c8a0" stroke="none" stroke-width="1" />
<circle cx="1843" cy="249" r="0.8" fill="#d8c090"/><circle cx="1843" cy="253" r="0.8" fill="#d8c090"/>
<ellipse cx="1845.5" cy="215.5" rx="6" ry="7.2" fill="#f0a0a0"/>
<path d="M1838,208 Q1838,199.5 1846,199.3 Q1854,199.5 1853.5,204 L1852.5,208.5 L1838.5,208.5 Z" fill="#4a5280" stroke="none" stroke-width="1" />
<rect x="1838.00" y="207.00" width="15.00" height="2.00" rx="0" fill="#2a3058" stroke="none" stroke-width="1" />
<circle cx="1845" cy="203" r="1" fill="#e8c860"/>
<defs><linearGradient id="gWood" x1="0" y1="0" x2="0" y2="1"><stop offset="0" stop-color="#c87a30"/><stop offset="0.5" stop-color="#e8a050"/><stop offset="1" stop-color="#b86a28"/></linearGradient></defs>
<rect x="1764.50" y="255.20" width="89.40" height="12.90" rx="0" fill="url(#gWood)" stroke="#5a3010" stroke-width="0.8" />
<rect x="1770.60" y="268.00" width="10.00" height="38.70" rx="0" fill="#c77a30" stroke="#5a3010" stroke-width="0.7" />
<rect x="1780.60" y="268.00" width="45.10" height="9.80" rx="0" fill="#d88c40" stroke="#5a3010" stroke-width="0.6" />
<rect x="1825.70" y="268.00" width="24.10" height="37.60" rx="0" fill="#c87c34" stroke="#5a3010" stroke-width="0.7" />
<rect x="1826.50" y="269.00" width="22.50" height="10.50" rx="0" fill="#dc9446" stroke="#6a3a14" stroke-width="0.5" />
<circle cx="1837.8" cy="275.0" r="1.3" fill="#4a2010"/>
<rect x="1826.50" y="281.40" width="22.50" height="10.50" rx="0" fill="#dc9446" stroke="#6a3a14" stroke-width="0.5" />
<circle cx="1837.8" cy="287.4" r="1.3" fill="#4a2010"/>
<rect x="1826.50" y="293.80" width="22.50" height="10.50" rx="0" fill="#dc9446" stroke="#6a3a14" stroke-width="0.5" />
<circle cx="1837.8" cy="299.8" r="1.3" fill="#4a2010"/>
<rect x="1774.50" y="241.90" width="20.30" height="13.30" rx="0" fill="#2a78b0" stroke="#1a3a58" stroke-width="0.5" />
<rect x="1775.50" y="243.50" width="18.30" height="1.10" rx="0" fill="#8ad0f0" stroke="none" stroke-width="1" />
<rect x="1775.50" y="246.50" width="18.30" height="1.10" rx="0" fill="#8ad0f0" stroke="none" stroke-width="1" />
<rect x="1775.50" y="249.50" width="18.30" height="1.10" rx="0" fill="#8ad0f0" stroke="none" stroke-width="1" />
<rect x="1775.50" y="252.50" width="18.30" height="1.10" rx="0" fill="#8ad0f0" stroke="none" stroke-width="1" />
<path d="M1828,254.4 L1828,251 Q1834,248.5 1840.2,251 L1840.2,254.4 Z" fill="#141a2a" stroke="none" stroke-width="1" />
<polygon points="83.91,471.70 168.15,471.70 184.70,478.70 69.70,478.70" fill="url(#gRackTop)" stroke="none" stroke-width="1"/>
<rect x="68.70" y="478.70" width="117.00" height="19.50" rx="0" fill="url(#gRack)" stroke="none" stroke-width="1" />
<rect x="69.30" y="480.20" width="1.60" height="1.60" rx="0.8" fill="#cfcfcf" stroke="none" stroke-width="1" />
<rect x="183.50" y="480.20" width="1.60" height="1.60" rx="0.8" fill="#cfcfcf" stroke="none" stroke-width="1" />
<rect x="69.30" y="496.20" width="1.60" height="1.60" rx="0.8" fill="#cfcfcf" stroke="none" stroke-width="1" />
<rect x="183.50" y="496.20" width="1.60" height="1.60" rx="0.8" fill="#cfcfcf" stroke="none" stroke-width="1" />
<rect x="72.50" y="479.90" width="6.00" height="16.80" rx="2" fill="#3e3e3e" stroke="none" stroke-width="1" />
<rect x="73.50" y="481.10" width="4.00" height="14.40" rx="1.5" fill="#0c0c0c" stroke="none" stroke-width="1" />
<rect x="175.90" y="479.90" width="6.00" height="16.80" rx="2" fill="#3e3e3e" stroke="none" stroke-width="1" />
<rect x="176.90" y="481.10" width="4.00" height="14.40" rx="1.5" fill="#0c0c0c" stroke="none" stroke-width="1" />
<ellipse cx="85.08" cy="498.50" rx="3" ry="1.3" fill="#111"/>
<ellipse cx="162.30" cy="498.50" rx="3" ry="1.3" fill="#111"/>
<rect x="112.50" y="479.20" width="29.40" height="18.50" rx="0" fill="#050505" stroke="none" stroke-width="1" />
<rect x="115.50" y="481.70" width="23.40" height="13.50" rx="0" fill="url(#gScreen)" stroke="none" stroke-width="1" />
<rect x="117.50" y="482.70" width="19.40" height="0.60" rx="0" fill="#a8ccff" stroke="none" stroke-width="1" />
<rect x="118.98" y="485.63" width="2.40" height="2.60" rx="0" fill="#d8e8ff" stroke="none" stroke-width="1" opacity="0.85"/>
<rect x="118.98" y="489.68" width="2.40" height="2.60" rx="0" fill="#d8e8ff" stroke="none" stroke-width="1" opacity="0.85"/>
<rect x="123.66" y="485.63" width="2.40" height="2.60" rx="0" fill="#d8e8ff" stroke="none" stroke-width="1" opacity="0.85"/>
<rect x="123.66" y="489.68" width="2.40" height="2.60" rx="0" fill="#d8e8ff" stroke="none" stroke-width="1" opacity="0.85"/>
<rect x="128.34" y="485.63" width="2.40" height="2.60" rx="0" fill="#d8e8ff" stroke="none" stroke-width="1" opacity="0.85"/>
<rect x="128.34" y="489.68" width="2.40" height="2.60" rx="0" fill="#d8e8ff" stroke="none" stroke-width="1" opacity="0.85"/>
<rect x="133.02" y="485.63" width="2.40" height="2.60" rx="0" fill="#d8e8ff" stroke="none" stroke-width="1" opacity="0.85"/>
<rect x="133.02" y="489.68" width="2.40" height="2.60" rx="0" fill="#d8e8ff" stroke="none" stroke-width="1" opacity="0.85"/>
<rect x="79.70" y="481.70" width="6.00" height="1.50" rx="0" fill="#bbb" stroke="none" stroke-width="1" />
<rect x="94.44" y="481.90" width="1.00" height="1.00" rx="0" fill="#666" stroke="none" stroke-width="1" />
<rect x="97.24" y="481.90" width="1.00" height="1.00" rx="0" fill="#3c3" stroke="none" stroke-width="1" />
<rect x="100.04" y="481.90" width="1.00" height="1.00" rx="0" fill="#3c3" stroke="none" stroke-width="1" />
<rect x="102.84" y="481.90" width="1.00" height="1.00" rx="0" fill="#3c3" stroke="none" stroke-width="1" />
<rect x="105.64" y="481.90" width="1.00" height="1.00" rx="0" fill="#c33" stroke="none" stroke-width="1" />
<rect x="108.44" y="481.90" width="1.00" height="1.00" rx="0" fill="#c83" stroke="none" stroke-width="1" />
<circle cx="101.46" cy="489.20" r="3" fill="#0d0d0d" stroke="#4a4a4a" stroke-width="0.8"/>
<rect x="79.70" y="487.10" width="5.00" height="5.00" rx="0" fill="#333" stroke="none" stroke-width="1" />
<circle cx="145.92" cy="488.15" r="0.9" fill="#777"/>
<circle cx="151.19" cy="488.15" r="0.9" fill="#777"/>
<circle cx="156.45" cy="488.15" r="0.9" fill="#777"/>
<circle cx="161.71" cy="488.15" r="0.9" fill="#777"/>
<circle cx="166.98" cy="488.15" r="0.9" fill="#777"/>
<circle cx="172.25" cy="488.15" r="0.9" fill="#777"/>
<text x="124.4" y="464" font-size="12" text-anchor="middle" fill="#505050" font-weight="normal" letter-spacing="0" font-family="'Liberation Sans', sans-serif" dominant-baseline="central" >IP网络广播功放</text>
<polygon points="274.21,471.70 358.45,471.70 375.00,478.70 260.00,478.70" fill="url(#gRackTop)" stroke="none" stroke-width="1"/>
<rect x="259.00" y="478.70" width="117.00" height="19.50" rx="0" fill="url(#gRack)" stroke="none" stroke-width="1" />
<rect x="259.60" y="480.20" width="1.60" height="1.60" rx="0.8" fill="#cfcfcf" stroke="none" stroke-width="1" />
<rect x="373.80" y="480.20" width="1.60" height="1.60" rx="0.8" fill="#cfcfcf" stroke="none" stroke-width="1" />
<rect x="259.60" y="496.20" width="1.60" height="1.60" rx="0.8" fill="#cfcfcf" stroke="none" stroke-width="1" />
<rect x="373.80" y="496.20" width="1.60" height="1.60" rx="0.8" fill="#cfcfcf" stroke="none" stroke-width="1" />
<rect x="262.80" y="479.90" width="6.00" height="16.80" rx="2" fill="#3e3e3e" stroke="none" stroke-width="1" />
<rect x="263.80" y="481.10" width="4.00" height="14.40" rx="1.5" fill="#0c0c0c" stroke="none" stroke-width="1" />
<rect x="366.20" y="479.90" width="6.00" height="16.80" rx="2" fill="#3e3e3e" stroke="none" stroke-width="1" />
<rect x="367.20" y="481.10" width="4.00" height="14.40" rx="1.5" fill="#0c0c0c" stroke="none" stroke-width="1" />
<ellipse cx="275.38" cy="498.50" rx="3" ry="1.3" fill="#111"/>
<ellipse cx="352.60" cy="498.50" rx="3" ry="1.3" fill="#111"/>
<rect x="302.80" y="479.20" width="29.40" height="18.50" rx="0" fill="#050505" stroke="none" stroke-width="1" />
<rect x="305.80" y="481.70" width="23.40" height="13.50" rx="0" fill="url(#gScreen)" stroke="none" stroke-width="1" />
<rect x="307.80" y="482.70" width="19.40" height="0.60" rx="0" fill="#a8ccff" stroke="none" stroke-width="1" />
<rect x="309.28" y="485.63" width="2.40" height="2.60" rx="0" fill="#d8e8ff" stroke="none" stroke-width="1" opacity="0.85"/>
<rect x="309.28" y="489.68" width="2.40" height="2.60" rx="0" fill="#d8e8ff" stroke="none" stroke-width="1" opacity="0.85"/>
<rect x="313.96" y="485.63" width="2.40" height="2.60" rx="0" fill="#d8e8ff" stroke="none" stroke-width="1" opacity="0.85"/>
<rect x="313.96" y="489.68" width="2.40" height="2.60" rx="0" fill="#d8e8ff" stroke="none" stroke-width="1" opacity="0.85"/>
<rect x="318.64" y="485.63" width="2.40" height="2.60" rx="0" fill="#d8e8ff" stroke="none" stroke-width="1" opacity="0.85"/>
<rect x="318.64" y="489.68" width="2.40" height="2.60" rx="0" fill="#d8e8ff" stroke="none" stroke-width="1" opacity="0.85"/>
<rect x="323.32" y="485.63" width="2.40" height="2.60" rx="0" fill="#d8e8ff" stroke="none" stroke-width="1" opacity="0.85"/>
<rect x="323.32" y="489.68" width="2.40" height="2.60" rx="0" fill="#d8e8ff" stroke="none" stroke-width="1" opacity="0.85"/>
<rect x="270.00" y="481.70" width="6.00" height="1.50" rx="0" fill="#bbb" stroke="none" stroke-width="1" />
<rect x="284.74" y="481.90" width="1.00" height="1.00" rx="0" fill="#666" stroke="none" stroke-width="1" />
<rect x="287.54" y="481.90" width="1.00" height="1.00" rx="0" fill="#3c3" stroke="none" stroke-width="1" />
<rect x="290.34" y="481.90" width="1.00" height="1.00" rx="0" fill="#3c3" stroke="none" stroke-width="1" />
<rect x="293.14" y="481.90" width="1.00" height="1.00" rx="0" fill="#3c3" stroke="none" stroke-width="1" />
<rect x="295.94" y="481.90" width="1.00" height="1.00" rx="0" fill="#c33" stroke="none" stroke-width="1" />
<rect x="298.74" y="481.90" width="1.00" height="1.00" rx="0" fill="#c83" stroke="none" stroke-width="1" />
<circle cx="291.76" cy="489.20" r="3" fill="#0d0d0d" stroke="#4a4a4a" stroke-width="0.8"/>
<rect x="270.00" y="487.10" width="5.00" height="5.00" rx="0" fill="#333" stroke="none" stroke-width="1" />
<circle cx="336.22" cy="488.15" r="0.9" fill="#777"/>
<circle cx="341.49" cy="488.15" r="0.9" fill="#777"/>
<circle cx="346.75" cy="488.15" r="0.9" fill="#777"/>
<circle cx="352.01" cy="488.15" r="0.9" fill="#777"/>
<circle cx="357.28" cy="488.15" r="0.9" fill="#777"/>
<circle cx="362.55" cy="488.15" r="0.9" fill="#777"/>
<text x="315.7" y="464" font-size="12" text-anchor="middle" fill="#505050" font-weight="normal" letter-spacing="0" font-family="'Liberation Sans', sans-serif" dominant-baseline="central" >IP网络广播功放</text>
<polygon points="460.21,472.00 544.45,472.00 561.00,479.00 446.00,479.00" fill="url(#gRackTop)" stroke="none" stroke-width="1"/>
<rect x="445.00" y="479.00" width="117.00" height="19.50" rx="0" fill="url(#gRack)" stroke="none" stroke-width="1" />
<rect x="445.60" y="480.50" width="1.60" height="1.60" rx="0.8" fill="#cfcfcf" stroke="none" stroke-width="1" />
<rect x="559.80" y="480.50" width="1.60" height="1.60" rx="0.8" fill="#cfcfcf" stroke="none" stroke-width="1" />
<rect x="445.60" y="496.50" width="1.60" height="1.60" rx="0.8" fill="#cfcfcf" stroke="none" stroke-width="1" />
<rect x="559.80" y="496.50" width="1.60" height="1.60" rx="0.8" fill="#cfcfcf" stroke="none" stroke-width="1" />
<rect x="448.80" y="480.20" width="6.00" height="16.80" rx="2" fill="#3e3e3e" stroke="none" stroke-width="1" />
<rect x="449.80" y="481.40" width="4.00" height="14.40" rx="1.5" fill="#0c0c0c" stroke="none" stroke-width="1" />
<rect x="552.20" y="480.20" width="6.00" height="16.80" rx="2" fill="#3e3e3e" stroke="none" stroke-width="1" />
<rect x="553.20" y="481.40" width="4.00" height="14.40" rx="1.5" fill="#0c0c0c" stroke="none" stroke-width="1" />
<ellipse cx="461.38" cy="498.80" rx="3" ry="1.3" fill="#111"/>
<ellipse cx="538.60" cy="498.80" rx="3" ry="1.3" fill="#111"/>
<rect x="488.80" y="479.50" width="29.40" height="18.50" rx="0" fill="#050505" stroke="none" stroke-width="1" />
<rect x="491.80" y="482.00" width="23.40" height="13.50" rx="0" fill="url(#gScreen)" stroke="none" stroke-width="1" />
<rect x="493.80" y="483.00" width="19.40" height="0.60" rx="0" fill="#a8ccff" stroke="none" stroke-width="1" />
<rect x="495.28" y="485.93" width="2.40" height="2.60" rx="0" fill="#d8e8ff" stroke="none" stroke-width="1" opacity="0.85"/>
<rect x="495.28" y="489.98" width="2.40" height="2.60" rx="0" fill="#d8e8ff" stroke="none" stroke-width="1" opacity="0.85"/>
<rect x="499.96" y="485.93" width="2.40" height="2.60" rx="0" fill="#d8e8ff" stroke="none" stroke-width="1" opacity="0.85"/>
<rect x="499.96" y="489.98" width="2.40" height="2.60" rx="0" fill="#d8e8ff" stroke="none" stroke-width="1" opacity="0.85"/>
<rect x="504.64" y="485.93" width="2.40" height="2.60" rx="0" fill="#d8e8ff" stroke="none" stroke-width="1" opacity="0.85"/>
<rect x="504.64" y="489.98" width="2.40" height="2.60" rx="0" fill="#d8e8ff" stroke="none" stroke-width="1" opacity="0.85"/>
<rect x="509.32" y="485.93" width="2.40" height="2.60" rx="0" fill="#d8e8ff" stroke="none" stroke-width="1" opacity="0.85"/>
<rect x="509.32" y="489.98" width="2.40" height="2.60" rx="0" fill="#d8e8ff" stroke="none" stroke-width="1" opacity="0.85"/>
<rect x="456.00" y="482.00" width="6.00" height="1.50" rx="0" fill="#bbb" stroke="none" stroke-width="1" />
<rect x="470.74" y="482.20" width="1.00" height="1.00" rx="0" fill="#666" stroke="none" stroke-width="1" />
<rect x="473.54" y="482.20" width="1.00" height="1.00" rx="0" fill="#3c3" stroke="none" stroke-width="1" />
<rect x="476.34" y="482.20" width="1.00" height="1.00" rx="0" fill="#3c3" stroke="none" stroke-width="1" />
<rect x="479.14" y="482.20" width="1.00" height="1.00" rx="0" fill="#3c3" stroke="none" stroke-width="1" />
<rect x="481.94" y="482.20" width="1.00" height="1.00" rx="0" fill="#c33" stroke="none" stroke-width="1" />
<rect x="484.74" y="482.20" width="1.00" height="1.00" rx="0" fill="#c83" stroke="none" stroke-width="1" />
<circle cx="477.76" cy="489.50" r="3" fill="#0d0d0d" stroke="#4a4a4a" stroke-width="0.8"/>
<rect x="456.00" y="487.40" width="5.00" height="5.00" rx="0" fill="#333" stroke="none" stroke-width="1" />
<circle cx="522.22" cy="488.45" r="0.9" fill="#777"/>
<circle cx="527.49" cy="488.45" r="0.9" fill="#777"/>
<circle cx="532.75" cy="488.45" r="0.9" fill="#777"/>
<circle cx="538.01" cy="488.45" r="0.9" fill="#777"/>
<circle cx="543.28" cy="488.45" r="0.9" fill="#777"/>
<circle cx="548.54" cy="488.45" r="0.9" fill="#777"/>
<text x="501.8" y="464" font-size="12" text-anchor="middle" fill="#505050" font-weight="normal" letter-spacing="0" font-family="'Liberation Sans', sans-serif" dominant-baseline="central" >IP网络广播功放</text>
<polygon points="832.51,470.30 916.75,470.30 933.30,477.30 818.30,477.30" fill="url(#gRackTop)" stroke="none" stroke-width="1"/>
<rect x="817.30" y="477.30" width="117.00" height="19.50" rx="0" fill="url(#gRack)" stroke="none" stroke-width="1" />
<rect x="817.90" y="478.80" width="1.60" height="1.60" rx="0.8" fill="#cfcfcf" stroke="none" stroke-width="1" />
<rect x="932.10" y="478.80" width="1.60" height="1.60" rx="0.8" fill="#cfcfcf" stroke="none" stroke-width="1" />
<rect x="817.90" y="494.80" width="1.60" height="1.60" rx="0.8" fill="#cfcfcf" stroke="none" stroke-width="1" />
<rect x="932.10" y="494.80" width="1.60" height="1.60" rx="0.8" fill="#cfcfcf" stroke="none" stroke-width="1" />
<rect x="821.10" y="478.50" width="6.00" height="16.80" rx="2" fill="#3e3e3e" stroke="none" stroke-width="1" />
<rect x="822.10" y="479.70" width="4.00" height="14.40" rx="1.5" fill="#0c0c0c" stroke="none" stroke-width="1" />
<rect x="924.50" y="478.50" width="6.00" height="16.80" rx="2" fill="#3e3e3e" stroke="none" stroke-width="1" />
<rect x="925.50" y="479.70" width="4.00" height="14.40" rx="1.5" fill="#0c0c0c" stroke="none" stroke-width="1" />
<ellipse cx="833.68" cy="497.10" rx="3" ry="1.3" fill="#111"/>
<ellipse cx="910.90" cy="497.10" rx="3" ry="1.3" fill="#111"/>
<rect x="861.10" y="477.80" width="29.40" height="18.50" rx="0" fill="#050505" stroke="none" stroke-width="1" />
<rect x="864.10" y="480.30" width="23.40" height="13.50" rx="0" fill="url(#gScreen)" stroke="none" stroke-width="1" />
<rect x="866.10" y="481.30" width="19.40" height="0.60" rx="0" fill="#a8ccff" stroke="none" stroke-width="1" />
<rect x="867.58" y="484.23" width="2.40" height="2.60" rx="0" fill="#d8e8ff" stroke="none" stroke-width="1" opacity="0.85"/>
<rect x="867.58" y="488.28" width="2.40" height="2.60" rx="0" fill="#d8e8ff" stroke="none" stroke-width="1" opacity="0.85"/>
<rect x="872.26" y="484.23" width="2.40" height="2.60" rx="0" fill="#d8e8ff" stroke="none" stroke-width="1" opacity="0.85"/>
<rect x="872.26" y="488.28" width="2.40" height="2.60" rx="0" fill="#d8e8ff" stroke="none" stroke-width="1" opacity="0.85"/>
<rect x="876.94" y="484.23" width="2.40" height="2.60" rx="0" fill="#d8e8ff" stroke="none" stroke-width="1" opacity="0.85"/>
<rect x="876.94" y="488.28" width="2.40" height="2.60" rx="0" fill="#d8e8ff" stroke="none" stroke-width="1" opacity="0.85"/>
<rect x="881.62" y="484.23" width="2.40" height="2.60" rx="0" fill="#d8e8ff" stroke="none" stroke-width="1" opacity="0.85"/>
<rect x="881.62" y="488.28" width="2.40" height="2.60" rx="0" fill="#d8e8ff" stroke="none" stroke-width="1" opacity="0.85"/>
<rect x="828.30" y="480.30" width="6.00" height="1.50" rx="0" fill="#bbb" stroke="none" stroke-width="1" />
<rect x="843.04" y="480.50" width="1.00" height="1.00" rx="0" fill="#666" stroke="none" stroke-width="1" />
<rect x="845.84" y="480.50" width="1.00" height="1.00" rx="0" fill="#3c3" stroke="none" stroke-width="1" />
<rect x="848.64" y="480.50" width="1.00" height="1.00" rx="0" fill="#3c3" stroke="none" stroke-width="1" />
<rect x="851.44" y="480.50" width="1.00" height="1.00" rx="0" fill="#3c3" stroke="none" stroke-width="1" />
<rect x="854.24" y="480.50" width="1.00" height="1.00" rx="0" fill="#c33" stroke="none" stroke-width="1" />
<rect x="857.04" y="480.50" width="1.00" height="1.00" rx="0" fill="#c83" stroke="none" stroke-width="1" />
<circle cx="850.06" cy="487.80" r="3" fill="#0d0d0d" stroke="#4a4a4a" stroke-width="0.8"/>
<rect x="828.30" y="485.70" width="5.00" height="5.00" rx="0" fill="#333" stroke="none" stroke-width="1" />
<circle cx="894.52" cy="486.75" r="0.9" fill="#777"/>
<circle cx="899.78" cy="486.75" r="0.9" fill="#777"/>
<circle cx="905.05" cy="486.75" r="0.9" fill="#777"/>
<circle cx="910.31" cy="486.75" r="0.9" fill="#777"/>
<circle cx="915.58" cy="486.75" r="0.9" fill="#777"/>
<circle cx="920.84" cy="486.75" r="0.9" fill="#777"/>
<text x="873.6" y="463" font-size="12" text-anchor="middle" fill="#505050" font-weight="normal" letter-spacing="0" font-family="'Liberation Sans', sans-serif" dominant-baseline="central" >IP网络广播功放</text>
<polygon points="1396.41,472.70 1480.65,472.70 1497.20,479.70 1382.20,479.70" fill="url(#gRackTop)" stroke="none" stroke-width="1"/>
<rect x="1381.20" y="479.70" width="117.00" height="19.50" rx="0" fill="url(#gRack)" stroke="none" stroke-width="1" />
<rect x="1381.80" y="481.20" width="1.60" height="1.60" rx="0.8" fill="#cfcfcf" stroke="none" stroke-width="1" />
<rect x="1496.00" y="481.20" width="1.60" height="1.60" rx="0.8" fill="#cfcfcf" stroke="none" stroke-width="1" />
<rect x="1381.80" y="497.20" width="1.60" height="1.60" rx="0.8" fill="#cfcfcf" stroke="none" stroke-width="1" />
<rect x="1496.00" y="497.20" width="1.60" height="1.60" rx="0.8" fill="#cfcfcf" stroke="none" stroke-width="1" />
<rect x="1385.00" y="480.90" width="6.00" height="16.80" rx="2" fill="#3e3e3e" stroke="none" stroke-width="1" />
<rect x="1386.00" y="482.10" width="4.00" height="14.40" rx="1.5" fill="#0c0c0c" stroke="none" stroke-width="1" />
<rect x="1488.40" y="480.90" width="6.00" height="16.80" rx="2" fill="#3e3e3e" stroke="none" stroke-width="1" />
<rect x="1489.40" y="482.10" width="4.00" height="14.40" rx="1.5" fill="#0c0c0c" stroke="none" stroke-width="1" />
<ellipse cx="1397.58" cy="499.50" rx="3" ry="1.3" fill="#111"/>
<ellipse cx="1474.80" cy="499.50" rx="3" ry="1.3" fill="#111"/>
<rect x="1425.00" y="480.20" width="29.40" height="18.50" rx="0" fill="#050505" stroke="none" stroke-width="1" />
<rect x="1428.00" y="482.70" width="23.40" height="13.50" rx="0" fill="url(#gScreen)" stroke="none" stroke-width="1" />
<rect x="1430.00" y="483.70" width="19.40" height="0.60" rx="0" fill="#a8ccff" stroke="none" stroke-width="1" />
<rect x="1431.48" y="486.63" width="2.40" height="2.60" rx="0" fill="#d8e8ff" stroke="none" stroke-width="1" opacity="0.85"/>
<rect x="1431.48" y="490.68" width="2.40" height="2.60" rx="0" fill="#d8e8ff" stroke="none" stroke-width="1" opacity="0.85"/>
<rect x="1436.16" y="486.63" width="2.40" height="2.60" rx="0" fill="#d8e8ff" stroke="none" stroke-width="1" opacity="0.85"/>
<rect x="1436.16" y="490.68" width="2.40" height="2.60" rx="0" fill="#d8e8ff" stroke="none" stroke-width="1" opacity="0.85"/>
<rect x="1440.84" y="486.63" width="2.40" height="2.60" rx="0" fill="#d8e8ff" stroke="none" stroke-width="1" opacity="0.85"/>
<rect x="1440.84" y="490.68" width="2.40" height="2.60" rx="0" fill="#d8e8ff" stroke="none" stroke-width="1" opacity="0.85"/>
<rect x="1445.52" y="486.63" width="2.40" height="2.60" rx="0" fill="#d8e8ff" stroke="none" stroke-width="1" opacity="0.85"/>
<rect x="1445.52" y="490.68" width="2.40" height="2.60" rx="0" fill="#d8e8ff" stroke="none" stroke-width="1" opacity="0.85"/>
<rect x="1392.20" y="482.70" width="6.00" height="1.50" rx="0" fill="#bbb" stroke="none" stroke-width="1" />
<rect x="1406.94" y="482.90" width="1.00" height="1.00" rx="0" fill="#666" stroke="none" stroke-width="1" />
<rect x="1409.74" y="482.90" width="1.00" height="1.00" rx="0" fill="#3c3" stroke="none" stroke-width="1" />
<rect x="1412.54" y="482.90" width="1.00" height="1.00" rx="0" fill="#3c3" stroke="none" stroke-width="1" />
<rect x="1415.34" y="482.90" width="1.00" height="1.00" rx="0" fill="#3c3" stroke="none" stroke-width="1" />
<rect x="1418.14" y="482.90" width="1.00" height="1.00" rx="0" fill="#c33" stroke="none" stroke-width="1" />
<rect x="1420.94" y="482.90" width="1.00" height="1.00" rx="0" fill="#c83" stroke="none" stroke-width="1" />
<circle cx="1413.96" cy="490.20" r="3" fill="#0d0d0d" stroke="#4a4a4a" stroke-width="0.8"/>
<rect x="1392.20" y="488.10" width="5.00" height="5.00" rx="0" fill="#333" stroke="none" stroke-width="1" />
<circle cx="1458.42" cy="489.15" r="0.9" fill="#777"/>
<circle cx="1463.68" cy="489.15" r="0.9" fill="#777"/>
<circle cx="1468.95" cy="489.15" r="0.9" fill="#777"/>
<circle cx="1474.22" cy="489.15" r="0.9" fill="#777"/>
<circle cx="1479.48" cy="489.15" r="0.9" fill="#777"/>
<circle cx="1484.75" cy="489.15" r="0.9" fill="#777"/>
<text x="1438" y="466.4" font-size="12" text-anchor="middle" fill="#505050" font-weight="normal" letter-spacing="0" font-family="'Liberation Sans', sans-serif" dominant-baseline="central" >IP网络广播功放</text>
<polygon points="1591.21,471.30 1675.45,471.30 1692.00,478.30 1577.00,478.30" fill="url(#gRackTop)" stroke="none" stroke-width="1"/>
<rect x="1576.00" y="478.30" width="117.00" height="19.50" rx="0" fill="url(#gRack)" stroke="none" stroke-width="1" />
<rect x="1576.60" y="479.80" width="1.60" height="1.60" rx="0.8" fill="#cfcfcf" stroke="none" stroke-width="1" />
<rect x="1690.80" y="479.80" width="1.60" height="1.60" rx="0.8" fill="#cfcfcf" stroke="none" stroke-width="1" />
<rect x="1576.60" y="495.80" width="1.60" height="1.60" rx="0.8" fill="#cfcfcf" stroke="none" stroke-width="1" />
<rect x="1690.80" y="495.80" width="1.60" height="1.60" rx="0.8" fill="#cfcfcf" stroke="none" stroke-width="1" />
<rect x="1579.80" y="479.50" width="6.00" height="16.80" rx="2" fill="#3e3e3e" stroke="none" stroke-width="1" />
<rect x="1580.80" y="480.70" width="4.00" height="14.40" rx="1.5" fill="#0c0c0c" stroke="none" stroke-width="1" />
<rect x="1683.20" y="479.50" width="6.00" height="16.80" rx="2" fill="#3e3e3e" stroke="none" stroke-width="1" />
<rect x="1684.20" y="480.70" width="4.00" height="14.40" rx="1.5" fill="#0c0c0c" stroke="none" stroke-width="1" />
<ellipse cx="1592.38" cy="498.10" rx="3" ry="1.3" fill="#111"/>
<ellipse cx="1669.60" cy="498.10" rx="3" ry="1.3" fill="#111"/>
<rect x="1619.80" y="478.80" width="29.40" height="18.50" rx="0" fill="#050505" stroke="none" stroke-width="1" />
<rect x="1622.80" y="481.30" width="23.40" height="13.50" rx="0" fill="url(#gScreen)" stroke="none" stroke-width="1" />
<rect x="1624.80" y="482.30" width="19.40" height="0.60" rx="0" fill="#a8ccff" stroke="none" stroke-width="1" />
<rect x="1626.28" y="485.23" width="2.40" height="2.60" rx="0" fill="#d8e8ff" stroke="none" stroke-width="1" opacity="0.85"/>
<rect x="1626.28" y="489.28" width="2.40" height="2.60" rx="0" fill="#d8e8ff" stroke="none" stroke-width="1" opacity="0.85"/>
<rect x="1630.96" y="485.23" width="2.40" height="2.60" rx="0" fill="#d8e8ff" stroke="none" stroke-width="1" opacity="0.85"/>
<rect x="1630.96" y="489.28" width="2.40" height="2.60" rx="0" fill="#d8e8ff" stroke="none" stroke-width="1" opacity="0.85"/>
<rect x="1635.64" y="485.23" width="2.40" height="2.60" rx="0" fill="#d8e8ff" stroke="none" stroke-width="1" opacity="0.85"/>
<rect x="1635.64" y="489.28" width="2.40" height="2.60" rx="0" fill="#d8e8ff" stroke="none" stroke-width="1" opacity="0.85"/>
<rect x="1640.32" y="485.23" width="2.40" height="2.60" rx="0" fill="#d8e8ff" stroke="none" stroke-width="1" opacity="0.85"/>
<rect x="1640.32" y="489.28" width="2.40" height="2.60" rx="0" fill="#d8e8ff" stroke="none" stroke-width="1" opacity="0.85"/>
<rect x="1587.00" y="481.30" width="6.00" height="1.50" rx="0" fill="#bbb" stroke="none" stroke-width="1" />
<rect x="1601.74" y="481.50" width="1.00" height="1.00" rx="0" fill="#666" stroke="none" stroke-width="1" />
<rect x="1604.54" y="481.50" width="1.00" height="1.00" rx="0" fill="#3c3" stroke="none" stroke-width="1" />
<rect x="1607.34" y="481.50" width="1.00" height="1.00" rx="0" fill="#3c3" stroke="none" stroke-width="1" />
<rect x="1610.14" y="481.50" width="1.00" height="1.00" rx="0" fill="#3c3" stroke="none" stroke-width="1" />
<rect x="1612.94" y="481.50" width="1.00" height="1.00" rx="0" fill="#c33" stroke="none" stroke-width="1" />
<rect x="1615.74" y="481.50" width="1.00" height="1.00" rx="0" fill="#c83" stroke="none" stroke-width="1" />
<circle cx="1608.76" cy="488.80" r="3" fill="#0d0d0d" stroke="#4a4a4a" stroke-width="0.8"/>
<rect x="1587.00" y="486.70" width="5.00" height="5.00" rx="0" fill="#333" stroke="none" stroke-width="1" />
<circle cx="1653.22" cy="487.75" r="0.9" fill="#777"/>
<circle cx="1658.49" cy="487.75" r="0.9" fill="#777"/>
<circle cx="1663.75" cy="487.75" r="0.9" fill="#777"/>
<circle cx="1669.02" cy="487.75" r="0.9" fill="#777"/>
<circle cx="1674.28" cy="487.75" r="0.9" fill="#777"/>
<circle cx="1679.55" cy="487.75" r="0.9" fill="#777"/>
<text x="1632.3" y="464" font-size="12" text-anchor="middle" fill="#505050" font-weight="normal" letter-spacing="0" font-family="'Liberation Sans', sans-serif" dominant-baseline="central" >IP网络广播功放</text>
<polygon points="1777.11,471.90 1861.35,471.90 1877.90,478.90 1762.90,478.90" fill="url(#gRackTop)" stroke="none" stroke-width="1"/>
<rect x="1761.90" y="478.90" width="117.00" height="19.50" rx="0" fill="url(#gRack)" stroke="none" stroke-width="1" />
<rect x="1762.50" y="480.40" width="1.60" height="1.60" rx="0.8" fill="#cfcfcf" stroke="none" stroke-width="1" />
<rect x="1876.70" y="480.40" width="1.60" height="1.60" rx="0.8" fill="#cfcfcf" stroke="none" stroke-width="1" />
<rect x="1762.50" y="496.40" width="1.60" height="1.60" rx="0.8" fill="#cfcfcf" stroke="none" stroke-width="1" />
<rect x="1876.70" y="496.40" width="1.60" height="1.60" rx="0.8" fill="#cfcfcf" stroke="none" stroke-width="1" />
<rect x="1765.70" y="480.10" width="6.00" height="16.80" rx="2" fill="#3e3e3e" stroke="none" stroke-width="1" />
<rect x="1766.70" y="481.30" width="4.00" height="14.40" rx="1.5" fill="#0c0c0c" stroke="none" stroke-width="1" />
<rect x="1869.10" y="480.10" width="6.00" height="16.80" rx="2" fill="#3e3e3e" stroke="none" stroke-width="1" />
<rect x="1870.10" y="481.30" width="4.00" height="14.40" rx="1.5" fill="#0c0c0c" stroke="none" stroke-width="1" />
<ellipse cx="1778.28" cy="498.70" rx="3" ry="1.3" fill="#111"/>
<ellipse cx="1855.50" cy="498.70" rx="3" ry="1.3" fill="#111"/>
<rect x="1805.70" y="479.40" width="29.40" height="18.50" rx="0" fill="#050505" stroke="none" stroke-width="1" />
<rect x="1808.70" y="481.90" width="23.40" height="13.50" rx="0" fill="url(#gScreen)" stroke="none" stroke-width="1" />
<rect x="1810.70" y="482.90" width="19.40" height="0.60" rx="0" fill="#a8ccff" stroke="none" stroke-width="1" />
<rect x="1812.18" y="485.83" width="2.40" height="2.60" rx="0" fill="#d8e8ff" stroke="none" stroke-width="1" opacity="0.85"/>
<rect x="1812.18" y="489.88" width="2.40" height="2.60" rx="0" fill="#d8e8ff" stroke="none" stroke-width="1" opacity="0.85"/>
<rect x="1816.86" y="485.83" width="2.40" height="2.60" rx="0" fill="#d8e8ff" stroke="none" stroke-width="1" opacity="0.85"/>
<rect x="1816.86" y="489.88" width="2.40" height="2.60" rx="0" fill="#d8e8ff" stroke="none" stroke-width="1" opacity="0.85"/>
<rect x="1821.54" y="485.83" width="2.40" height="2.60" rx="0" fill="#d8e8ff" stroke="none" stroke-width="1" opacity="0.85"/>
<rect x="1821.54" y="489.88" width="2.40" height="2.60" rx="0" fill="#d8e8ff" stroke="none" stroke-width="1" opacity="0.85"/>
<rect x="1826.22" y="485.83" width="2.40" height="2.60" rx="0" fill="#d8e8ff" stroke="none" stroke-width="1" opacity="0.85"/>
<rect x="1826.22" y="489.88" width="2.40" height="2.60" rx="0" fill="#d8e8ff" stroke="none" stroke-width="1" opacity="0.85"/>
<rect x="1772.90" y="481.90" width="6.00" height="1.50" rx="0" fill="#bbb" stroke="none" stroke-width="1" />
<rect x="1787.64" y="482.10" width="1.00" height="1.00" rx="0" fill="#666" stroke="none" stroke-width="1" />
<rect x="1790.44" y="482.10" width="1.00" height="1.00" rx="0" fill="#3c3" stroke="none" stroke-width="1" />
<rect x="1793.24" y="482.10" width="1.00" height="1.00" rx="0" fill="#3c3" stroke="none" stroke-width="1" />
<rect x="1796.04" y="482.10" width="1.00" height="1.00" rx="0" fill="#3c3" stroke="none" stroke-width="1" />
<rect x="1798.84" y="482.10" width="1.00" height="1.00" rx="0" fill="#c33" stroke="none" stroke-width="1" />
<rect x="1801.64" y="482.10" width="1.00" height="1.00" rx="0" fill="#c83" stroke="none" stroke-width="1" />
<circle cx="1794.66" cy="489.40" r="3" fill="#0d0d0d" stroke="#4a4a4a" stroke-width="0.8"/>
<rect x="1772.90" y="487.30" width="5.00" height="5.00" rx="0" fill="#333" stroke="none" stroke-width="1" />
<circle cx="1839.12" cy="488.35" r="0.9" fill="#777"/>
<circle cx="1844.39" cy="488.35" r="0.9" fill="#777"/>
<circle cx="1849.65" cy="488.35" r="0.9" fill="#777"/>
<circle cx="1854.92" cy="488.35" r="0.9" fill="#777"/>
<circle cx="1860.18" cy="488.35" r="0.9" fill="#777"/>
<circle cx="1865.45" cy="488.35" r="0.9" fill="#777"/>
<text x="1818" y="463.7" font-size="12" text-anchor="middle" fill="#505050" font-weight="normal" letter-spacing="0" font-family="'Liberation Sans', sans-serif" dominant-baseline="central" >IP网络广播功放</text>
<path d="M126.9,499.5 L126.9,620" fill="none" stroke="#2fb0e0" stroke-width="1.3" stroke-linejoin="miter"/>
<path d="M318,499.5 L318,610.6" fill="none" stroke="#2fb0e0" stroke-width="1.3" stroke-linejoin="miter"/>
<path d="M503.2,500 L503.2,606.8" fill="none" stroke="#2fb0e0" stroke-width="1.3" stroke-linejoin="miter"/>
<path d="M683.6,525 L683.6,606.8" fill="none" stroke="#2fb0e0" stroke-width="1.3" stroke-linejoin="miter"/>
<path d="M874.5,498.5 L874.5,609.5" fill="none" stroke="#2fb0e0" stroke-width="1.3" stroke-linejoin="miter"/>
<path d="M1439.4,501 L1439.4,622" fill="none" stroke="#2fb0e0" stroke-width="1.3" stroke-linejoin="miter"/>
<path d="M1633.3,499.5 L1633.3,622" fill="none" stroke="#2fb0e0" stroke-width="1.3" stroke-linejoin="miter"/>
<path d="M1820.6,500 L1820.6,621" fill="none" stroke="#2fb0e0" stroke-width="1.3" stroke-linejoin="miter"/>
<defs><linearGradient id="gws105" x1="0" x2="1" y1="0" y2="0"><stop offset="0" stop-color="#d8d8d8"/><stop offset="0.12" stop-color="#f6f6f6"/><stop offset="0.88" stop-color="#f6f6f6"/><stop offset="1" stop-color="#d0d0d0"/></linearGradient></defs>
<path d="M108.5,618 Q108.5,617 110,617 L143.2,617 Q144.7,617 144.7,618.5 L147.2,667.8 Q147.2,668.8 145.7,668.8 L106,668.8 Q105,668.8 105,667.8 Z" fill="url(#gws105)" stroke="#d4d4d4" stroke-width="0.5" />
<pattern id="pg105" width="2.2" height="2.2" patternUnits="userSpaceOnUse"><rect width="2.2" height="2.2" fill="#b4b4b4"/><rect x="0.4" y="0.4" width="1.1" height="1.1" fill="#858585"/></pattern>
<path d="M111,624.5 Q111,623 112.5,623 L141.2,623 Q142.7,623 142.7,624.5 L143.7,658 Q143.7,659.5 142.2,659.5 L111,659.5 Q109.5,659.5 109.5,658 Z" fill="url(#pg105)" stroke="none" stroke-width="1" />
<ellipse cx="126.10" cy="622.00" rx="6.5" ry="6" fill="#f4f4f4"/>
<circle cx="126.10" cy="622.20" r="1.9" fill="#3a3a3a" stroke="#bbb" stroke-width="0.6"/>
<ellipse cx="126.10" cy="656.50" rx="2.6" ry="1.2" fill="#2a2a2a"/>
<rect x="117.10" y="662.00" width="18.00" height="1.60" rx="0.8" fill="#7a7a7a" stroke="none" stroke-width="1" />
<text x="126.9" y="697.4" font-size="12" text-anchor="middle" fill="#505050" font-weight="normal" letter-spacing="0" font-family="'Liberation Sans', sans-serif" dominant-baseline="central" >壁挂喇叭</text>
<circle cx="316.6" cy="641.8" r="25" fill="#efefef" stroke="#d8d8d8" stroke-width="0.8"/>
<circle cx="316.6" cy="641.8" r="21.5" fill="#c9c9c9"/>
<pattern id="pc316" width="1.6" height="1.6" patternUnits="userSpaceOnUse" patternTransform="rotate(30)"><rect width="1.6" height="1.6" fill="#c4c4c4"/><rect width="1.6" height="0.7" fill="#a8a8a8"/></pattern>
<circle cx="316.6" cy="641.8" r="20.0" fill="url(#pc316)"/>
<circle cx="316.6" cy="641.8" r="20.0" fill="none" stroke="#b8b8b8" stroke-width="0.6"/>
<ellipse cx="316.6" cy="641.8" rx="3.2" ry="1.6" fill="#2a2a2a"/>
<text x="318.5" y="697" font-size="12" text-anchor="middle" fill="#505050" font-weight="normal" letter-spacing="0" font-family="'Liberation Sans', sans-serif" dominant-baseline="central" >天花喇叭</text>
<defs><linearGradient id="gcol459" x1="0" x2="1" y1="0" y2="0"><stop offset="0" stop-color="#dcd6bc"/><stop offset="0.15" stop-color="#f7f4e4"/><stop offset="0.5" stop-color="#ebe6cf"/><stop offset="1" stop-color="#d4cdb0"/></linearGradient></defs>
<rect x="459.40" y="641.10" width="18.40" height="30.10" rx="0" fill="url(#gcol459)" stroke="#c8c2a6" stroke-width="0.4" />
<rect x="463.82" y="642.40" width="9.57" height="26.50" rx="0" fill="#171717" stroke="none" stroke-width="1" />
<rect x="466.39" y="666.70" width="4.42" height="1.50" rx="0" fill="#777" stroke="none" stroke-width="1" />
<rect x="464.92" y="669.00" width="7.36" height="1.00" rx="0" fill="#bbb" stroke="none" stroke-width="1" />
<defs><linearGradient id="gcol480" x1="0" x2="1" y1="0" y2="0"><stop offset="0" stop-color="#dcd6bc"/><stop offset="0.15" stop-color="#f7f4e4"/><stop offset="0.5" stop-color="#ebe6cf"/><stop offset="1" stop-color="#d4cdb0"/></linearGradient></defs>
<rect x="480.40" y="628.30" width="17.80" height="42.90" rx="0" fill="url(#gcol480)" stroke="#c8c2a6" stroke-width="0.4" />
<rect x="484.67" y="629.60" width="9.26" height="39.30" rx="0" fill="#171717" stroke="none" stroke-width="1" />
<rect x="487.16" y="666.70" width="4.27" height="1.50" rx="0" fill="#777" stroke="none" stroke-width="1" />
<rect x="485.74" y="669.00" width="7.12" height="1.00" rx="0" fill="#bbb" stroke="none" stroke-width="1" />
<defs><linearGradient id="gcol501" x1="0" x2="1" y1="0" y2="0"><stop offset="0" stop-color="#dcd6bc"/><stop offset="0.15" stop-color="#f7f4e4"/><stop offset="0.5" stop-color="#ebe6cf"/><stop offset="1" stop-color="#d4cdb0"/></linearGradient></defs>
<rect x="501.50" y="614.60" width="18.20" height="56.60" rx="0" fill="url(#gcol501)" stroke="#c8c2a6" stroke-width="0.4" />
<rect x="505.87" y="615.90" width="9.46" height="53.00" rx="0" fill="#171717" stroke="none" stroke-width="1" />
<rect x="508.42" y="666.70" width="4.37" height="1.50" rx="0" fill="#777" stroke="none" stroke-width="1" />
<rect x="506.96" y="669.00" width="7.28" height="1.00" rx="0" fill="#bbb" stroke="none" stroke-width="1" />
<defs><linearGradient id="gcol522" x1="0" x2="1" y1="0" y2="0"><stop offset="0" stop-color="#dcd6bc"/><stop offset="0.15" stop-color="#f7f4e4"/><stop offset="0.5" stop-color="#ebe6cf"/><stop offset="1" stop-color="#d4cdb0"/></linearGradient></defs>
<rect x="522.70" y="601.10" width="18.40" height="70.10" rx="0" fill="url(#gcol522)" stroke="#c8c2a6" stroke-width="0.4" />
<rect x="527.12" y="602.40" width="9.57" height="66.50" rx="0" fill="#171717" stroke="none" stroke-width="1" />
<rect x="529.69" y="666.70" width="4.42" height="1.50" rx="0" fill="#777" stroke="none" stroke-width="1" />
<rect x="528.22" y="669.00" width="7.36" height="1.00" rx="0" fill="#bbb" stroke="none" stroke-width="1" />
<text x="502.8" y="697.6" font-size="12" text-anchor="middle" fill="#505050" font-weight="normal" letter-spacing="0" font-family="'Liberation Sans', sans-serif" dominant-baseline="central" >壁挂防水音柱</text>
<rect x="653.20" y="475.00" width="61.80" height="49.20" rx="1.5" fill="#141414" stroke="none" stroke-width="1" />
<defs><linearGradient id="gWd" x1="0" y1="0" x2="0" y2="1"><stop offset="0" stop-color="#2c2c2c"/><stop offset="0.5" stop-color="#1e1e1e"/><stop offset="1" stop-color="#262626"/></linearGradient></defs>
<rect x="652.20" y="478.50" width="63.80" height="42.20" rx="1" fill="url(#gWd)" stroke="none" stroke-width="1" />
<ellipse cx="663.20" cy="477.00" rx="2" ry="0.9" fill="#e8e8e8"/>
<ellipse cx="663.20" cy="522.20" rx="2" ry="0.9" fill="#e8e8e8"/>
<ellipse cx="703.00" cy="477.00" rx="2" ry="0.9" fill="#e8e8e8"/>
<ellipse cx="703.00" cy="522.20" rx="2" ry="0.9" fill="#e8e8e8"/>
<rect x="657.40" y="486.50" width="43.00" height="29.50" rx="0" fill="none" stroke="#3a3a3a" stroke-width="0.6" />
<rect x="662.00" y="493.00" width="33.70" height="19.60" rx="0" fill="#050505" stroke="none" stroke-width="1" />
<rect x="665.80" y="494.70" width="26.40" height="15.60" rx="0" fill="url(#gScreen)" stroke="none" stroke-width="1" />
<rect x="667.20" y="496.00" width="23.00" height="0.80" rx="0" fill="#9cc4ff" stroke="none" stroke-width="1" />
<rect x="669.20" y="499.50" width="2.20" height="7.00" rx="0" fill="#d6e6ff" stroke="none" stroke-width="1" opacity="0.75"/>
<rect x="675.00" y="499.50" width="2.20" height="7.00" rx="0" fill="#d6e6ff" stroke="none" stroke-width="1" opacity="0.75"/>
<rect x="680.80" y="499.50" width="2.20" height="7.00" rx="0" fill="#d6e6ff" stroke="none" stroke-width="1" opacity="0.75"/>
<rect x="686.60" y="499.50" width="2.20" height="7.00" rx="0" fill="#d6e6ff" stroke="none" stroke-width="1" opacity="0.75"/>
<rect x="705.70" y="483.00" width="1.80" height="33.00" rx="0" fill="#4a4a4a" stroke="none" stroke-width="1" />
<text x="686" y="465" font-size="12" text-anchor="middle" fill="#505050" font-weight="normal" letter-spacing="0" font-family="'Liberation Sans', sans-serif" dominant-baseline="central" >IP壁挂式解码终端</text>
<defs><linearGradient id="gw652" x1="0" x2="1" y1="0" y2="0"><stop offset="0" stop-color="#a0968e"/><stop offset="0.5" stop-color="#b3aaa2"/><stop offset="1" stop-color="#978d85"/></linearGradient></defs>
<rect x="652.40" y="633.20" width="20.10" height="40.70" rx="0" fill="url(#gw652)" stroke="#8a8078" stroke-width="0.4" />
<rect x="652.40" y="633.20" width="20.10" height="3.50" rx="0" fill="#c9c9c9" stroke="none" stroke-width="1" />
<circle cx="662.45" cy="644.65" r="4.02" fill="#a69d95" stroke="#958b83" stroke-width="0.5"/>
<circle cx="662.45" cy="653.55" r="6.03" fill="#a69d95" stroke="#958b83" stroke-width="0.5"/>
<circle cx="662.45" cy="662.45" r="6.03" fill="#a69d95" stroke="#958b83" stroke-width="0.5"/>
<ellipse cx="662.45" cy="671.40" rx="1.6" ry="1" fill="#222"/>
<rect x="652.40" y="672.70" width="20.10" height="1.20" rx="0" fill="#8a8580" stroke="none" stroke-width="1" />
<defs><linearGradient id="gw672" x1="0" x2="1" y1="0" y2="0"><stop offset="0" stop-color="#a0968e"/><stop offset="0.5" stop-color="#b3aaa2"/><stop offset="1" stop-color="#978d85"/></linearGradient></defs>
<rect x="672.50" y="619.10" width="20.00" height="55.40" rx="0" fill="url(#gw672)" stroke="#8a8078" stroke-width="0.4" />
<rect x="672.50" y="619.10" width="20.00" height="3.50" rx="0" fill="#c9c9c9" stroke="none" stroke-width="1" />
<circle cx="682.50" cy="631.27" r="4.00" fill="#a69d95" stroke="#958b83" stroke-width="0.5"/>
<circle cx="682.50" cy="641.62" r="6.00" fill="#a69d95" stroke="#958b83" stroke-width="0.5"/>
<circle cx="682.50" cy="651.98" r="6.00" fill="#a69d95" stroke="#958b83" stroke-width="0.5"/>
<circle cx="682.50" cy="662.33" r="6.00" fill="#a69d95" stroke="#958b83" stroke-width="0.5"/>
<ellipse cx="682.50" cy="672.00" rx="1.6" ry="1" fill="#222"/>
<rect x="672.50" y="673.30" width="20.00" height="1.20" rx="0" fill="#8a8580" stroke="none" stroke-width="1" />
<defs><linearGradient id="gw693" x1="0" x2="1" y1="0" y2="0"><stop offset="0" stop-color="#a0968e"/><stop offset="0.5" stop-color="#b3aaa2"/><stop offset="1" stop-color="#978d85"/></linearGradient></defs>
<rect x="693.00" y="602.00" width="22.30" height="72.50" rx="0" fill="url(#gw693)" stroke="#8a8078" stroke-width="0.4" />
<rect x="693.00" y="602.00" width="22.30" height="3.50" rx="0" fill="#c9c9c9" stroke="none" stroke-width="1" />
<circle cx="704.15" cy="614.85" r="4.46" fill="#a69d95" stroke="#958b83" stroke-width="0.5"/>
<circle cx="704.15" cy="626.55" r="6.69" fill="#a69d95" stroke="#958b83" stroke-width="0.5"/>
<circle cx="704.15" cy="638.25" r="6.69" fill="#a69d95" stroke="#958b83" stroke-width="0.5"/>
<circle cx="704.15" cy="649.95" r="6.69" fill="#a69d95" stroke="#958b83" stroke-width="0.5"/>
<circle cx="704.15" cy="661.65" r="6.69" fill="#a69d95" stroke="#958b83" stroke-width="0.5"/>
<ellipse cx="704.15" cy="672.00" rx="1.6" ry="1" fill="#222"/>
<rect x="693.00" y="673.30" width="22.30" height="1.20" rx="0" fill="#8a8580" stroke="none" stroke-width="1" />
<text x="680.2" y="697.6" font-size="12" text-anchor="middle" fill="#505050" font-weight="normal" letter-spacing="0" font-family="'Liberation Sans', sans-serif" dominant-baseline="central" >木质壁挂定阻音柱</text>
<circle cx="874.5" cy="641.5" r="25" fill="#efefef" stroke="#d8d8d8" stroke-width="0.8"/>
<circle cx="874.5" cy="641.5" r="21.5" fill="#c9c9c9"/>
<pattern id="pc874" width="1.6" height="1.6" patternUnits="userSpaceOnUse" patternTransform="rotate(30)"><rect width="1.6" height="1.6" fill="#c4c4c4"/><rect width="1.6" height="0.7" fill="#a8a8a8"/></pattern>
<circle cx="874.5" cy="641.5" r="20.0" fill="url(#pc874)"/>
<circle cx="874.5" cy="641.5" r="20.0" fill="none" stroke="#b8b8b8" stroke-width="0.6"/>
<ellipse cx="874.5" cy="641.5" rx="3.2" ry="1.6" fill="#2a2a2a"/>
<text x="874.6" y="696.7" font-size="12" text-anchor="middle" fill="#505050" font-weight="normal" letter-spacing="0" font-family="'Liberation Sans', sans-serif" dominant-baseline="central" >天花喇叭</text>
<polygon points="1016.52,471.70 1100.26,471.70 1116.70,478.62 1002.40,478.62" fill="url(#gRackTop)" stroke="none" stroke-width="1"/>
<rect x="1001.40" y="478.62" width="116.30" height="19.27" rx="0" fill="url(#gRack)" stroke="none" stroke-width="1" />
<rect x="1002.00" y="480.12" width="1.60" height="1.60" rx="0.8" fill="#cfcfcf" stroke="none" stroke-width="1" />
<rect x="1115.50" y="480.12" width="1.60" height="1.60" rx="0.8" fill="#cfcfcf" stroke="none" stroke-width="1" />
<rect x="1002.00" y="495.90" width="1.60" height="1.60" rx="0.8" fill="#cfcfcf" stroke="none" stroke-width="1" />
<rect x="1115.50" y="495.90" width="1.60" height="1.60" rx="0.8" fill="#cfcfcf" stroke="none" stroke-width="1" />
<rect x="1005.20" y="479.82" width="6.00" height="16.57" rx="2" fill="#3e3e3e" stroke="none" stroke-width="1" />
<rect x="1006.20" y="481.02" width="4.00" height="14.17" rx="1.5" fill="#0c0c0c" stroke="none" stroke-width="1" />
<rect x="1107.90" y="479.82" width="6.00" height="16.57" rx="2" fill="#3e3e3e" stroke="none" stroke-width="1" />
<rect x="1108.90" y="481.02" width="4.00" height="14.17" rx="1.5" fill="#0c0c0c" stroke="none" stroke-width="1" />
<ellipse cx="1017.68" cy="498.20" rx="3" ry="1.3" fill="#111"/>
<ellipse cx="1094.44" cy="498.20" rx="3" ry="1.3" fill="#111"/>
<rect x="1044.92" y="479.12" width="29.26" height="18.27" rx="0" fill="#050505" stroke="none" stroke-width="1" />
<rect x="1047.92" y="481.62" width="23.26" height="13.27" rx="0" fill="url(#gScreen)" stroke="none" stroke-width="1" />
<rect x="1049.92" y="482.62" width="19.26" height="0.60" rx="0" fill="#a8ccff" stroke="none" stroke-width="1" />
<rect x="1051.37" y="485.47" width="2.40" height="2.60" rx="0" fill="#d8e8ff" stroke="none" stroke-width="1" opacity="0.85"/>
<rect x="1051.37" y="489.45" width="2.40" height="2.60" rx="0" fill="#d8e8ff" stroke="none" stroke-width="1" opacity="0.85"/>
<rect x="1056.02" y="485.47" width="2.40" height="2.60" rx="0" fill="#d8e8ff" stroke="none" stroke-width="1" opacity="0.85"/>
<rect x="1056.02" y="489.45" width="2.40" height="2.60" rx="0" fill="#d8e8ff" stroke="none" stroke-width="1" opacity="0.85"/>
<rect x="1060.68" y="485.47" width="2.40" height="2.60" rx="0" fill="#d8e8ff" stroke="none" stroke-width="1" opacity="0.85"/>
<rect x="1060.68" y="489.45" width="2.40" height="2.60" rx="0" fill="#d8e8ff" stroke="none" stroke-width="1" opacity="0.85"/>
<rect x="1065.33" y="485.47" width="2.40" height="2.60" rx="0" fill="#d8e8ff" stroke="none" stroke-width="1" opacity="0.85"/>
<rect x="1065.33" y="489.45" width="2.40" height="2.60" rx="0" fill="#d8e8ff" stroke="none" stroke-width="1" opacity="0.85"/>
<rect x="1012.40" y="481.62" width="6.00" height="1.50" rx="0" fill="#bbb" stroke="none" stroke-width="1" />
<rect x="1026.99" y="481.82" width="1.00" height="1.00" rx="0" fill="#666" stroke="none" stroke-width="1" />
<rect x="1029.79" y="481.82" width="1.00" height="1.00" rx="0" fill="#3c3" stroke="none" stroke-width="1" />
<rect x="1032.59" y="481.82" width="1.00" height="1.00" rx="0" fill="#3c3" stroke="none" stroke-width="1" />
<rect x="1035.39" y="481.82" width="1.00" height="1.00" rx="0" fill="#3c3" stroke="none" stroke-width="1" />
<rect x="1038.19" y="481.82" width="1.00" height="1.00" rx="0" fill="#c33" stroke="none" stroke-width="1" />
<rect x="1040.99" y="481.82" width="1.00" height="1.00" rx="0" fill="#c83" stroke="none" stroke-width="1" />
<circle cx="1033.96" cy="489.01" r="3" fill="#0d0d0d" stroke="#4a4a4a" stroke-width="0.8"/>
<rect x="1012.40" y="486.94" width="5.00" height="5.00" rx="0" fill="#333" stroke="none" stroke-width="1" />
<circle cx="1078.16" cy="487.97" r="0.9" fill="#777"/>
<circle cx="1083.39" cy="487.97" r="0.9" fill="#777"/>
<circle cx="1088.62" cy="487.97" r="0.9" fill="#777"/>
<circle cx="1093.86" cy="487.97" r="0.9" fill="#777"/>
<circle cx="1099.09" cy="487.97" r="0.9" fill="#777"/>
<circle cx="1104.33" cy="487.97" r="0.9" fill="#777"/>
<text x="1063.4" y="462.6" font-size="12" text-anchor="middle" fill="#505050" font-weight="normal" letter-spacing="0" font-family="'Liberation Sans', sans-serif" dominant-baseline="central" >IP机架式解码器</text>
<polygon points="1008.10,556.40 1103.80,556.40 1113.30,559.40 998.60,559.40" fill="#2a2a2a" stroke="none" stroke-width="1"/>
<rect x="998.10" y="559.40" width="115.70" height="22.60" rx="0" fill="url(#gRack)" stroke="none" stroke-width="1" />
<rect x="998.70" y="560.90" width="1.60" height="1.60" rx="0.8" fill="#ddd" stroke="none" stroke-width="1" />
<rect x="1111.60" y="560.90" width="1.60" height="1.60" rx="0.8" fill="#ddd" stroke="none" stroke-width="1" />
<rect x="998.70" y="579.50" width="1.60" height="1.60" rx="0.8" fill="#ddd" stroke="none" stroke-width="1" />
<rect x="1111.60" y="579.50" width="1.60" height="1.60" rx="0.8" fill="#ddd" stroke="none" stroke-width="1" />
<rect x="1003.10" y="562.40" width="4.50" height="16.60" rx="1" fill="#3a3a3a" stroke="none" stroke-width="1" />
<rect x="1004.10" y="563.90" width="2.50" height="13.60" rx="0" fill="#0c0c0c" stroke="none" stroke-width="1" />
<rect x="1104.30" y="562.40" width="4.50" height="16.60" rx="1" fill="#3a3a3a" stroke="none" stroke-width="1" />
<rect x="1105.30" y="563.90" width="2.50" height="13.60" rx="0" fill="#0c0c0c" stroke="none" stroke-width="1" />
<rect x="1024.80" y="564.20" width="10.10" height="5.80" rx="0" fill="#2a8ae8" stroke="none" stroke-width="1" />
<rect x="1010.10" y="560.90" width="5.00" height="1.20" rx="0" fill="#aaa" stroke="none" stroke-width="1" />
<rect x="1016.10" y="564.40" width="3.00" height="2.50" rx="0" fill="#bbb" stroke="none" stroke-width="1" />
<rect x="1040.10" y="564.40" width="1.00" height="1.00" rx="0" fill="#999" stroke="none" stroke-width="1" />
<rect x="1040.10" y="568.40" width="1.00" height="1.00" rx="0" fill="#999" stroke="none" stroke-width="1" />
<rect x="1045.60" y="564.40" width="1.00" height="1.00" rx="0" fill="#999" stroke="none" stroke-width="1" />
<rect x="1045.60" y="568.40" width="1.00" height="1.00" rx="0" fill="#999" stroke="none" stroke-width="1" />
<rect x="1051.10" y="564.40" width="1.00" height="1.00" rx="0" fill="#999" stroke="none" stroke-width="1" />
<rect x="1051.10" y="568.40" width="1.00" height="1.00" rx="0" fill="#999" stroke="none" stroke-width="1" />
<rect x="1056.60" y="564.40" width="1.00" height="1.00" rx="0" fill="#999" stroke="none" stroke-width="1" />
<rect x="1056.60" y="568.40" width="1.00" height="1.00" rx="0" fill="#999" stroke="none" stroke-width="1" />
<rect x="1062.10" y="564.40" width="1.00" height="1.00" rx="0" fill="#999" stroke="none" stroke-width="1" />
<rect x="1062.10" y="568.40" width="1.00" height="1.00" rx="0" fill="#999" stroke="none" stroke-width="1" />
<rect x="1088.80" y="564.40" width="12.00" height="1.50" rx="0" fill="#888" stroke="none" stroke-width="1" />
<circle cx="1025.80" cy="577.70" r="1.9" fill="#111" stroke="#666" stroke-width="0.5"/>
<rect x="1024.80" y="572.90" width="2.00" height="0.80" rx="0" fill="#777" stroke="none" stroke-width="1" />
<circle cx="1033.00" cy="577.70" r="1.9" fill="#111" stroke="#666" stroke-width="0.5"/>
<rect x="1032.00" y="572.90" width="2.00" height="0.80" rx="0" fill="#777" stroke="none" stroke-width="1" />
<circle cx="1040.20" cy="577.70" r="1.9" fill="#111" stroke="#666" stroke-width="0.5"/>
<rect x="1039.20" y="572.90" width="2.00" height="0.80" rx="0" fill="#777" stroke="none" stroke-width="1" />
<circle cx="1047.40" cy="577.70" r="1.9" fill="#111" stroke="#666" stroke-width="0.5"/>
<rect x="1046.40" y="572.90" width="2.00" height="0.80" rx="0" fill="#777" stroke="none" stroke-width="1" />
<circle cx="1054.60" cy="577.70" r="1.9" fill="#111" stroke="#666" stroke-width="0.5"/>
<rect x="1053.60" y="572.90" width="2.00" height="0.80" rx="0" fill="#777" stroke="none" stroke-width="1" />
<circle cx="1061.80" cy="577.70" r="1.9" fill="#111" stroke="#666" stroke-width="0.5"/>
<rect x="1060.80" y="572.90" width="2.00" height="0.80" rx="0" fill="#777" stroke="none" stroke-width="1" />
<circle cx="1069.00" cy="577.70" r="1.9" fill="#111" stroke="#666" stroke-width="0.5"/>
<rect x="1068.00" y="572.90" width="2.00" height="0.80" rx="0" fill="#777" stroke="none" stroke-width="1" />
<circle cx="1076.20" cy="577.70" r="1.9" fill="#111" stroke="#666" stroke-width="0.5"/>
<rect x="1075.20" y="572.90" width="2.00" height="0.80" rx="0" fill="#777" stroke="none" stroke-width="1" />
<circle cx="1083.40" cy="577.70" r="1.9" fill="#111" stroke="#666" stroke-width="0.5"/>
<rect x="1082.40" y="572.90" width="2.00" height="0.80" rx="0" fill="#777" stroke="none" stroke-width="1" />
<circle cx="1090.60" cy="577.70" r="1.9" fill="#111" stroke="#666" stroke-width="0.5"/>
<rect x="1089.60" y="572.90" width="2.00" height="0.80" rx="0" fill="#777" stroke="none" stroke-width="1" />
<circle cx="1100.10" cy="577.70" r="1.6" fill="#6a4a2a"/>
<rect x="1017.10" y="572.40" width="3.00" height="6.00" rx="0" fill="#a33" stroke="none" stroke-width="1" />
<ellipse cx="1011.98" cy="582.20" rx="2.5" ry="1" fill="#111"/>
<ellipse cx="1099.92" cy="582.20" rx="2.5" ry="1" fill="#111"/>
<text x="1058.6" y="547.4" font-size="12" text-anchor="middle" fill="#505050" font-weight="normal" letter-spacing="0" font-family="'Liberation Sans', sans-serif" dominant-baseline="central" >前置放大器</text>
<polygon points="1006.80,638.60 1107.70,638.60 1117.20,642.10 997.30,642.10" fill="#2a2a2a" stroke="none" stroke-width="1"/>
<rect x="996.80" y="642.10" width="120.90" height="31.90" rx="0" fill="url(#gRack)" stroke="none" stroke-width="1" />
<rect x="999.80" y="646.60" width="2.00" height="22.40" rx="1" fill="#c8c8c8" stroke="none" stroke-width="1" />
<rect x="1112.70" y="646.60" width="2.00" height="22.40" rx="1" fill="#c8c8c8" stroke="none" stroke-width="1" />
<circle cx="998.8" cy="648.6" r="0.8" fill="#ddd"/>
<circle cx="1115.7" cy="648.6" r="0.8" fill="#ddd"/>
<circle cx="998.8" cy="667" r="0.8" fill="#ddd"/>
<circle cx="1115.7" cy="667" r="0.8" fill="#ddd"/>
<rect x="1010.30" y="647.40" width="23.20" height="22.60" rx="0" fill="#0c0c0c" stroke="none" stroke-width="1" />
<rect x="1010.30" y="648.10" width="23.20" height="0.80" rx="0" fill="#3a3a3a" stroke="none" stroke-width="1" />
<rect x="1010.30" y="650.15" width="23.20" height="0.80" rx="0" fill="#3a3a3a" stroke="none" stroke-width="1" />
<rect x="1010.30" y="652.20" width="23.20" height="0.80" rx="0" fill="#3a3a3a" stroke="none" stroke-width="1" />
<rect x="1010.30" y="654.25" width="23.20" height="0.80" rx="0" fill="#3a3a3a" stroke="none" stroke-width="1" />
<rect x="1010.30" y="656.30" width="23.20" height="0.80" rx="0" fill="#3a3a3a" stroke="none" stroke-width="1" />
<rect x="1010.30" y="658.35" width="23.20" height="0.80" rx="0" fill="#3a3a3a" stroke="none" stroke-width="1" />
<rect x="1010.30" y="660.40" width="23.20" height="0.80" rx="0" fill="#3a3a3a" stroke="none" stroke-width="1" />
<rect x="1010.30" y="662.45" width="23.20" height="0.80" rx="0" fill="#3a3a3a" stroke="none" stroke-width="1" />
<rect x="1010.30" y="664.50" width="23.20" height="0.80" rx="0" fill="#3a3a3a" stroke="none" stroke-width="1" />
<rect x="1010.30" y="666.55" width="23.20" height="0.80" rx="0" fill="#3a3a3a" stroke="none" stroke-width="1" />
<rect x="1010.30" y="668.60" width="23.20" height="0.80" rx="0" fill="#3a3a3a" stroke="none" stroke-width="1" />
<rect x="1080.90" y="647.40" width="23.20" height="22.60" rx="0" fill="#0c0c0c" stroke="none" stroke-width="1" />
<rect x="1080.90" y="648.10" width="23.20" height="0.80" rx="0" fill="#3a3a3a" stroke="none" stroke-width="1" />
<rect x="1080.90" y="650.15" width="23.20" height="0.80" rx="0" fill="#3a3a3a" stroke="none" stroke-width="1" />
<rect x="1080.90" y="652.20" width="23.20" height="0.80" rx="0" fill="#3a3a3a" stroke="none" stroke-width="1" />
<rect x="1080.90" y="654.25" width="23.20" height="0.80" rx="0" fill="#3a3a3a" stroke="none" stroke-width="1" />
<rect x="1080.90" y="656.30" width="23.20" height="0.80" rx="0" fill="#3a3a3a" stroke="none" stroke-width="1" />
<rect x="1080.90" y="658.35" width="23.20" height="0.80" rx="0" fill="#3a3a3a" stroke="none" stroke-width="1" />
<rect x="1080.90" y="660.40" width="23.20" height="0.80" rx="0" fill="#3a3a3a" stroke="none" stroke-width="1" />
<rect x="1080.90" y="662.45" width="23.20" height="0.80" rx="0" fill="#3a3a3a" stroke="none" stroke-width="1" />
<rect x="1080.90" y="664.50" width="23.20" height="0.80" rx="0" fill="#3a3a3a" stroke="none" stroke-width="1" />
<rect x="1080.90" y="666.55" width="23.20" height="0.80" rx="0" fill="#3a3a3a" stroke="none" stroke-width="1" />
<rect x="1080.90" y="668.60" width="23.20" height="0.80" rx="0" fill="#3a3a3a" stroke="none" stroke-width="1" />
<rect x="1038.40" y="655.00" width="5.80" height="6.90" rx="0" fill="#2a2a2a" stroke="#555" stroke-width="0.5" />
<rect x="1037.80" y="664.60" width="6.00" height="0.80" rx="0" fill="#666" stroke="none" stroke-width="1" />
<rect x="1060.80" y="654.10" width="1.50" height="1.00" rx="0" fill="#d08030" stroke="none" stroke-width="1" />
<rect x="1063.30" y="654.10" width="4.00" height="0.60" rx="0" fill="#777" stroke="none" stroke-width="1" />
<rect x="1060.80" y="656.30" width="1.50" height="1.00" rx="0" fill="#3a9" stroke="none" stroke-width="1" />
<rect x="1063.30" y="656.30" width="4.00" height="0.60" rx="0" fill="#777" stroke="none" stroke-width="1" />
<rect x="1060.80" y="658.50" width="1.50" height="1.00" rx="0" fill="#c33" stroke="none" stroke-width="1" />
<rect x="1063.30" y="658.50" width="4.00" height="0.60" rx="0" fill="#777" stroke="none" stroke-width="1" />
<rect x="1060.80" y="660.70" width="1.50" height="1.00" rx="0" fill="#3a9" stroke="none" stroke-width="1" />
<rect x="1063.30" y="660.70" width="4.00" height="0.60" rx="0" fill="#777" stroke="none" stroke-width="1" />
<circle cx="1072.80" cy="658.40" r="3" fill="#151515" stroke="#777" stroke-width="0.7"/>
<rect x="1004.80" y="643.60" width="6.00" height="1.20" rx="0" fill="#aaa" stroke="none" stroke-width="1" />
<rect x="1085.70" y="643.60" width="22.00" height="1.20" rx="0" fill="#777" stroke="none" stroke-width="1" />
<ellipse cx="1011.31" cy="674.20" rx="2.5" ry="1" fill="#111"/>
<ellipse cx="1103.19" cy="674.20" rx="2.5" ry="1" fill="#111"/>
<text x="1059.5" y="632.2" font-size="12" text-anchor="middle" fill="#505050" font-weight="normal" letter-spacing="0" font-family="'Liberation Sans', sans-serif" dominant-baseline="central" >纯后级功放</text>
<path d="M1060.5,499.5 L1059.6,547" fill="none" stroke="#22a84f" stroke-width="1.2" stroke-linejoin="miter"/>
<path d="M1059.5,553 L1056.0,547 L1059.5,547.8 L1063.0,547Z" fill="#22a84f"/>
<path d="M1058,583.2 L1056.2,630" fill="none" stroke="#22a84f" stroke-width="1.2" stroke-linejoin="miter"/>
<path d="M1056,636 L1052.5,630 L1056,630.8 L1059.5,630Z" fill="#22a84f"/>
<path d="M1178.3,571 L1121,571" fill="none" stroke="#22a84f" stroke-width="1.2" stroke-linejoin="miter"/>
<path d="M1115.3,571 L1121.3,567.5 L1120.5,571 L1121.3,574.5Z" fill="#22a84f"/>
<path d="M1117.7,657.4 L1200,657.4" fill="none" stroke="#2fb0e0" stroke-width="1.3" stroke-linejoin="miter"/>
<path d="M1171.3,467.256 L1208.645,453.4 L1208.645,468.988 L1218.3,468.988 Q1219.8,469.854 1219.8,472.885 L1219.8,477.64799999999997 Q1219.8,480.246 1218.3,480.246 L1208.645,480.246 L1208.645,496.7 L1171.3,481.978 Z" fill="#1c1c1c" stroke="none" stroke-width="1" />
<rect x="1208.14" y="469.85" width="10.15" height="9.53" rx="0" fill="#2e2e2e" stroke="none" stroke-width="1" />
<text x="1190.7" y="474.18399999999997" font-size="7" font-weight="bold" text-anchor="middle" fill="#e0e0e0" font-family="'Liberation Serif', serif" dominant-baseline="central">Hisco</text>
<circle cx="1197.975" cy="496.2" r="1.6" fill="#222"/>
<path d="M1221.8,467.256 L1259.145,453.4 L1259.145,468.988 L1268.8,468.988 Q1270.3,469.854 1270.3,472.885 L1270.3,477.64799999999997 Q1270.3,480.246 1268.8,480.246 L1259.145,480.246 L1259.145,496.7 L1221.8,481.978 Z" fill="#1c1c1c" stroke="none" stroke-width="1" />
<rect x="1258.64" y="469.85" width="10.15" height="9.53" rx="0" fill="#2e2e2e" stroke="none" stroke-width="1" />
<text x="1241.2" y="474.18399999999997" font-size="7" font-weight="bold" text-anchor="middle" fill="#e0e0e0" font-family="'Liberation Serif', serif" dominant-baseline="central">Hisco</text>
<circle cx="1248.475" cy="496.2" r="1.6" fill="#222"/>
<text x="1215.6" y="443.7" font-size="12" text-anchor="middle" fill="#505050" font-weight="normal" letter-spacing="0" font-family="'Liberation Sans', sans-serif" dominant-baseline="central" >天线放大器</text>
<path d="M1197.8,497 L1197.2,547.5" fill="none" stroke="#f4a84a" stroke-width="1.2" stroke-linejoin="miter"/>
<path d="M1250,497 L1250,547.5" fill="none" stroke="#f4a84a" stroke-width="1.2" stroke-linejoin="miter"/>
<line x1="1211.5" y1="565.8" x2="1189" y2="549.4" stroke="#1a1a1a" stroke-width="1.4" stroke-linecap="round"/>
<line x1="1214" y1="565.8" x2="1199.2" y2="551.4" stroke="#1a1a1a" stroke-width="1.4" stroke-linecap="round"/>
<line x1="1232.5" y1="565.8" x2="1246" y2="551.4" stroke="#1a1a1a" stroke-width="1.4" stroke-linecap="round"/>
<line x1="1235" y1="565.8" x2="1257" y2="549.4" stroke="#1a1a1a" stroke-width="1.4" stroke-linecap="round"/>
<polygon points="1186.30,563.80 1260.00,563.80 1268.00,566.80 1178.30,566.80" fill="#3a3a3a" stroke="none" stroke-width="1"/>
<rect x="1178.30" y="566.80" width="89.70" height="8.70" rx="0" fill="#1a1a1a" stroke="none" stroke-width="1" />
<rect x="1195.80" y="568.30" width="18.50" height="6.00" rx="0" fill="#1d4ad0" stroke="none" stroke-width="1" />
<rect x="1197.30" y="569.30" width="8.00" height="1.00" rx="0" fill="#8ab0ff" stroke="none" stroke-width="1" />
<rect x="1231.30" y="568.30" width="19.50" height="6.00" rx="0" fill="#1d4ad0" stroke="none" stroke-width="1" />
<rect x="1232.80" y="569.30" width="8.00" height="1.00" rx="0" fill="#8ab0ff" stroke="none" stroke-width="1" />
<rect x="1218.30" y="567.80" width="9.00" height="2.00" rx="0" fill="#ddd" stroke="none" stroke-width="1" />
<circle cx="1188.3" cy="571.3" r="2" fill="#333" stroke="#777" stroke-width="0.5"/>
<rect x="1179.80" y="567.80" width="2.50" height="6.70" rx="0" fill="#4a4a4a" stroke="none" stroke-width="1" />
<rect x="1264.00" y="567.80" width="2.50" height="6.70" rx="0" fill="#4a4a4a" stroke="none" stroke-width="1" />
<rect x="1209.60" y="516.30" width="7.20" height="10.00" rx="2.5" fill="#a8a8a8" stroke="none" stroke-width="1" />
<rect x="1210.00" y="518.30" width="6.40" height="0.70" rx="0" fill="#777" stroke="none" stroke-width="1" />
<rect x="1210.00" y="520.80" width="6.40" height="0.70" rx="0" fill="#777" stroke="none" stroke-width="1" />
<rect x="1210.00" y="523.30" width="6.40" height="0.70" rx="0" fill="#777" stroke="none" stroke-width="1" />
<path d="M1210.0,526.3 L1216.4,526.3 L1215.2,552 L1211.2,552 Z" fill="#b8b4a8" stroke="#888" stroke-width="0.4" />
<rect x="1211.20" y="552.00" width="4.00" height="8.00" rx="1" fill="#222" stroke="none" stroke-width="1" />
<rect x="1211.60" y="531.30" width="3.20" height="5.00" rx="0" fill="#e08a20" stroke="none" stroke-width="1" />
<rect x="1225.60" y="516.30" width="7.20" height="10.00" rx="2.5" fill="#a8a8a8" stroke="none" stroke-width="1" />
<rect x="1226.00" y="518.30" width="6.40" height="0.70" rx="0" fill="#777" stroke="none" stroke-width="1" />
<rect x="1226.00" y="520.80" width="6.40" height="0.70" rx="0" fill="#777" stroke="none" stroke-width="1" />
<rect x="1226.00" y="523.30" width="6.40" height="0.70" rx="0" fill="#777" stroke="none" stroke-width="1" />
<path d="M1226.0,526.3 L1232.4,526.3 L1231.2,552 L1227.2,552 Z" fill="#b8b4a8" stroke="#888" stroke-width="0.4" />
<rect x="1227.20" y="552.00" width="4.00" height="8.00" rx="1" fill="#222" stroke="none" stroke-width="1" />
<rect x="1227.60" y="531.30" width="3.20" height="5.00" rx="0" fill="#e08a20" stroke="none" stroke-width="1" />
<text x="1222" y="586.7" font-size="12" text-anchor="middle" fill="#505050" font-weight="normal" letter-spacing="0" font-family="'Liberation Sans', sans-serif" dominant-baseline="central" >无线话筒</text>
<defs><linearGradient id="gwc1200" x1="0" x2="1" y1="0" y2="0"><stop offset="0" stop-color="#dcdcdc"/><stop offset="0.3" stop-color="#f2f2f2"/><stop offset="0.7" stop-color="#ededed"/><stop offset="1" stop-color="#d4d4d4"/></linearGradient></defs>
<rect x="1200.90" y="636.10" width="20.20" height="36.40" rx="0" fill="url(#gwc1200)" stroke="none" stroke-width="1" />
<pattern id="pw1200" width="1.8" height="1.8" patternUnits="userSpaceOnUse"><rect width="1.8" height="1.8" fill="#e8e8e8"/><rect width="0.9" height="0.9" fill="#cdcdcd"/></pattern>
<rect x="1203.37" y="638.60" width="15.26" height="30.40" rx="0" fill="url(#pw1200)" stroke="none" stroke-width="1" />
<rect x="1200.40" y="634.10" width="21.20" height="4.00" rx="1.5" fill="#f6f6f6" stroke="#c4c4c4" stroke-width="0.5" />
<rect x="1200.40" y="671.00" width="21.20" height="3.50" rx="1.5" fill="#f4f4f4" stroke="#c8c8c8" stroke-width="0.5" />
<rect x="1209.30" y="669.00" width="3.39" height="1.30" rx="0" fill="#555" stroke="none" stroke-width="1" />
<defs><linearGradient id="gwc1233" x1="0" x2="1" y1="0" y2="0"><stop offset="0" stop-color="#dcdcdc"/><stop offset="0.3" stop-color="#f2f2f2"/><stop offset="0.7" stop-color="#ededed"/><stop offset="1" stop-color="#d4d4d4"/></linearGradient></defs>
<rect x="1234.00" y="624.10" width="20.40" height="48.40" rx="0" fill="url(#gwc1233)" stroke="none" stroke-width="1" />
<pattern id="pw1233" width="1.8" height="1.8" patternUnits="userSpaceOnUse"><rect width="1.8" height="1.8" fill="#e8e8e8"/><rect width="0.9" height="0.9" fill="#cdcdcd"/></pattern>
<rect x="1236.50" y="626.60" width="15.41" height="42.40" rx="0" fill="url(#pw1233)" stroke="none" stroke-width="1" />
<rect x="1233.50" y="622.10" width="21.40" height="4.00" rx="1.5" fill="#f6f6f6" stroke="#c4c4c4" stroke-width="0.5" />
<rect x="1233.50" y="671.00" width="21.40" height="3.50" rx="1.5" fill="#f4f4f4" stroke="#c8c8c8" stroke-width="0.5" />
<rect x="1242.49" y="669.00" width="3.42" height="1.30" rx="0" fill="#555" stroke="none" stroke-width="1" />
<defs><linearGradient id="gwc1264" x1="0" x2="1" y1="0" y2="0"><stop offset="0" stop-color="#dcdcdc"/><stop offset="0.3" stop-color="#f2f2f2"/><stop offset="0.7" stop-color="#ededed"/><stop offset="1" stop-color="#d4d4d4"/></linearGradient></defs>
<rect x="1265.40" y="612.20" width="20.60" height="60.30" rx="0" fill="url(#gwc1264)" stroke="none" stroke-width="1" />
<pattern id="pw1264" width="1.8" height="1.8" patternUnits="userSpaceOnUse"><rect width="1.8" height="1.8" fill="#e8e8e8"/><rect width="0.9" height="0.9" fill="#cdcdcd"/></pattern>
<rect x="1267.92" y="614.70" width="15.55" height="54.30" rx="0" fill="url(#pw1264)" stroke="none" stroke-width="1" />
<rect x="1264.90" y="610.20" width="21.60" height="4.00" rx="1.5" fill="#f6f6f6" stroke="#c4c4c4" stroke-width="0.5" />
<rect x="1264.90" y="671.00" width="21.60" height="3.50" rx="1.5" fill="#f4f4f4" stroke="#c8c8c8" stroke-width="0.5" />
<rect x="1273.97" y="669.00" width="3.46" height="1.30" rx="0" fill="#555" stroke="none" stroke-width="1" />
<defs><linearGradient id="gwc1293" x1="0" x2="1" y1="0" y2="0"><stop offset="0" stop-color="#dcdcdc"/><stop offset="0.3" stop-color="#f2f2f2"/><stop offset="0.7" stop-color="#ededed"/><stop offset="1" stop-color="#d4d4d4"/></linearGradient></defs>
<rect x="1294.30" y="600.30" width="20.70" height="72.20" rx="0" fill="url(#gwc1293)" stroke="none" stroke-width="1" />
<pattern id="pw1293" width="1.8" height="1.8" patternUnits="userSpaceOnUse"><rect width="1.8" height="1.8" fill="#e8e8e8"/><rect width="0.9" height="0.9" fill="#cdcdcd"/></pattern>
<rect x="1296.84" y="602.80" width="15.62" height="66.20" rx="0" fill="url(#pw1293)" stroke="none" stroke-width="1" />
<rect x="1293.80" y="598.30" width="21.70" height="4.00" rx="1.5" fill="#f6f6f6" stroke="#c4c4c4" stroke-width="0.5" />
<rect x="1293.80" y="671.00" width="21.70" height="3.50" rx="1.5" fill="#f4f4f4" stroke="#c8c8c8" stroke-width="0.5" />
<rect x="1302.91" y="669.00" width="3.47" height="1.30" rx="0" fill="#555" stroke="none" stroke-width="1" />
<text x="1259.6" y="696.6" font-size="12" text-anchor="middle" fill="#505050" font-weight="normal" letter-spacing="0" font-family="'Liberation Sans', sans-serif" dominant-baseline="central" >壁挂防水音柱</text>
<defs><linearGradient id="gws1417" x1="0" x2="1" y1="0" y2="0"><stop offset="0" stop-color="#d8d8d8"/><stop offset="0.12" stop-color="#f6f6f6"/><stop offset="0.88" stop-color="#f6f6f6"/><stop offset="1" stop-color="#d0d0d0"/></linearGradient></defs>
<path d="M1421.1,621.6 Q1421.1,620.6 1422.6,620.6 L1456.2,620.6 Q1457.7,620.6 1457.7,622.1 L1460.2,670.5 Q1460.2,671.5 1458.7,671.5 L1418.6,671.5 Q1417.6,671.5 1417.6,670.5 Z" fill="url(#gws1417)" stroke="#d4d4d4" stroke-width="0.5" />
<pattern id="pg1417" width="2.2" height="2.2" patternUnits="userSpaceOnUse"><rect width="2.2" height="2.2" fill="#b4b4b4"/><rect x="0.4" y="0.4" width="1.1" height="1.1" fill="#858585"/></pattern>
<path d="M1423.6,628.1 Q1423.6,626.6 1425.1,626.6 L1454.2,626.6 Q1455.7,626.6 1455.7,628.1 L1456.7,661.6 Q1456.7,663.1 1455.2,663.1 L1423.6,663.1 Q1422.1,663.1 1422.1,661.6 Z" fill="url(#pg1417)" stroke="none" stroke-width="1" />
<ellipse cx="1438.90" cy="625.60" rx="6.5" ry="6" fill="#f4f4f4"/>
<circle cx="1438.90" cy="625.80" r="1.9" fill="#3a3a3a" stroke="#bbb" stroke-width="0.6"/>
<ellipse cx="1438.90" cy="660.10" rx="2.6" ry="1.2" fill="#2a2a2a"/>
<rect x="1429.90" y="665.60" width="18.00" height="1.60" rx="0.8" fill="#7a7a7a" stroke="none" stroke-width="1" />
<text x="1439.4" y="699.8" font-size="12" text-anchor="middle" fill="#505050" font-weight="normal" letter-spacing="0" font-family="'Liberation Sans', sans-serif" dominant-baseline="central" >壁挂喇叭</text>
<defs><linearGradient id="gws1612" x1="0" x2="1" y1="0" y2="0"><stop offset="0" stop-color="#d8d8d8"/><stop offset="0.12" stop-color="#f6f6f6"/><stop offset="0.88" stop-color="#f6f6f6"/><stop offset="1" stop-color="#d0d0d0"/></linearGradient></defs>
<path d="M1615.9,619 Q1615.9,618 1617.4,618 L1648.7,618 Q1650.2,618 1650.2,619.5 L1652.7,669 Q1652.7,670 1651.2,670 L1613.4,670 Q1612.4,670 1612.4,669 Z" fill="url(#gws1612)" stroke="#d4d4d4" stroke-width="0.5" />
<pattern id="pg1612" width="2.2" height="2.2" patternUnits="userSpaceOnUse"><rect width="2.2" height="2.2" fill="#b4b4b4"/><rect x="0.4" y="0.4" width="1.1" height="1.1" fill="#858585"/></pattern>
<path d="M1618.4,625.5 Q1618.4,624 1619.9,624 L1646.7,624 Q1648.2,624 1648.2,625.5 L1649.2,659 Q1649.2,660.5 1647.7,660.5 L1618.4,660.5 Q1616.9,660.5 1616.9,659 Z" fill="url(#pg1612)" stroke="none" stroke-width="1" />
<ellipse cx="1632.55" cy="623.00" rx="6.5" ry="6" fill="#f4f4f4"/>
<circle cx="1632.55" cy="623.20" r="1.9" fill="#3a3a3a" stroke="#bbb" stroke-width="0.6"/>
<ellipse cx="1632.55" cy="657.50" rx="2.6" ry="1.2" fill="#2a2a2a"/>
<rect x="1623.55" y="663.00" width="18.00" height="1.60" rx="0.8" fill="#7a7a7a" stroke="none" stroke-width="1" />
<text x="1634.3" y="698.8" font-size="12" text-anchor="middle" fill="#505050" font-weight="normal" letter-spacing="0" font-family="'Liberation Sans', sans-serif" dominant-baseline="central" >壁挂喇叭</text>
<defs><radialGradient id="gRock" cx="0.5" cy="0.45" r="0.6"><stop offset="0" stop-color="#e8b048"/><stop offset="0.6" stop-color="#d89838"/><stop offset="1" stop-color="#a8662a"/></radialGradient></defs>
<path d="M1806.2,625.7 Q1810.2,619.7 1818.2,620.2 Q1826.2,620.7 1828.2,624.7 Q1836.2,628.7 1838.2,641.7 Q1842.6,657.7 1842.6,667 Q1840.6,673 1832.6,673 Q1816.2,673.5 1804.2,667 Q1797.2,661 1796.2,653.7 Q1797.2,639.7 1800.2,633.7 Q1802.2,627.7 1806.2,625.7 Z" fill="url(#gRock)" stroke="none" stroke-width="1" />
<path d="M1802.2,631.7 Q1806.2,623.7 1812.2,623.7 Q1808.2,633.7 1804.2,641.7 Z" fill="#8a4a30" stroke="none" stroke-width="1" opacity="0.55"/>
<path d="M1826.2,623.7 Q1834.2,629.7 1836.2,639.7 Q1830.2,635.7 1826.2,623.7 Z" fill="#f4d080" stroke="none" stroke-width="1" opacity="0.6"/>
<circle cx="1817.0" cy="656.7" r="9.5" fill="#5a3010"/>
<ellipse cx="1813.0" cy="651.7" rx="1.4" ry="1.1" fill="#c8903a"/>
<ellipse cx="1817.0" cy="650.7" rx="1.4" ry="1.1" fill="#c8903a"/>
<ellipse cx="1821.0" cy="651.7" rx="1.4" ry="1.1" fill="#c8903a"/>
<ellipse cx="1811.0" cy="655.7" rx="1.4" ry="1.1" fill="#c8903a"/>
<ellipse cx="1815.0" cy="654.7" rx="1.4" ry="1.1" fill="#c8903a"/>
<ellipse cx="1819.0" cy="654.7" rx="1.4" ry="1.1" fill="#c8903a"/>
<ellipse cx="1823.0" cy="655.7" rx="1.4" ry="1.1" fill="#c8903a"/>
<ellipse cx="1812.0" cy="659.7" rx="1.4" ry="1.1" fill="#c8903a"/>
<ellipse cx="1816.0" cy="658.7" rx="1.4" ry="1.1" fill="#c8903a"/>
<ellipse cx="1820.0" cy="658.7" rx="1.4" ry="1.1" fill="#c8903a"/>
<ellipse cx="1823.0" cy="660.7" rx="1.4" ry="1.1" fill="#c8903a"/>
<ellipse cx="1814.0" cy="662.7" rx="1.4" ry="1.1" fill="#c8903a"/>
<ellipse cx="1818.0" cy="662.7" rx="1.4" ry="1.1" fill="#c8903a"/>
<ellipse cx="1821.0" cy="663.7" rx="1.4" ry="1.1" fill="#c8903a"/>
<ellipse cx="1813.0" cy="637.7" rx="1.5" ry="1.2" fill="#9a5a22" opacity="0.7"/>
<ellipse cx="1817.0" cy="636.7" rx="1.5" ry="1.2" fill="#9a5a22" opacity="0.7"/>
<ellipse cx="1815.0" cy="640.7" rx="1.5" ry="1.2" fill="#9a5a22" opacity="0.7"/>
<ellipse cx="1819.0" cy="640.7" rx="1.5" ry="1.2" fill="#9a5a22" opacity="0.7"/>
<ellipse cx="1812.0" cy="642.7" rx="1.5" ry="1.2" fill="#9a5a22" opacity="0.7"/>
<path d="M1800.2,659 Q1816.2,671 1839.6,665" fill="none" stroke="#b87a30" stroke-width="1.2" opacity="0.6"/>
<text x="1818" y="697.2" font-size="12" text-anchor="middle" fill="#505050" font-weight="normal" letter-spacing="0" font-family="'Liberation Sans', sans-serif" dominant-baseline="central" >壁挂喇叭</text>
</svg>
</body></html>
